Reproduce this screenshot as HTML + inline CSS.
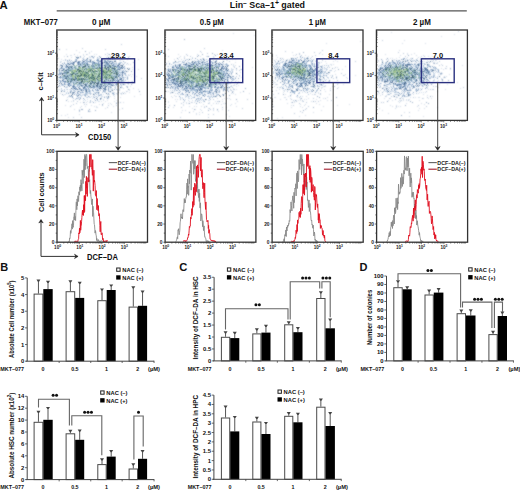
<!DOCTYPE html>
<html><head><meta charset="utf-8"><style>
html,body{margin:0;padding:0;background:#fff;width:520px;height:490px;overflow:hidden}
svg{display:block;font-family:"Liberation Sans", sans-serif}
</style></head><body>
<svg width="520" height="490" viewBox="0 0 520 490">
<rect width="520" height="490" fill="#fff"/>
<text x="-0.40" y="8.60" font-size="11.3" text-anchor="start" font-weight="bold" fill="#111" >A</text>
<line x1="56.70" y1="10.85" x2="466.80" y2="10.85" stroke="#555" stroke-width="1.4"/>
<text x="229.8" y="8.3" font-size="8.6" font-weight="bold" fill="#111" textLength="75.2" lengthAdjust="spacingAndGlyphs">Lin<tspan font-size="6.4" dy="-3.4">&#8211;</tspan><tspan dy="3.4"> Sca&#8211;1</tspan><tspan font-size="6.6" dy="-3.6">+</tspan><tspan dy="3.6"> gated</tspan></text>
<text x="23.80" y="25.10" font-size="8.2" text-anchor="start" font-weight="bold" fill="#111" textLength="34.00" lengthAdjust="spacingAndGlyphs" >MKT&#8211;077</text>
<defs><filter id="sf" filterUnits="userSpaceOnUse" x="0" y="0" width="520" height="130" color-interpolation-filters="sRGB"><feConvolveMatrix order="3" kernelMatrix="1 2 1 2 8 2 1 2 1" divisor="20" edgeMode="none"/></filter></defs>
<text x="101.20" y="25.20" font-size="8.3" text-anchor="middle" font-weight="bold" fill="#111" textLength="18.40" lengthAdjust="spacingAndGlyphs" >0 &#181;M</text>
<g filter="url(#sf)" stroke-linecap="square" stroke-width="1" transform="translate(.5 .5)">
<path d="M121 44h0M82 48h0M105 49h0M74 54h0M86 54h0M105 54h0M118 54h0M58 58h0M123 58h0M65 59h0M127 59h0M60 62h0M125 62h0M127 63h0M129 69h0M141 78h0M132 81h0M132 82h0M127 83h0M126 86h0M127 86h0M119 90h0M126 91h0M116 93h0M121 93h0M114 94h0M117 94h0M69 96h0M73 98h0M73 100h0M77 101h0M90 101h0M84 102h0M90 102h0M118 102h0M120 102h0M76 103h0M73 104h0M84 104h0M86 104h0M102 105h0M108 105h0M116 105h0M70 106h0M107 107h0M122 108h0M88 110h0M79 111h0M89 111h0M73 117h0M81 117h0" stroke="#bccadc"/>
<path d="M59 49h0M85 51h0M109 54h0M67 56h0M80 56h0M91 56h0M128 57h0M123 61h0M133 62h0M129 68h0M131 71h0M128 83h0M131 84h0M127 87h0M128 89h0M139 91h0M123 93h0M62 94h0M66 100h0M83 102h0M116 103h0M102 104h0M81 109h0M82 109h0M89 109h0M79 110h0M95 110h0M88 111h0" stroke="#98acc6"/>
<path d="M66 49h0M76 50h0M91 51h0M79 52h0M89 52h0M89 53h0M107 53h0M112 53h0M66 54h0M83 54h0M87 54h0M94 54h0M96 54h0M108 54h0M70 55h0M71 55h0M77 55h0M83 55h0M107 55h0M110 55h0M64 56h0M75 56h0M89 56h0M114 56h0M116 56h0M119 56h0M129 56h0M71 57h0M122 57h0M61 59h0M121 59h0M122 59h0M138 59h0M60 61h0M61 61h0M124 62h0M128 64h0M130 64h0M132 67h0M132 69h0M138 69h0M130 74h0M132 74h0M129 75h0M131 76h0M136 76h0M128 81h0M131 81h0M132 83h0M125 84h0M128 84h0M130 86h0M122 87h0M123 88h0M133 88h0M58 89h0M59 89h0M129 89h0M138 89h0M129 90h0M127 91h0M122 92h0M124 92h0M129 92h0M60 93h0M117 93h0M120 93h0M125 93h0M64 94h0M65 94h0M121 94h0M140 94h0M63 95h0M113 95h0M68 96h0M114 96h0M134 96h0M67 97h0M107 97h0M120 97h0M108 98h0M114 98h0M67 99h0M103 99h0M103 100h0M107 100h0M116 100h0M68 101h0M71 101h0M73 101h0M87 101h0M99 101h0M101 101h0M105 101h0M114 101h0M80 102h0M86 102h0M89 102h0M95 102h0M116 102h0M123 102h0M103 103h0M108 103h0M110 103h0M99 104h0M111 104h0M65 105h0M71 105h0M91 105h0M81 106h0M85 106h0M94 106h0M96 106h0M113 106h0M80 107h0M96 107h0M97 107h0M105 108h0M74 109h0M79 109h0M119 109h0M90 111h0M111 112h0M67 114h0M79 114h0M61 115h0M65 115h0M68 117h0" stroke="#d6dfea"/>
<path d="M84 56h0M83 57h0M89 57h0M90 57h0M92 57h0M78 58h0M82 58h0M83 58h0M93 58h0M97 58h0M98 58h0M99 58h0M110 58h0M69 59h0M84 59h0M91 59h0M109 59h0M114 59h0M63 60h0M75 60h0M84 60h0M94 60h0M114 60h0M119 60h0M120 60h0M68 61h0M72 61h0M82 61h0M107 61h0M67 62h0M69 62h0M70 62h0M71 62h0M72 62h0M116 62h0M119 62h0M122 63h0M124 63h0M60 64h0M126 64h0M64 65h0M59 66h0M61 66h0M121 66h0M124 67h0M59 68h0M125 68h0M124 69h0M58 70h0M123 71h0M125 71h0M127 71h0M128 71h0M124 72h0M124 74h0M128 74h0M58 75h0M126 75h0M128 75h0M127 76h0M124 77h0M125 79h0M119 81h0M124 81h0M62 82h0M122 83h0M123 83h0M63 84h0M121 84h0M122 84h0M61 85h0M63 85h0M119 85h0M60 86h0M67 86h0M115 86h0M119 86h0M121 86h0M65 87h0M67 87h0M114 87h0M112 88h0M115 88h0M119 88h0M61 89h0M66 89h0M69 89h0M70 89h0M72 89h0M110 89h0M111 89h0M112 89h0M61 90h0M64 90h0M70 90h0M104 90h0M111 90h0M117 90h0M63 91h0M67 91h0M74 91h0M87 91h0M66 92h0M68 92h0M85 92h0M99 92h0M104 92h0M105 92h0M110 92h0M112 92h0M113 92h0M114 92h0M70 93h0M75 93h0M80 93h0M87 93h0M88 93h0M91 93h0M93 93h0M78 94h0M80 94h0M82 94h0M83 94h0M87 94h0M103 94h0M107 94h0M109 94h0M81 95h0M82 95h0M87 95h0M94 95h0M100 95h0M101 95h0M71 96h0M81 96h0M89 96h0M91 96h0M95 96h0M98 96h0M101 96h0M102 96h0M104 96h0M110 96h0M79 97h0M86 97h0M89 97h0M90 97h0M93 97h0M101 97h0M106 97h0M78 98h0M92 98h0M87 99h0M94 99h0M83 100h0M85 100h0M92 101h0M98 101h0" stroke="#d0dcea"/>
<path d="M92 56h0M99 56h0M77 57h0M93 57h0M110 57h0M77 58h0M104 58h0M109 58h0M112 58h0M114 58h0M117 58h0M76 59h0M83 59h0M86 59h0M97 59h0M110 59h0M112 59h0M67 60h0M69 60h0M76 60h0M82 60h0M85 60h0M100 60h0M76 61h0M79 61h0M112 61h0M62 63h0M64 63h0M67 63h0M70 63h0M119 63h0M118 64h0M123 64h0M60 65h0M62 65h0M120 65h0M124 66h0M123 67h0M60 68h0M124 68h0M59 69h0M124 73h0M125 73h0M123 77h0M127 77h0M127 78h0M123 79h0M121 80h0M122 80h0M121 81h0M60 82h0M62 84h0M120 84h0M59 85h0M75 88h0M114 89h0M108 90h0M64 91h0M70 91h0M103 91h0M72 92h0M74 92h0M77 92h0M96 92h0M118 92h0M68 93h0M72 93h0M77 93h0M95 93h0M98 93h0M108 93h0M112 93h0M113 93h0M74 94h0M79 94h0M85 95h0M99 95h0M70 96h0M72 96h0M77 96h0M88 96h0M72 97h0M94 97h0M104 97h0M108 97h0M76 98h0M80 98h0M83 98h0M107 98h0M79 99h0M97 99h0M100 99h0M95 100h0M93 102h0" stroke="#8aa4c4"/>
<path d="M94 56h0M80 57h0M97 57h0M106 57h0M102 58h0M107 58h0M75 59h0M87 59h0M89 59h0M90 59h0M98 59h0M101 59h0M102 59h0M65 60h0M71 60h0M86 60h0M115 60h0M67 61h0M70 61h0M74 61h0M64 62h0M113 62h0M120 62h0M121 62h0M118 63h0M120 63h0M63 64h0M65 64h0M122 67h0M125 70h0M124 71h0M125 74h0M125 75h0M125 77h0M123 78h0M58 79h0M127 79h0M123 80h0M125 80h0M58 81h0M122 81h0M123 81h0M61 84h0M124 84h0M62 85h0M114 85h0M116 85h0M121 85h0M117 86h0M66 87h0M111 87h0M115 87h0M121 87h0M61 88h0M64 89h0M67 89h0M106 89h0M116 89h0M117 89h0M119 89h0M62 90h0M71 90h0M73 90h0M74 90h0M71 91h0M75 91h0M77 91h0M104 91h0M105 91h0M108 91h0M109 91h0M81 92h0M97 92h0M102 92h0M66 93h0M73 93h0M78 93h0M85 93h0M86 93h0M89 93h0M90 93h0M76 94h0M84 94h0M85 94h0M86 94h0M90 94h0M94 94h0M96 94h0M98 94h0M100 94h0M101 94h0M108 94h0M113 94h0M69 95h0M76 95h0M77 95h0M80 95h0M84 95h0M98 95h0M85 96h0M93 96h0M96 96h0M106 96h0M78 97h0M80 97h0M87 97h0M97 97h0M77 98h0M101 98h0M75 99h0M84 99h0M90 100h0M97 100h0" stroke="#b0c4da"/>
<path d="M76 57h0M78 57h0M100 57h0M108 57h0M111 57h0M87 58h0M108 58h0M101 60h0M75 61h0M114 61h0M115 61h0M68 63h0M119 64h0M61 65h0M121 65h0M122 65h0M62 66h0M122 66h0M61 67h0M127 68h0M128 69h0M126 71h0M120 82h0M59 83h0M61 83h0M117 84h0M123 84h0M58 86h0M64 86h0M120 87h0M112 90h0M61 91h0M78 91h0M110 91h0M70 92h0M73 92h0M98 92h0M106 93h0M72 94h0M93 94h0M71 95h0M78 95h0M108 96h0M96 98h0M100 98h0" stroke="#5a7898"/>
<path d="M87 60h0M102 60h0M103 60h0M97 61h0M81 62h0M84 62h0M86 62h0M89 62h0M91 62h0M95 62h0M96 62h0M100 62h0M103 62h0M74 63h0M81 63h0M83 63h0M85 63h0M99 63h0M104 63h0M109 63h0M113 63h0M115 63h0M67 64h0M77 64h0M81 64h0M93 64h0M104 64h0M114 64h0M115 64h0M68 65h0M71 65h0M77 65h0M78 65h0M114 65h0M115 65h0M64 66h0M65 66h0M62 67h0M66 68h0M119 68h0M120 69h0M119 70h0M120 70h0M121 70h0M122 70h0M61 71h0M119 71h0M60 72h0M63 72h0M120 73h0M64 74h0M120 74h0M121 74h0M61 75h0M117 76h0M119 76h0M121 76h0M63 78h0M119 78h0M62 79h0M65 80h0M115 80h0M119 80h0M61 81h0M62 81h0M66 81h0M120 81h0M66 82h0M112 82h0M70 83h0M71 83h0M74 83h0M105 83h0M107 83h0M112 83h0M66 84h0M70 84h0M71 84h0M75 84h0M76 84h0M112 84h0M69 85h0M74 85h0M78 85h0M79 85h0M100 85h0M110 85h0M66 86h0M75 86h0M76 86h0M95 86h0M103 86h0M104 86h0M72 87h0M74 87h0M79 87h0M82 87h0M95 87h0M96 87h0M99 87h0M104 87h0M72 88h0M90 88h0M94 88h0M96 88h0M97 88h0M98 88h0M110 88h0M73 89h0M78 89h0M82 89h0M83 89h0M84 89h0M87 89h0M99 89h0M102 89h0M80 90h0M82 90h0M88 90h0M90 90h0M93 90h0M95 90h0M82 91h0M90 91h0M89 92h0M90 92h0M94 92h0M95 92h0" stroke="#c8d8e8"/>
<path d="M90 60h0M83 61h0M90 61h0M100 61h0M110 61h0M73 62h0M78 62h0M94 62h0M102 62h0M104 62h0M106 62h0M111 63h0M69 64h0M73 64h0M78 64h0M66 65h0M112 65h0M118 65h0M67 66h0M114 66h0M115 66h0M121 67h0M122 68h0M63 69h0M119 69h0M62 70h0M65 70h0M122 72h0M122 75h0M60 76h0M116 76h0M118 76h0M121 78h0M120 79h0M62 80h0M67 80h0M118 80h0M65 81h0M118 81h0M118 82h0M69 83h0M101 84h0M68 85h0M85 85h0M97 85h0M103 85h0M112 85h0M73 86h0M90 86h0M93 86h0M97 86h0M99 86h0M101 86h0M106 86h0M84 87h0M91 87h0M100 87h0M105 87h0M71 88h0M74 88h0M79 88h0M83 88h0M99 88h0M100 88h0M103 88h0M77 89h0M105 89h0M81 90h0M86 90h0M86 91h0" stroke="#44648a"/>
<path d="M96 60h0M108 60h0M80 61h0M86 61h0M87 61h0M89 61h0M93 61h0M98 61h0M99 61h0M104 61h0M106 61h0M108 61h0M111 61h0M83 62h0M85 62h0M87 62h0M90 62h0M92 62h0M105 62h0M77 63h0M79 63h0M80 63h0M93 63h0M97 63h0M100 63h0M110 63h0M112 63h0M114 63h0M116 63h0M66 64h0M68 64h0M70 64h0M72 64h0M79 64h0M82 64h0M86 64h0M94 64h0M105 64h0M106 64h0M111 64h0M116 64h0M113 66h0M116 66h0M118 66h0M65 67h0M117 67h0M118 67h0M120 67h0M62 68h0M63 68h0M64 68h0M118 68h0M121 68h0M123 70h0M59 71h0M118 71h0M59 72h0M61 72h0M119 72h0M120 72h0M121 72h0M59 73h0M61 73h0M59 74h0M117 75h0M118 75h0M120 75h0M62 76h0M122 76h0M58 77h0M61 77h0M119 77h0M120 77h0M122 77h0M60 78h0M62 78h0M120 78h0M59 80h0M60 80h0M63 80h0M117 80h0M64 82h0M65 82h0M114 82h0M116 82h0M117 82h0M117 83h0M65 84h0M67 84h0M69 84h0M73 84h0M105 84h0M110 84h0M113 84h0M115 84h0M71 85h0M80 85h0M83 85h0M91 85h0M104 85h0M105 85h0M113 85h0M77 86h0M81 86h0M82 86h0M88 86h0M102 86h0M109 86h0M110 86h0M85 87h0M87 87h0M89 87h0M93 87h0M97 87h0M98 87h0M102 87h0M108 87h0M73 88h0M80 88h0M84 88h0M85 88h0M86 88h0M93 88h0M76 89h0M79 89h0M80 89h0M88 89h0M89 89h0M92 89h0M85 90h0M89 90h0M96 90h0M100 90h0M105 90h0M79 91h0M85 91h0M88 91h0M93 91h0M83 92h0M86 92h0M87 92h0" stroke="#a0bad4"/>
<path d="M97 60h0M98 60h0M104 60h0M105 60h0M107 60h0M78 61h0M84 61h0M88 61h0M92 61h0M105 61h0M109 61h0M74 62h0M77 62h0M79 62h0M82 62h0M93 62h0M98 62h0M101 62h0M107 62h0M109 62h0M112 62h0M71 63h0M72 63h0M73 63h0M78 63h0M82 63h0M84 63h0M86 63h0M87 63h0M92 63h0M94 63h0M96 63h0M98 63h0M107 63h0M108 63h0M98 64h0M107 64h0M108 64h0M113 64h0M113 65h0M117 65h0M66 66h0M69 66h0M117 66h0M119 66h0M66 67h0M119 67h0M61 68h0M120 68h0M59 70h0M61 70h0M122 71h0M123 72h0M60 73h0M63 73h0M118 73h0M122 73h0M58 74h0M60 74h0M119 74h0M122 74h0M59 77h0M60 77h0M117 78h0M63 79h0M117 79h0M119 79h0M121 79h0M114 80h0M116 80h0M60 81h0M63 81h0M64 81h0M115 81h0M117 81h0M67 82h0M64 83h0M68 83h0M75 83h0M108 83h0M110 83h0M116 83h0M64 84h0M68 84h0M109 84h0M111 84h0M116 84h0M70 85h0M73 85h0M82 85h0M93 85h0M101 85h0M107 85h0M111 85h0M69 86h0M72 86h0M74 86h0M86 86h0M87 86h0M96 86h0M100 86h0M105 86h0M108 86h0M73 87h0M75 87h0M78 87h0M83 87h0M92 87h0M94 87h0M110 87h0M76 88h0M88 88h0M101 88h0M104 88h0M105 88h0M108 88h0M75 89h0M81 89h0M85 89h0M86 89h0M95 89h0M97 89h0M104 89h0M108 89h0M83 90h0M92 90h0M97 90h0M98 90h0M103 90h0M89 91h0M80 92h0M82 92h0" stroke="#7492b8"/>
<path d="M95 63h0M85 64h0M88 64h0M89 64h0M101 64h0M73 65h0M80 65h0M81 65h0M92 65h0M100 65h0M102 65h0M106 65h0M107 65h0M108 65h0M74 66h0M75 66h0M82 66h0M98 66h0M99 66h0M101 66h0M107 66h0M108 66h0M69 67h0M70 67h0M88 67h0M89 67h0M92 67h0M94 67h0M111 67h0M71 68h0M76 68h0M78 68h0M94 68h0M64 69h0M66 69h0M70 69h0M71 69h0M72 69h0M79 69h0M109 69h0M111 69h0M115 69h0M63 70h0M71 70h0M113 70h0M114 70h0M117 70h0M66 71h0M67 71h0M68 71h0M116 71h0M114 72h0M115 72h0M65 73h0M75 73h0M66 74h0M69 74h0M76 74h0M65 75h0M68 75h0M111 75h0M112 75h0M114 75h0M63 76h0M68 76h0M74 76h0M114 76h0M62 77h0M63 77h0M65 77h0M72 77h0M64 78h0M67 78h0M68 78h0M70 78h0M101 78h0M107 78h0M66 79h0M67 79h0M69 79h0M70 79h0M76 79h0M88 79h0M105 79h0M108 79h0M115 79h0M70 80h0M76 80h0M80 80h0M86 80h0M97 80h0M106 80h0M75 81h0M83 81h0M94 81h0M99 81h0M105 81h0M106 81h0M109 81h0M68 82h0M78 82h0M87 82h0M97 82h0M100 82h0M106 82h0M111 82h0M80 83h0M85 83h0M93 83h0M100 83h0M102 83h0M77 84h0M78 84h0M79 84h0M80 84h0M91 84h0M94 84h0M95 84h0M98 84h0M102 84h0M106 84h0M77 85h0M88 85h0M92 85h0M99 85h0M85 86h0M90 87h0" stroke="#98b8cc"/>
<path d="M101 63h0M106 63h0M83 64h0M92 64h0M99 64h0M87 65h0M91 65h0M93 65h0M96 65h0M98 65h0M99 65h0M105 65h0M70 66h0M71 66h0M72 66h0M78 66h0M92 66h0M93 66h0M94 66h0M109 66h0M74 67h0M97 67h0M104 67h0M112 67h0M68 68h0M69 68h0M72 68h0M75 68h0M85 68h0M86 68h0M89 68h0M93 68h0M97 68h0M108 68h0M115 68h0M67 69h0M68 69h0M90 69h0M101 69h0M117 69h0M118 69h0M68 70h0M112 70h0M116 70h0M72 71h0M64 72h0M65 72h0M66 72h0M117 72h0M64 73h0M66 73h0M74 73h0M113 73h0M70 74h0M67 75h0M69 75h0M71 75h0M119 75h0M64 76h0M65 76h0M66 76h0M71 76h0M113 76h0M115 76h0M66 77h0M116 77h0M69 78h0M71 78h0M72 78h0M75 78h0M82 78h0M113 78h0M114 78h0M75 79h0M80 79h0M85 79h0M86 79h0M94 79h0M101 79h0M71 80h0M72 80h0M112 80h0M113 80h0M71 81h0M84 81h0M91 81h0M98 81h0M102 81h0M112 81h0M70 82h0M73 82h0M76 82h0M79 82h0M80 82h0M93 82h0M103 82h0M108 82h0M73 83h0M81 83h0M87 83h0M104 83h0M109 83h0M84 84h0M86 84h0M90 84h0M108 84h0M86 85h0M79 86h0M84 86h0M94 86h0" stroke="#6e90aa"/>
<path d="M102 63h0M80 64h0M87 64h0M85 65h0M104 65h0M109 65h0M79 66h0M83 66h0M84 66h0M85 66h0M88 66h0M105 66h0M110 66h0M68 67h0M71 67h0M82 67h0M99 67h0M105 67h0M108 67h0M110 67h0M96 68h0M112 68h0M113 68h0M114 68h0M108 69h0M114 69h0M66 70h0M115 71h0M67 72h0M68 72h0M116 72h0M62 73h0M114 73h0M116 73h0M62 74h0M116 74h0M117 74h0M64 75h0M67 76h0M75 77h0M111 77h0M115 77h0M65 78h0M66 78h0M76 78h0M109 78h0M112 78h0M71 79h0M73 79h0M81 79h0M106 79h0M113 79h0M74 80h0M77 80h0M108 80h0M110 80h0M68 81h0M70 81h0M89 81h0M92 81h0M104 81h0M77 82h0M81 82h0M92 82h0M95 82h0M98 82h0M105 82h0M79 83h0M83 83h0M90 83h0M91 83h0M94 83h0M96 83h0M97 83h0M98 83h0M85 84h0M97 84h0M100 84h0M81 85h0M89 85h0M96 85h0" stroke="#3a5a74"/>
<path d="M105 63h0M90 64h0M96 64h0M100 64h0M102 64h0M109 64h0M79 65h0M82 65h0M84 65h0M86 65h0M88 65h0M89 65h0M94 65h0M97 65h0M103 65h0M111 65h0M68 66h0M76 66h0M80 66h0M81 66h0M86 66h0M87 66h0M90 66h0M95 66h0M96 66h0M97 66h0M102 66h0M104 66h0M106 66h0M111 66h0M112 66h0M67 67h0M72 67h0M73 67h0M76 67h0M87 67h0M91 67h0M93 67h0M98 67h0M109 67h0M113 67h0M70 68h0M73 68h0M74 68h0M77 68h0M107 68h0M117 68h0M69 69h0M73 69h0M74 69h0M107 69h0M113 69h0M116 69h0M64 70h0M67 70h0M63 71h0M65 71h0M69 71h0M77 71h0M112 71h0M114 71h0M69 72h0M77 72h0M118 72h0M68 73h0M69 73h0M112 73h0M65 74h0M67 74h0M114 74h0M115 74h0M118 74h0M62 75h0M66 75h0M70 75h0M113 75h0M115 75h0M69 76h0M64 77h0M67 77h0M69 77h0M70 77h0M71 77h0M114 77h0M104 78h0M115 78h0M116 78h0M64 79h0M96 79h0M103 79h0M104 79h0M107 79h0M110 79h0M111 79h0M114 79h0M68 80h0M69 80h0M73 80h0M75 80h0M88 80h0M96 80h0M102 80h0M105 80h0M109 80h0M111 80h0M69 81h0M72 81h0M73 81h0M74 81h0M76 81h0M78 81h0M79 81h0M80 81h0M90 81h0M93 81h0M101 81h0M107 81h0M108 81h0M111 81h0M113 81h0M71 82h0M72 82h0M74 82h0M75 82h0M82 82h0M85 82h0M86 82h0M91 82h0M96 82h0M99 82h0M101 82h0M107 82h0M109 82h0M78 83h0M82 83h0M86 83h0M92 83h0M99 83h0M101 83h0M103 83h0M106 83h0M81 84h0M83 84h0M87 84h0M88 84h0M89 84h0M99 84h0M107 84h0M90 85h0M94 85h0M95 85h0M98 85h0M92 86h0M98 86h0M88 87h0" stroke="#c4d8e4"/>
<path d="M84 64h0M95 64h0M97 64h0M74 65h0M76 65h0M95 65h0M101 65h0M110 65h0M89 66h0M91 66h0M75 67h0M78 67h0M79 67h0M80 67h0M84 67h0M114 67h0M116 67h0M98 68h0M109 68h0M111 68h0M93 69h0M83 70h0M115 70h0M64 71h0M117 71h0M117 73h0M63 75h0M116 75h0M112 77h0M113 77h0M117 77h0M73 78h0M111 78h0M68 79h0M72 79h0M98 79h0M112 79h0M90 80h0M67 81h0M100 81h0M103 81h0M110 81h0M83 82h0M84 82h0M102 82h0M104 82h0M76 83h0M89 83h0M74 84h0M93 84h0M104 84h0M89 86h0" stroke="#90b894"/>
<path d="M100 66h0M85 67h0M86 67h0M90 67h0M95 67h0M96 67h0M101 67h0M103 67h0M81 68h0M83 68h0M84 68h0M87 68h0M102 68h0M103 68h0M76 69h0M80 69h0M81 69h0M83 69h0M85 69h0M92 69h0M99 69h0M100 69h0M104 69h0M105 69h0M112 69h0M76 70h0M82 70h0M84 70h0M85 70h0M87 70h0M96 70h0M97 70h0M106 70h0M107 70h0M70 71h0M73 71h0M84 71h0M86 71h0M87 71h0M91 71h0M98 71h0M101 71h0M75 72h0M76 72h0M81 72h0M89 72h0M90 72h0M92 72h0M95 72h0M97 72h0M98 72h0M101 72h0M108 72h0M110 72h0M113 72h0M71 73h0M79 73h0M90 73h0M93 73h0M97 73h0M107 73h0M108 73h0M109 73h0M68 74h0M73 74h0M74 74h0M77 74h0M78 74h0M79 74h0M93 74h0M95 74h0M97 74h0M100 74h0M111 74h0M112 74h0M113 74h0M74 75h0M87 75h0M90 75h0M94 75h0M96 75h0M97 75h0M100 75h0M104 75h0M106 75h0M108 75h0M76 76h0M81 76h0M90 76h0M96 76h0M102 76h0M103 76h0M107 76h0M110 76h0M112 76h0M74 77h0M76 77h0M79 77h0M80 77h0M81 77h0M82 77h0M85 77h0M87 77h0M95 77h0M96 77h0M99 77h0M108 77h0M74 78h0M84 78h0M86 78h0M87 78h0M97 78h0M102 78h0M110 78h0M90 79h0M91 79h0M99 79h0M85 80h0M87 80h0M107 80h0M96 81h0M97 81h0" stroke="#c0d8d0"/>
<path d="M83 67h0M102 67h0M92 68h0M95 68h0M99 68h0M105 68h0M82 69h0M86 69h0M91 69h0M69 70h0M70 70h0M77 70h0M89 70h0M95 70h0M98 70h0M101 70h0M103 70h0M78 71h0M85 71h0M90 71h0M92 71h0M94 71h0M95 71h0M97 71h0M99 71h0M106 71h0M107 71h0M113 71h0M73 72h0M82 72h0M85 72h0M87 72h0M91 72h0M93 72h0M103 72h0M112 72h0M72 73h0M76 73h0M82 73h0M86 73h0M87 73h0M88 73h0M94 73h0M96 73h0M99 73h0M100 73h0M102 73h0M105 73h0M85 74h0M89 74h0M103 74h0M106 74h0M107 74h0M108 74h0M77 75h0M83 75h0M85 75h0M103 75h0M105 75h0M107 75h0M110 75h0M75 76h0M80 76h0M84 76h0M85 76h0M87 76h0M88 76h0M91 76h0M92 76h0M95 76h0M97 76h0M98 76h0M101 76h0M104 76h0M106 76h0M111 76h0M68 77h0M84 77h0M88 77h0M91 77h0M92 77h0M94 77h0M101 77h0M104 77h0M105 77h0M78 78h0M79 78h0M92 78h0M105 78h0M78 79h0M82 79h0M83 79h0M87 79h0M102 79h0M78 80h0M91 80h0M95 80h0M98 80h0M87 81h0M88 82h0M90 82h0M94 82h0" stroke="#68948c"/>
<path d="M100 67h0M80 68h0M82 68h0M88 68h0M91 68h0M104 68h0M87 69h0M110 69h0M74 70h0M86 70h0M88 70h0M102 70h0M104 70h0M110 70h0M111 70h0M71 71h0M75 71h0M80 71h0M105 71h0M109 71h0M71 72h0M72 72h0M74 72h0M78 72h0M79 72h0M84 72h0M94 72h0M99 72h0M100 72h0M102 72h0M105 72h0M107 72h0M109 72h0M67 73h0M70 73h0M78 73h0M81 73h0M84 73h0M85 73h0M91 73h0M92 73h0M95 73h0M98 73h0M101 73h0M106 73h0M110 73h0M111 73h0M83 74h0M87 74h0M88 74h0M91 74h0M94 74h0M96 74h0M98 74h0M101 74h0M102 74h0M105 74h0M109 74h0M110 74h0M75 75h0M76 75h0M79 75h0M89 75h0M99 75h0M70 76h0M78 76h0M86 76h0M93 76h0M100 76h0M105 76h0M108 76h0M98 77h0M103 77h0M107 77h0M109 77h0M110 77h0M80 78h0M85 78h0M88 78h0M90 78h0M93 78h0M99 78h0M106 78h0M108 78h0M77 79h0M89 79h0M92 79h0M100 79h0M84 80h0M92 80h0M94 80h0M85 81h0" stroke="#90b890"/>
<path d="M107 67h0M100 68h0M101 68h0M106 68h0M77 69h0M78 69h0M84 69h0M106 69h0M79 70h0M80 70h0M90 70h0M92 70h0M100 70h0M108 70h0M76 71h0M79 71h0M81 71h0M83 71h0M88 71h0M93 71h0M96 71h0M102 71h0M103 71h0M110 71h0M86 72h0M104 72h0M106 72h0M111 72h0M73 73h0M77 73h0M80 73h0M71 74h0M72 74h0M75 74h0M81 74h0M84 74h0M92 74h0M99 74h0M78 75h0M80 75h0M81 75h0M84 75h0M86 75h0M88 75h0M92 75h0M93 75h0M98 75h0M109 75h0M77 76h0M79 76h0M99 76h0M86 77h0M90 77h0M93 77h0M97 77h0M106 77h0M81 78h0M83 78h0M89 78h0M91 78h0M94 78h0M96 78h0M100 78h0M74 79h0M79 79h0M84 79h0M93 79h0M97 79h0M82 80h0M100 80h0M104 80h0M81 81h0M82 81h0" stroke="#385a64"/>
<path d="M79 68h0M90 68h0M75 69h0M88 69h0M89 69h0M94 69h0M97 69h0M98 69h0M102 69h0M103 69h0M72 70h0M73 70h0M75 70h0M78 70h0M81 70h0M91 70h0M94 70h0M99 70h0M105 70h0M109 70h0M74 71h0M82 71h0M89 71h0M100 71h0M104 71h0M108 71h0M80 72h0M83 72h0M88 72h0M83 73h0M103 73h0M104 73h0M115 73h0M80 74h0M82 74h0M86 74h0M90 74h0M104 74h0M72 75h0M73 75h0M82 75h0M91 75h0M95 75h0M101 75h0M102 75h0M72 76h0M73 76h0M82 76h0M83 76h0M89 76h0M94 76h0M109 76h0M73 77h0M77 77h0M78 77h0M89 77h0M100 77h0M102 77h0M77 78h0M95 78h0M98 78h0M103 78h0M95 79h0M79 80h0M81 80h0M89 80h0M93 80h0M99 80h0M86 81h0M88 81h0M95 81h0" stroke="#a8c890"/>
</g>
<rect x="56.80" y="30.0" width="90.50" height="90.40" fill="none" stroke="#333" stroke-width="1.3"/>
<line x1="56.80" y1="120.40" x2="56.80" y2="122.40" stroke="#333" stroke-width="0.6"/>
<line x1="63.56" y1="120.40" x2="63.56" y2="121.80" stroke="#333" stroke-width="0.6"/>
<line x1="67.51" y1="120.40" x2="67.51" y2="121.80" stroke="#333" stroke-width="0.6"/>
<line x1="70.32" y1="120.40" x2="70.32" y2="121.80" stroke="#333" stroke-width="0.6"/>
<line x1="72.49" y1="120.40" x2="72.49" y2="121.80" stroke="#333" stroke-width="0.6"/>
<line x1="74.27" y1="120.40" x2="74.27" y2="121.80" stroke="#333" stroke-width="0.6"/>
<line x1="75.77" y1="120.40" x2="75.77" y2="121.80" stroke="#333" stroke-width="0.6"/>
<line x1="77.07" y1="120.40" x2="77.07" y2="121.80" stroke="#333" stroke-width="0.6"/>
<line x1="78.22" y1="120.40" x2="78.22" y2="121.80" stroke="#333" stroke-width="0.6"/>
<line x1="79.25" y1="120.40" x2="79.25" y2="122.40" stroke="#333" stroke-width="0.6"/>
<line x1="86.01" y1="120.40" x2="86.01" y2="121.80" stroke="#333" stroke-width="0.6"/>
<line x1="89.96" y1="120.40" x2="89.96" y2="121.80" stroke="#333" stroke-width="0.6"/>
<line x1="92.77" y1="120.40" x2="92.77" y2="121.80" stroke="#333" stroke-width="0.6"/>
<line x1="94.94" y1="120.40" x2="94.94" y2="121.80" stroke="#333" stroke-width="0.6"/>
<line x1="96.72" y1="120.40" x2="96.72" y2="121.80" stroke="#333" stroke-width="0.6"/>
<line x1="98.22" y1="120.40" x2="98.22" y2="121.80" stroke="#333" stroke-width="0.6"/>
<line x1="99.52" y1="120.40" x2="99.52" y2="121.80" stroke="#333" stroke-width="0.6"/>
<line x1="100.67" y1="120.40" x2="100.67" y2="121.80" stroke="#333" stroke-width="0.6"/>
<line x1="101.70" y1="120.40" x2="101.70" y2="122.40" stroke="#333" stroke-width="0.6"/>
<line x1="108.46" y1="120.40" x2="108.46" y2="121.80" stroke="#333" stroke-width="0.6"/>
<line x1="112.41" y1="120.40" x2="112.41" y2="121.80" stroke="#333" stroke-width="0.6"/>
<line x1="115.22" y1="120.40" x2="115.22" y2="121.80" stroke="#333" stroke-width="0.6"/>
<line x1="117.39" y1="120.40" x2="117.39" y2="121.80" stroke="#333" stroke-width="0.6"/>
<line x1="119.17" y1="120.40" x2="119.17" y2="121.80" stroke="#333" stroke-width="0.6"/>
<line x1="120.67" y1="120.40" x2="120.67" y2="121.80" stroke="#333" stroke-width="0.6"/>
<line x1="121.97" y1="120.40" x2="121.97" y2="121.80" stroke="#333" stroke-width="0.6"/>
<line x1="123.12" y1="120.40" x2="123.12" y2="121.80" stroke="#333" stroke-width="0.6"/>
<line x1="124.15" y1="120.40" x2="124.15" y2="122.40" stroke="#333" stroke-width="0.6"/>
<line x1="130.91" y1="120.40" x2="130.91" y2="121.80" stroke="#333" stroke-width="0.6"/>
<line x1="134.86" y1="120.40" x2="134.86" y2="121.80" stroke="#333" stroke-width="0.6"/>
<line x1="137.67" y1="120.40" x2="137.67" y2="121.80" stroke="#333" stroke-width="0.6"/>
<line x1="139.84" y1="120.40" x2="139.84" y2="121.80" stroke="#333" stroke-width="0.6"/>
<line x1="141.62" y1="120.40" x2="141.62" y2="121.80" stroke="#333" stroke-width="0.6"/>
<line x1="143.12" y1="120.40" x2="143.12" y2="121.80" stroke="#333" stroke-width="0.6"/>
<line x1="144.42" y1="120.40" x2="144.42" y2="121.80" stroke="#333" stroke-width="0.6"/>
<line x1="145.57" y1="120.40" x2="145.57" y2="121.80" stroke="#333" stroke-width="0.6"/>
<line x1="55.00" y1="120.40" x2="56.80" y2="120.40" stroke="#333" stroke-width="0.7"/>
<line x1="56.80" y1="113.66" x2="58.00" y2="113.66" stroke="#333" stroke-width="0.6"/>
<line x1="56.80" y1="109.71" x2="58.00" y2="109.71" stroke="#333" stroke-width="0.6"/>
<line x1="56.80" y1="106.91" x2="58.00" y2="106.91" stroke="#333" stroke-width="0.6"/>
<line x1="56.80" y1="104.74" x2="58.00" y2="104.74" stroke="#333" stroke-width="0.6"/>
<line x1="56.80" y1="102.97" x2="58.00" y2="102.97" stroke="#333" stroke-width="0.6"/>
<line x1="56.80" y1="101.47" x2="58.00" y2="101.47" stroke="#333" stroke-width="0.6"/>
<line x1="56.80" y1="100.17" x2="58.00" y2="100.17" stroke="#333" stroke-width="0.6"/>
<line x1="56.80" y1="99.02" x2="58.00" y2="99.02" stroke="#333" stroke-width="0.6"/>
<line x1="55.00" y1="98.00" x2="56.80" y2="98.00" stroke="#333" stroke-width="0.7"/>
<line x1="56.80" y1="91.26" x2="58.00" y2="91.26" stroke="#333" stroke-width="0.6"/>
<line x1="56.80" y1="87.31" x2="58.00" y2="87.31" stroke="#333" stroke-width="0.6"/>
<line x1="56.80" y1="84.51" x2="58.00" y2="84.51" stroke="#333" stroke-width="0.6"/>
<line x1="56.80" y1="82.34" x2="58.00" y2="82.34" stroke="#333" stroke-width="0.6"/>
<line x1="56.80" y1="80.57" x2="58.00" y2="80.57" stroke="#333" stroke-width="0.6"/>
<line x1="56.80" y1="79.07" x2="58.00" y2="79.07" stroke="#333" stroke-width="0.6"/>
<line x1="56.80" y1="77.77" x2="58.00" y2="77.77" stroke="#333" stroke-width="0.6"/>
<line x1="56.80" y1="76.62" x2="58.00" y2="76.62" stroke="#333" stroke-width="0.6"/>
<line x1="55.00" y1="75.60" x2="56.80" y2="75.60" stroke="#333" stroke-width="0.7"/>
<line x1="56.80" y1="68.86" x2="58.00" y2="68.86" stroke="#333" stroke-width="0.6"/>
<line x1="56.80" y1="64.91" x2="58.00" y2="64.91" stroke="#333" stroke-width="0.6"/>
<line x1="56.80" y1="62.11" x2="58.00" y2="62.11" stroke="#333" stroke-width="0.6"/>
<line x1="56.80" y1="59.94" x2="58.00" y2="59.94" stroke="#333" stroke-width="0.6"/>
<line x1="56.80" y1="58.17" x2="58.00" y2="58.17" stroke="#333" stroke-width="0.6"/>
<line x1="56.80" y1="56.67" x2="58.00" y2="56.67" stroke="#333" stroke-width="0.6"/>
<line x1="56.80" y1="55.37" x2="58.00" y2="55.37" stroke="#333" stroke-width="0.6"/>
<line x1="56.80" y1="54.22" x2="58.00" y2="54.22" stroke="#333" stroke-width="0.6"/>
<line x1="55.00" y1="53.20" x2="56.80" y2="53.20" stroke="#333" stroke-width="0.7"/>
<line x1="56.80" y1="46.46" x2="58.00" y2="46.46" stroke="#333" stroke-width="0.6"/>
<line x1="56.80" y1="42.51" x2="58.00" y2="42.51" stroke="#333" stroke-width="0.6"/>
<line x1="56.80" y1="39.71" x2="58.00" y2="39.71" stroke="#333" stroke-width="0.6"/>
<line x1="56.80" y1="37.54" x2="58.00" y2="37.54" stroke="#333" stroke-width="0.6"/>
<line x1="56.80" y1="35.77" x2="58.00" y2="35.77" stroke="#333" stroke-width="0.6"/>
<line x1="56.80" y1="34.27" x2="58.00" y2="34.27" stroke="#333" stroke-width="0.6"/>
<line x1="56.80" y1="32.97" x2="58.00" y2="32.97" stroke="#333" stroke-width="0.6"/>
<line x1="56.80" y1="31.82" x2="58.00" y2="31.82" stroke="#333" stroke-width="0.6"/>
<text x="56.60" y="128.00" font-size="4.6" font-weight="bold" text-anchor="middle" fill="#222">10<tspan font-size="3.31" dy="-2.2">0</tspan></text>
<text x="54.20" y="122.20" font-size="4.6" font-weight="bold" text-anchor="end" fill="#222">10<tspan font-size="3.31" dy="-2.2">0</tspan></text>
<text x="79.05" y="128.00" font-size="4.6" font-weight="bold" text-anchor="middle" fill="#222">10<tspan font-size="3.31" dy="-2.2">1</tspan></text>
<text x="54.20" y="99.80" font-size="4.6" font-weight="bold" text-anchor="end" fill="#222">10<tspan font-size="3.31" dy="-2.2">1</tspan></text>
<text x="101.50" y="128.00" font-size="4.6" font-weight="bold" text-anchor="middle" fill="#222">10<tspan font-size="3.31" dy="-2.2">2</tspan></text>
<text x="54.20" y="77.40" font-size="4.6" font-weight="bold" text-anchor="end" fill="#222">10<tspan font-size="3.31" dy="-2.2">2</tspan></text>
<text x="123.95" y="128.00" font-size="4.6" font-weight="bold" text-anchor="middle" fill="#222">10<tspan font-size="3.31" dy="-2.2">3</tspan></text>
<text x="54.20" y="55.00" font-size="4.6" font-weight="bold" text-anchor="end" fill="#222">10<tspan font-size="3.31" dy="-2.2">3</tspan></text>
<rect x="101.80" y="58.8" width="32.80" height="23.8" fill="none" stroke="#2b3180" stroke-width="1.4"/>
<text x="118.30" y="57.60" font-size="7.5" text-anchor="middle" font-weight="bold" fill="#111" >29.2</text>
<line x1="118.10" y1="82.60" x2="118.10" y2="148.50" stroke="#444" stroke-width="1.0"/>
<path d="M115.70 146.6 L118.10 150.3 L120.50 146.6 L118.10 148.0 Z" fill="#222" stroke="#222" stroke-width="0.6" stroke-linejoin="round"/>
<text x="211.85" y="25.20" font-size="8.3" text-anchor="middle" font-weight="bold" fill="#111" textLength="24.10" lengthAdjust="spacingAndGlyphs" >0.5 &#181;M</text>
<g filter="url(#sf)" stroke-linecap="square" stroke-width="1" transform="translate(.5 .5)">
<path d="M233 33h0M254 35h0M222 50h0M201 52h0M221 53h0M178 54h0M197 54h0M222 55h0M180 56h0M184 56h0M200 56h0M206 56h0M213 56h0M179 57h0M184 57h0M214 57h0M231 57h0M218 58h0M221 58h0M229 58h0M230 58h0M174 59h0M178 59h0M223 59h0M232 59h0M235 59h0M226 60h0M227 60h0M168 61h0M235 62h0M233 64h0M242 64h0M233 65h0M235 65h0M233 66h0M234 66h0M252 67h0M236 69h0M240 69h0M236 70h0M240 72h0M237 74h0M239 76h0M241 77h0M236 80h0M234 84h0M234 85h0M238 85h0M236 86h0M233 88h0M236 89h0M230 90h0M168 91h0M233 91h0M240 92h0M231 93h0M233 93h0M249 93h0M235 94h0M174 95h0M171 96h0M175 96h0M176 96h0M172 97h0M217 98h0M224 98h0M229 98h0M175 99h0M177 99h0M222 99h0M230 99h0M168 101h0M176 101h0M184 101h0M203 101h0M215 101h0M218 101h0M222 101h0M237 101h0M168 102h0M186 102h0M192 102h0M194 102h0M209 102h0M186 103h0M188 103h0M209 103h0M213 103h0M218 103h0M223 103h0M235 103h0M252 103h0M183 104h0M203 104h0M221 104h0M231 104h0M183 105h0M211 105h0M230 105h0M189 106h0M194 106h0M196 106h0M201 106h0M204 106h0M236 106h0M173 107h0M226 107h0M192 108h0M208 108h0M195 109h0M200 109h0M213 109h0M222 109h0M182 110h0M185 110h0M201 110h0M213 110h0M217 110h0M193 111h0M218 111h0M181 112h0M199 112h0M196 113h0M196 114h0M199 114h0M229 116h0" stroke="#d6dfea"/>
<path d="M184 39h0M212 53h0M202 54h0M198 55h0M215 55h0M197 56h0M208 56h0M177 58h0M166 63h0M239 66h0M236 68h0M241 69h0M238 78h0M237 83h0M245 88h0M228 91h0M243 91h0M232 92h0M229 95h0M236 99h0M219 101h0M199 102h0M189 103h0M225 103h0M174 105h0M206 106h0M168 107h0M194 109h0M217 109h0M208 110h0M189 112h0" stroke="#98acc6"/>
<path d="M204 48h0M168 49h0M200 51h0M207 53h0M186 54h0M214 54h0M217 54h0M187 55h0M168 56h0M190 56h0M207 56h0M223 56h0M213 57h0M184 58h0M229 61h0M166 64h0M231 64h0M234 67h0M239 70h0M239 75h0M236 76h0M235 81h0M238 81h0M236 84h0M232 87h0M230 89h0M233 89h0M234 89h0M231 90h0M166 91h0M232 91h0M171 92h0M222 94h0M227 98h0M180 99h0M213 99h0M247 99h0M217 101h0M183 102h0M191 102h0M181 103h0M208 103h0M216 103h0M169 105h0M181 107h0M204 107h0M222 107h0M209 108h0M213 108h0M242 108h0M210 109h0M228 110h0M202 112h0M208 114h0M213 114h0M226 114h0M180 117h0M208 117h0" stroke="#bccadc"/>
<path d="M192 57h0M202 58h0M212 58h0M217 58h0M181 59h0M186 59h0M191 59h0M201 59h0M204 59h0M208 59h0M210 59h0M211 59h0M183 60h0M188 60h0M194 60h0M203 60h0M178 61h0M179 61h0M180 61h0M184 61h0M187 61h0M196 61h0M209 61h0M210 61h0M175 62h0M176 62h0M177 62h0M178 62h0M186 62h0M209 62h0M213 62h0M217 63h0M223 63h0M177 64h0M178 64h0M220 64h0M223 64h0M224 64h0M227 64h0M226 65h0M167 66h0M170 66h0M231 68h0M166 69h0M167 69h0M231 69h0M232 69h0M233 69h0M166 70h0M231 70h0M232 70h0M166 72h0M230 72h0M231 72h0M235 77h0M228 79h0M232 79h0M234 79h0M233 80h0M166 81h0M167 82h0M229 83h0M169 85h0M170 85h0M174 85h0M224 85h0M231 85h0M233 85h0M167 86h0M172 86h0M174 86h0M230 86h0M167 87h0M173 87h0M176 87h0M225 87h0M228 87h0M173 88h0M174 88h0M221 88h0M174 89h0M181 89h0M218 89h0M221 89h0M170 90h0M182 90h0M174 91h0M211 91h0M218 91h0M223 91h0M170 92h0M173 92h0M182 92h0M186 92h0M207 92h0M208 92h0M212 92h0M217 92h0M218 92h0M170 93h0M175 93h0M181 93h0M194 93h0M209 93h0M210 93h0M215 93h0M216 93h0M178 94h0M181 94h0M185 94h0M186 94h0M189 94h0M192 94h0M196 94h0M211 94h0M216 94h0M185 95h0M194 95h0M198 95h0M208 95h0M211 95h0M213 95h0M217 95h0M185 96h0M189 96h0M191 96h0M194 96h0M197 96h0M209 96h0M210 96h0M182 97h0M185 97h0M188 97h0M192 97h0M209 97h0M210 97h0M180 98h0M182 98h0M188 98h0M189 98h0M196 98h0M199 98h0M201 98h0M185 99h0M198 99h0M202 99h0M203 99h0M188 100h0M192 100h0M197 100h0M198 100h0M201 100h0M208 100h0M209 100h0M189 101h0M195 101h0M201 102h0" stroke="#d0dcea"/>
<path d="M192 58h0M203 58h0M210 58h0M187 59h0M197 59h0M206 59h0M198 60h0M201 60h0M208 60h0M213 60h0M182 61h0M200 61h0M203 61h0M173 62h0M174 62h0M182 62h0M184 62h0M214 62h0M219 62h0M173 63h0M226 63h0M169 64h0M171 64h0M225 64h0M173 65h0M168 66h0M168 68h0M227 68h0M230 71h0M232 71h0M232 72h0M166 73h0M231 74h0M233 78h0M166 79h0M231 79h0M233 79h0M232 80h0M231 81h0M228 82h0M231 82h0M168 83h0M228 83h0M230 83h0M173 84h0M227 84h0M173 86h0M222 86h0M223 86h0M226 86h0M231 86h0M222 87h0M226 87h0M172 88h0M223 88h0M224 88h0M227 88h0M175 89h0M178 89h0M225 89h0M172 90h0M174 90h0M177 90h0M183 90h0M215 90h0M219 90h0M180 91h0M188 91h0M178 92h0M188 92h0M197 92h0M213 92h0M219 92h0M177 93h0M207 93h0M212 93h0M180 94h0M182 94h0M200 94h0M205 94h0M210 94h0M217 94h0M190 95h0M202 95h0M205 95h0M216 95h0M186 96h0M188 96h0M199 96h0M207 96h0M208 96h0M211 96h0M214 96h0M216 96h0M180 97h0M193 97h0M212 97h0M191 98h0M197 98h0M200 98h0M200 99h0M206 99h0M210 99h0M184 100h0M195 100h0M199 100h0M203 100h0" stroke="#b0c4da"/>
<path d="M195 58h0M200 59h0M185 60h0M204 60h0M216 60h0M195 61h0M198 61h0M207 61h0M211 61h0M216 61h0M183 62h0M212 62h0M222 62h0M169 63h0M220 63h0M222 64h0M226 64h0M227 65h0M228 65h0M231 73h0M232 76h0M233 76h0M230 77h0M231 77h0M230 78h0M232 78h0M235 78h0M228 81h0M166 82h0M169 82h0M166 83h0M225 83h0M166 84h0M167 84h0M227 85h0M170 87h0M172 87h0M177 87h0M170 88h0M175 88h0M177 88h0M183 89h0M223 89h0M224 89h0M227 89h0M176 90h0M179 90h0M217 90h0M223 90h0M225 90h0M227 90h0M214 91h0M215 91h0M219 91h0M179 92h0M185 92h0M182 93h0M198 93h0M213 93h0M183 94h0M194 94h0M204 94h0M213 94h0M218 94h0M223 94h0M187 95h0M196 95h0M197 95h0M179 96h0M204 96h0M213 96h0M194 97h0M201 97h0M198 98h0M209 98h0M183 99h0M196 99h0M197 101h0M204 101h0M196 103h0" stroke="#8aa4c4"/>
<path d="M189 59h0M203 59h0M175 61h0M192 61h0M215 61h0M223 61h0M192 62h0M215 62h0M227 66h0M226 68h0M236 73h0M167 74h0M230 76h0M227 83h0M169 84h0M167 85h0M171 86h0M166 87h0M168 87h0M224 87h0M227 87h0M229 87h0M209 91h0M216 91h0M172 92h0M216 92h0M225 93h0M187 94h0M203 95h0M219 95h0M223 95h0M215 96h0M220 96h0M205 99h0" stroke="#5a7898"/>
<path d="M193 61h0M189 62h0M196 62h0M203 62h0M211 62h0M181 63h0M188 63h0M192 63h0M195 63h0M197 63h0M204 63h0M213 63h0M187 64h0M188 64h0M190 64h0M194 64h0M197 64h0M206 64h0M210 64h0M214 64h0M216 64h0M178 65h0M191 65h0M193 65h0M196 65h0M198 65h0M200 65h0M203 65h0M205 65h0M215 65h0M217 65h0M218 65h0M176 66h0M180 66h0M183 66h0M207 66h0M220 66h0M221 66h0M174 67h0M170 68h0M172 68h0M173 68h0M174 68h0M176 68h0M225 68h0M169 69h0M219 69h0M228 70h0M167 71h0M171 71h0M172 71h0M222 71h0M227 71h0M228 71h0M229 71h0M170 72h0M169 73h0M168 74h0M171 75h0M226 75h0M226 76h0M227 76h0M170 77h0M224 77h0M226 77h0M224 79h0M226 79h0M172 80h0M221 80h0M174 81h0M227 81h0M168 82h0M175 82h0M176 82h0M178 82h0M178 83h0M221 83h0M222 83h0M226 83h0M174 84h0M176 84h0M180 84h0M217 84h0M219 84h0M221 84h0M222 84h0M223 84h0M175 85h0M179 85h0M186 85h0M190 85h0M217 85h0M175 86h0M176 86h0M181 86h0M212 86h0M183 87h0M188 87h0M189 87h0M194 87h0M201 87h0M207 87h0M208 87h0M210 87h0M216 87h0M219 87h0M181 88h0M182 88h0M188 88h0M191 88h0M206 88h0M218 88h0M180 89h0M182 89h0M185 89h0M186 89h0M187 89h0M190 89h0M205 89h0M211 89h0M219 89h0M192 90h0M193 90h0M196 90h0M201 90h0M202 90h0M205 90h0M207 90h0M216 90h0M187 91h0M190 91h0M192 91h0M196 91h0M201 91h0M202 91h0M208 91h0M192 92h0M205 92h0M211 92h0M204 93h0M202 94h0" stroke="#c8d8e8"/>
<path d="M197 61h0M199 61h0M202 61h0M206 61h0M188 62h0M191 62h0M195 62h0M205 62h0M210 62h0M189 63h0M190 63h0M194 63h0M196 63h0M198 63h0M200 63h0M202 63h0M206 63h0M175 64h0M198 64h0M200 64h0M203 64h0M204 64h0M177 65h0M180 65h0M185 65h0M186 65h0M190 65h0M195 65h0M201 65h0M209 65h0M214 65h0M216 65h0M219 65h0M222 65h0M172 66h0M173 66h0M177 66h0M181 66h0M184 66h0M187 66h0M211 66h0M218 66h0M177 67h0M181 67h0M224 67h0M176 69h0M225 69h0M225 70h0M226 70h0M168 71h0M170 71h0M226 71h0M167 72h0M224 72h0M226 72h0M171 73h0M224 73h0M225 73h0M229 73h0M166 74h0M224 75h0M227 75h0M229 75h0M229 76h0M168 77h0M225 77h0M227 78h0M168 79h0M171 79h0M167 80h0M171 81h0M175 81h0M170 82h0M171 82h0M174 82h0M221 82h0M172 83h0M173 83h0M177 83h0M220 83h0M170 84h0M216 84h0M218 84h0M220 84h0M176 85h0M183 85h0M184 85h0M210 85h0M216 85h0M182 86h0M183 86h0M193 86h0M197 86h0M203 86h0M214 86h0M218 86h0M180 87h0M185 87h0M186 87h0M190 87h0M193 87h0M196 87h0M198 87h0M202 87h0M205 87h0M212 87h0M185 88h0M187 88h0M194 88h0M202 88h0M204 88h0M207 88h0M210 88h0M211 88h0M184 89h0M191 89h0M192 89h0M193 89h0M194 89h0M195 89h0M197 89h0M198 89h0M202 89h0M210 89h0M212 89h0M186 90h0M187 90h0M190 90h0M191 90h0M194 90h0M195 90h0M200 90h0M204 90h0M209 90h0M210 90h0M212 90h0M195 91h0M200 91h0M206 91h0M207 91h0M200 92h0M202 92h0M192 93h0M201 93h0M202 93h0" stroke="#a0bad4"/>
<path d="M194 62h0M202 62h0M186 63h0M199 63h0M216 63h0M185 64h0M191 64h0M193 64h0M205 64h0M209 64h0M215 64h0M219 64h0M221 64h0M175 65h0M179 65h0M188 65h0M197 65h0M207 65h0M210 65h0M179 66h0M190 66h0M223 66h0M225 66h0M172 67h0M176 67h0M218 68h0M172 69h0M226 69h0M168 70h0M227 70h0M169 71h0M168 73h0M227 73h0M169 75h0M228 75h0M168 76h0M227 77h0M169 78h0M223 78h0M172 79h0M225 79h0M168 80h0M227 80h0M224 81h0M172 82h0M226 82h0M174 83h0M179 83h0M219 83h0M175 84h0M178 84h0M181 84h0M178 85h0M180 85h0M182 85h0M222 85h0M179 86h0M185 86h0M186 86h0M188 86h0M199 86h0M215 86h0M182 87h0M220 87h0M221 87h0M184 88h0M186 88h0M190 88h0M192 88h0M208 88h0M201 89h0M216 89h0M185 90h0M188 90h0M197 90h0M199 90h0M203 91h0M189 92h0M199 92h0" stroke="#44648a"/>
<path d="M198 62h0M201 62h0M204 62h0M193 63h0M207 63h0M208 63h0M212 63h0M218 63h0M179 64h0M180 64h0M183 64h0M184 64h0M186 64h0M192 64h0M202 64h0M207 64h0M211 64h0M218 64h0M211 65h0M175 66h0M188 66h0M210 66h0M215 66h0M219 66h0M222 66h0M173 67h0M178 67h0M218 67h0M221 67h0M222 67h0M226 67h0M177 68h0M222 68h0M223 68h0M224 68h0M168 69h0M170 69h0M174 69h0M221 69h0M223 69h0M228 69h0M170 70h0M172 70h0M223 71h0M224 71h0M223 73h0M226 73h0M169 74h0M225 74h0M228 74h0M167 75h0M168 75h0M225 75h0M170 76h0M172 76h0M169 77h0M228 77h0M166 78h0M168 78h0M170 78h0M222 78h0M167 79h0M227 79h0M170 80h0M171 80h0M174 80h0M224 80h0M168 81h0M173 82h0M224 82h0M227 82h0M175 83h0M176 83h0M223 83h0M171 84h0M177 84h0M225 84h0M181 85h0M189 85h0M192 85h0M220 85h0M177 86h0M178 86h0M180 86h0M200 86h0M221 86h0M175 87h0M187 87h0M192 87h0M197 87h0M203 87h0M204 87h0M211 87h0M214 87h0M215 87h0M217 87h0M218 87h0M178 88h0M189 88h0M193 88h0M198 88h0M201 88h0M217 88h0M196 89h0M199 89h0M200 89h0M215 89h0M211 90h0M186 91h0M197 91h0M204 91h0M205 91h0M193 92h0M196 92h0M201 92h0M209 92h0M210 92h0M195 93h0M208 93h0M199 94h0" stroke="#7492b8"/>
<path d="M196 64h0M189 65h0M212 65h0M195 66h0M209 66h0M193 67h0M194 67h0M197 67h0M214 67h0M216 67h0M189 68h0M192 68h0M198 68h0M200 68h0M201 68h0M203 68h0M210 68h0M212 68h0M221 68h0M181 69h0M184 69h0M187 69h0M189 69h0M190 69h0M194 69h0M198 69h0M201 69h0M207 69h0M209 69h0M212 69h0M220 69h0M173 70h0M178 70h0M187 70h0M217 70h0M179 71h0M177 72h0M178 72h0M185 72h0M218 72h0M219 72h0M220 73h0M184 74h0M215 74h0M223 74h0M218 75h0M219 76h0M220 76h0M172 77h0M184 77h0M220 77h0M222 77h0M174 78h0M176 78h0M187 78h0M221 78h0M173 79h0M174 79h0M178 79h0M219 79h0M221 79h0M180 80h0M185 80h0M186 80h0M210 80h0M222 80h0M176 81h0M180 81h0M182 81h0M203 81h0M214 81h0M180 82h0M185 82h0M186 82h0M191 82h0M203 82h0M217 82h0M180 83h0M198 83h0M210 83h0M202 84h0M205 84h0M206 84h0M209 84h0M215 84h0M196 85h0M197 85h0M205 85h0M209 85h0M190 86h0M195 86h0M201 86h0M209 86h0M200 88h0" stroke="#3a5a74"/>
<path d="M187 65h0M192 65h0M193 66h0M196 66h0M202 66h0M203 66h0M204 66h0M206 66h0M179 67h0M183 67h0M190 67h0M195 67h0M196 67h0M198 67h0M203 67h0M210 67h0M213 67h0M184 68h0M186 68h0M187 68h0M193 68h0M196 68h0M204 68h0M205 68h0M207 68h0M215 68h0M177 69h0M179 69h0M188 69h0M200 69h0M208 69h0M215 69h0M218 69h0M179 70h0M192 70h0M203 70h0M218 70h0M174 71h0M176 71h0M177 71h0M182 71h0M185 71h0M212 71h0M217 71h0M173 72h0M175 72h0M212 72h0M222 72h0M223 72h0M174 73h0M175 73h0M177 73h0M181 73h0M222 73h0M179 74h0M218 74h0M219 74h0M174 75h0M221 75h0M184 76h0M221 76h0M175 77h0M179 77h0M185 77h0M218 77h0M219 77h0M223 77h0M172 78h0M179 78h0M217 78h0M175 79h0M179 79h0M180 79h0M203 79h0M215 79h0M220 79h0M222 79h0M178 80h0M181 80h0M190 80h0M193 80h0M218 80h0M219 80h0M223 80h0M212 81h0M221 81h0M184 82h0M187 82h0M195 82h0M200 82h0M205 82h0M208 82h0M212 82h0M213 82h0M219 82h0M220 82h0M186 83h0M187 83h0M190 83h0M195 83h0M202 83h0M203 83h0M208 83h0M209 83h0M211 83h0M212 83h0M213 83h0M218 83h0M184 84h0M185 84h0M192 84h0M194 84h0M195 84h0M197 84h0M204 84h0M214 84h0M185 85h0M187 85h0M193 85h0M200 85h0M204 85h0M208 85h0M212 85h0M213 85h0M214 85h0M189 86h0M198 86h0M205 86h0M206 86h0M191 87h0M206 87h0" stroke="#c4d8e4"/>
<path d="M194 65h0M202 65h0M208 65h0M182 66h0M194 66h0M205 66h0M212 66h0M180 67h0M188 67h0M201 67h0M211 67h0M217 67h0M182 68h0M183 68h0M190 68h0M194 68h0M199 68h0M202 68h0M173 69h0M182 69h0M192 69h0M193 69h0M205 69h0M177 70h0M182 70h0M185 70h0M173 71h0M209 71h0M214 71h0M174 72h0M214 72h0M179 73h0M221 73h0M173 74h0M170 75h0M216 76h0M222 76h0M180 78h0M177 80h0M220 80h0M179 81h0M194 81h0M218 81h0M188 82h0M197 82h0M214 82h0M206 83h0M189 84h0M193 84h0M199 84h0M200 84h0M213 84h0M191 85h0M198 85h0M191 86h0M207 86h0" stroke="#90b894"/>
<path d="M206 65h0M213 65h0M186 66h0M198 66h0M200 66h0M201 66h0M216 66h0M217 66h0M182 67h0M184 67h0M185 67h0M189 67h0M200 67h0M202 67h0M205 67h0M206 67h0M209 67h0M212 67h0M179 68h0M185 68h0M188 68h0M195 68h0M211 68h0M213 68h0M214 68h0M216 68h0M183 69h0M186 69h0M197 69h0M211 69h0M176 70h0M183 70h0M191 70h0M204 70h0M215 70h0M220 70h0M222 70h0M178 71h0M180 71h0M184 71h0M191 71h0M213 71h0M215 71h0M218 71h0M219 71h0M221 71h0M180 72h0M182 72h0M184 72h0M187 72h0M220 72h0M221 72h0M172 73h0M178 73h0M180 73h0M172 74h0M176 74h0M188 74h0M220 74h0M222 74h0M172 75h0M177 75h0M219 75h0M220 75h0M223 75h0M171 76h0M174 76h0M182 76h0M186 76h0M223 76h0M188 77h0M216 77h0M221 77h0M175 78h0M177 78h0M182 78h0M220 78h0M224 78h0M177 79h0M183 79h0M187 79h0M192 79h0M194 79h0M216 79h0M175 80h0M176 80h0M182 80h0M211 80h0M216 80h0M217 80h0M184 81h0M185 81h0M186 81h0M187 81h0M188 81h0M191 81h0M209 81h0M213 81h0M215 81h0M216 81h0M182 82h0M189 82h0M190 82h0M192 82h0M194 82h0M198 82h0M201 82h0M215 82h0M185 83h0M189 83h0M192 83h0M193 83h0M197 83h0M199 83h0M201 83h0M205 83h0M187 84h0M201 84h0M208 84h0M212 84h0M195 85h0M199 85h0M202 85h0M211 85h0M192 86h0M208 86h0M211 86h0M195 87h0M200 87h0M205 88h0" stroke="#98b8cc"/>
<path d="M189 66h0M191 66h0M192 66h0M199 66h0M186 67h0M204 67h0M207 67h0M208 67h0M178 68h0M180 68h0M181 68h0M191 68h0M175 69h0M180 69h0M203 69h0M204 69h0M210 69h0M216 69h0M175 70h0M180 70h0M186 70h0M189 70h0M216 70h0M219 70h0M221 70h0M175 71h0M171 72h0M176 73h0M186 73h0M171 74h0M177 74h0M221 74h0M173 75h0M175 75h0M176 75h0M178 75h0M179 75h0M222 75h0M173 76h0M175 76h0M185 76h0M188 76h0M224 76h0M171 77h0M173 77h0M177 77h0M182 77h0M214 78h0M176 79h0M181 79h0M196 79h0M217 79h0M173 80h0M184 80h0M189 80h0M215 80h0M173 81h0M177 81h0M178 81h0M181 81h0M183 81h0M190 81h0M192 81h0M207 81h0M217 81h0M219 81h0M177 82h0M181 82h0M193 82h0M204 82h0M206 82h0M218 82h0M181 83h0M182 83h0M183 83h0M184 83h0M191 83h0M196 83h0M204 83h0M207 83h0M214 83h0M215 83h0M216 83h0M183 84h0M186 84h0M188 84h0M191 84h0M196 84h0M198 84h0M203 84h0M210 84h0M211 84h0M188 85h0M201 85h0M203 85h0M194 86h0M196 86h0M202 86h0M210 86h0M199 87h0" stroke="#6e90aa"/>
<path d="M197 68h0M185 69h0M213 69h0M188 70h0M193 70h0M194 70h0M197 70h0M206 70h0M209 70h0M211 70h0M199 71h0M207 71h0M179 72h0M181 72h0M189 72h0M200 72h0M202 72h0M204 72h0M208 72h0M182 73h0M190 73h0M191 73h0M193 73h0M200 73h0M203 73h0M205 73h0M207 73h0M213 73h0M214 73h0M182 74h0M190 74h0M208 74h0M186 75h0M188 75h0M190 75h0M192 75h0M194 75h0M205 75h0M206 75h0M208 75h0M209 75h0M210 75h0M212 75h0M178 76h0M189 76h0M190 76h0M206 76h0M207 76h0M208 76h0M209 76h0M211 76h0M215 76h0M186 77h0M190 77h0M195 77h0M196 77h0M200 77h0M186 78h0M192 78h0M211 78h0M185 79h0M193 79h0M197 79h0M201 79h0M206 79h0M212 79h0M213 79h0M218 79h0M183 80h0M187 80h0M192 80h0M195 80h0M196 80h0M197 80h0M199 80h0M203 80h0M204 80h0M209 80h0M212 80h0M213 80h0M196 81h0M200 81h0M202 81h0M204 81h0M202 82h0M207 82h0" stroke="#90b890"/>
<path d="M206 68h0M209 68h0M191 69h0M195 69h0M199 69h0M195 70h0M198 70h0M199 70h0M213 70h0M186 71h0M189 71h0M193 71h0M200 71h0M211 71h0M216 71h0M210 72h0M211 72h0M213 72h0M189 73h0M204 73h0M218 73h0M187 74h0M195 74h0M182 75h0M185 75h0M187 75h0M183 76h0M191 76h0M202 76h0M204 76h0M205 76h0M212 76h0M213 76h0M178 77h0M191 77h0M193 77h0M197 77h0M199 77h0M208 77h0M209 77h0M213 77h0M178 78h0M193 78h0M195 78h0M213 78h0M186 79h0M188 79h0M202 79h0M205 79h0M207 79h0M202 80h0M208 80h0M211 82h0" stroke="#385a64"/>
<path d="M208 68h0M196 69h0M196 70h0M212 70h0M181 71h0M183 71h0M192 71h0M205 71h0M208 71h0M192 72h0M207 72h0M216 72h0M217 72h0M184 73h0M188 73h0M195 73h0M208 73h0M211 73h0M215 73h0M175 74h0M183 74h0M211 74h0M214 74h0M183 75h0M191 75h0M211 75h0M179 76h0M187 76h0M194 76h0M198 76h0M199 76h0M189 77h0M212 77h0M197 78h0M199 78h0M204 78h0M209 78h0M218 78h0M211 79h0M200 80h0M201 80h0M205 81h0M196 82h0" stroke="#a8c890"/>
<path d="M202 69h0M190 70h0M202 70h0M208 70h0M214 70h0M187 71h0M190 71h0M194 71h0M195 71h0M196 71h0M201 71h0M203 71h0M204 71h0M186 72h0M190 72h0M193 72h0M194 72h0M195 72h0M197 72h0M198 72h0M209 72h0M215 72h0M187 73h0M192 73h0M194 73h0M196 73h0M197 73h0M198 73h0M202 73h0M209 73h0M210 73h0M212 73h0M216 73h0M180 74h0M185 74h0M186 74h0M189 74h0M191 74h0M192 74h0M193 74h0M194 74h0M196 74h0M199 74h0M200 74h0M201 74h0M202 74h0M203 74h0M206 74h0M207 74h0M209 74h0M210 74h0M212 74h0M180 75h0M181 75h0M184 75h0M189 75h0M193 75h0M195 75h0M197 75h0M198 75h0M202 75h0M203 75h0M204 75h0M207 75h0M213 75h0M215 75h0M176 76h0M192 76h0M195 76h0M196 76h0M197 76h0M200 76h0M210 76h0M218 76h0M180 77h0M187 77h0M194 77h0M198 77h0M203 77h0M204 77h0M205 77h0M206 77h0M210 77h0M214 77h0M217 77h0M181 78h0M188 78h0M190 78h0M191 78h0M196 78h0M198 78h0M201 78h0M202 78h0M206 78h0M207 78h0M208 78h0M210 78h0M215 78h0M219 78h0M189 79h0M190 79h0M191 79h0M195 79h0M198 79h0M204 79h0M209 79h0M210 79h0M194 80h0M198 80h0M207 80h0M195 81h0M201 81h0M208 81h0M210 81h0M211 81h0M200 83h0" stroke="#c0d8d0"/>
<path d="M184 70h0M200 70h0M201 70h0M205 70h0M207 70h0M210 70h0M188 71h0M197 71h0M198 71h0M202 71h0M206 71h0M210 71h0M183 72h0M188 72h0M191 72h0M199 72h0M203 72h0M205 72h0M206 72h0M183 73h0M185 73h0M199 73h0M201 73h0M206 73h0M217 73h0M219 73h0M178 74h0M181 74h0M197 74h0M198 74h0M204 74h0M205 74h0M213 74h0M216 74h0M217 74h0M196 75h0M199 75h0M200 75h0M201 75h0M214 75h0M180 76h0M193 76h0M201 76h0M203 76h0M214 76h0M181 77h0M192 77h0M201 77h0M202 77h0M207 77h0M211 77h0M183 78h0M184 78h0M185 78h0M189 78h0M194 78h0M200 78h0M203 78h0M205 78h0M212 78h0M216 78h0M182 79h0M184 79h0M199 79h0M200 79h0M208 79h0M188 80h0M191 80h0M205 80h0M206 80h0M214 80h0M189 81h0M193 81h0M197 81h0M198 81h0M199 81h0M210 82h0" stroke="#68948c"/>
</g>
<rect x="164.90" y="30.0" width="90.80" height="90.40" fill="none" stroke="#333" stroke-width="1.3"/>
<line x1="164.90" y1="120.40" x2="164.90" y2="122.40" stroke="#333" stroke-width="0.6"/>
<line x1="171.66" y1="120.40" x2="171.66" y2="121.80" stroke="#333" stroke-width="0.6"/>
<line x1="175.61" y1="120.40" x2="175.61" y2="121.80" stroke="#333" stroke-width="0.6"/>
<line x1="178.42" y1="120.40" x2="178.42" y2="121.80" stroke="#333" stroke-width="0.6"/>
<line x1="180.59" y1="120.40" x2="180.59" y2="121.80" stroke="#333" stroke-width="0.6"/>
<line x1="182.37" y1="120.40" x2="182.37" y2="121.80" stroke="#333" stroke-width="0.6"/>
<line x1="183.87" y1="120.40" x2="183.87" y2="121.80" stroke="#333" stroke-width="0.6"/>
<line x1="185.17" y1="120.40" x2="185.17" y2="121.80" stroke="#333" stroke-width="0.6"/>
<line x1="186.32" y1="120.40" x2="186.32" y2="121.80" stroke="#333" stroke-width="0.6"/>
<line x1="187.35" y1="120.40" x2="187.35" y2="122.40" stroke="#333" stroke-width="0.6"/>
<line x1="194.11" y1="120.40" x2="194.11" y2="121.80" stroke="#333" stroke-width="0.6"/>
<line x1="198.06" y1="120.40" x2="198.06" y2="121.80" stroke="#333" stroke-width="0.6"/>
<line x1="200.87" y1="120.40" x2="200.87" y2="121.80" stroke="#333" stroke-width="0.6"/>
<line x1="203.04" y1="120.40" x2="203.04" y2="121.80" stroke="#333" stroke-width="0.6"/>
<line x1="204.82" y1="120.40" x2="204.82" y2="121.80" stroke="#333" stroke-width="0.6"/>
<line x1="206.32" y1="120.40" x2="206.32" y2="121.80" stroke="#333" stroke-width="0.6"/>
<line x1="207.62" y1="120.40" x2="207.62" y2="121.80" stroke="#333" stroke-width="0.6"/>
<line x1="208.77" y1="120.40" x2="208.77" y2="121.80" stroke="#333" stroke-width="0.6"/>
<line x1="209.80" y1="120.40" x2="209.80" y2="122.40" stroke="#333" stroke-width="0.6"/>
<line x1="216.56" y1="120.40" x2="216.56" y2="121.80" stroke="#333" stroke-width="0.6"/>
<line x1="220.51" y1="120.40" x2="220.51" y2="121.80" stroke="#333" stroke-width="0.6"/>
<line x1="223.32" y1="120.40" x2="223.32" y2="121.80" stroke="#333" stroke-width="0.6"/>
<line x1="225.49" y1="120.40" x2="225.49" y2="121.80" stroke="#333" stroke-width="0.6"/>
<line x1="227.27" y1="120.40" x2="227.27" y2="121.80" stroke="#333" stroke-width="0.6"/>
<line x1="228.77" y1="120.40" x2="228.77" y2="121.80" stroke="#333" stroke-width="0.6"/>
<line x1="230.07" y1="120.40" x2="230.07" y2="121.80" stroke="#333" stroke-width="0.6"/>
<line x1="231.22" y1="120.40" x2="231.22" y2="121.80" stroke="#333" stroke-width="0.6"/>
<line x1="232.25" y1="120.40" x2="232.25" y2="122.40" stroke="#333" stroke-width="0.6"/>
<line x1="239.01" y1="120.40" x2="239.01" y2="121.80" stroke="#333" stroke-width="0.6"/>
<line x1="242.96" y1="120.40" x2="242.96" y2="121.80" stroke="#333" stroke-width="0.6"/>
<line x1="245.77" y1="120.40" x2="245.77" y2="121.80" stroke="#333" stroke-width="0.6"/>
<line x1="247.94" y1="120.40" x2="247.94" y2="121.80" stroke="#333" stroke-width="0.6"/>
<line x1="249.72" y1="120.40" x2="249.72" y2="121.80" stroke="#333" stroke-width="0.6"/>
<line x1="251.22" y1="120.40" x2="251.22" y2="121.80" stroke="#333" stroke-width="0.6"/>
<line x1="252.52" y1="120.40" x2="252.52" y2="121.80" stroke="#333" stroke-width="0.6"/>
<line x1="253.67" y1="120.40" x2="253.67" y2="121.80" stroke="#333" stroke-width="0.6"/>
<line x1="163.10" y1="120.40" x2="164.90" y2="120.40" stroke="#333" stroke-width="0.7"/>
<line x1="164.90" y1="113.66" x2="166.10" y2="113.66" stroke="#333" stroke-width="0.6"/>
<line x1="164.90" y1="109.71" x2="166.10" y2="109.71" stroke="#333" stroke-width="0.6"/>
<line x1="164.90" y1="106.91" x2="166.10" y2="106.91" stroke="#333" stroke-width="0.6"/>
<line x1="164.90" y1="104.74" x2="166.10" y2="104.74" stroke="#333" stroke-width="0.6"/>
<line x1="164.90" y1="102.97" x2="166.10" y2="102.97" stroke="#333" stroke-width="0.6"/>
<line x1="164.90" y1="101.47" x2="166.10" y2="101.47" stroke="#333" stroke-width="0.6"/>
<line x1="164.90" y1="100.17" x2="166.10" y2="100.17" stroke="#333" stroke-width="0.6"/>
<line x1="164.90" y1="99.02" x2="166.10" y2="99.02" stroke="#333" stroke-width="0.6"/>
<line x1="163.10" y1="98.00" x2="164.90" y2="98.00" stroke="#333" stroke-width="0.7"/>
<line x1="164.90" y1="91.26" x2="166.10" y2="91.26" stroke="#333" stroke-width="0.6"/>
<line x1="164.90" y1="87.31" x2="166.10" y2="87.31" stroke="#333" stroke-width="0.6"/>
<line x1="164.90" y1="84.51" x2="166.10" y2="84.51" stroke="#333" stroke-width="0.6"/>
<line x1="164.90" y1="82.34" x2="166.10" y2="82.34" stroke="#333" stroke-width="0.6"/>
<line x1="164.90" y1="80.57" x2="166.10" y2="80.57" stroke="#333" stroke-width="0.6"/>
<line x1="164.90" y1="79.07" x2="166.10" y2="79.07" stroke="#333" stroke-width="0.6"/>
<line x1="164.90" y1="77.77" x2="166.10" y2="77.77" stroke="#333" stroke-width="0.6"/>
<line x1="164.90" y1="76.62" x2="166.10" y2="76.62" stroke="#333" stroke-width="0.6"/>
<line x1="163.10" y1="75.60" x2="164.90" y2="75.60" stroke="#333" stroke-width="0.7"/>
<line x1="164.90" y1="68.86" x2="166.10" y2="68.86" stroke="#333" stroke-width="0.6"/>
<line x1="164.90" y1="64.91" x2="166.10" y2="64.91" stroke="#333" stroke-width="0.6"/>
<line x1="164.90" y1="62.11" x2="166.10" y2="62.11" stroke="#333" stroke-width="0.6"/>
<line x1="164.90" y1="59.94" x2="166.10" y2="59.94" stroke="#333" stroke-width="0.6"/>
<line x1="164.90" y1="58.17" x2="166.10" y2="58.17" stroke="#333" stroke-width="0.6"/>
<line x1="164.90" y1="56.67" x2="166.10" y2="56.67" stroke="#333" stroke-width="0.6"/>
<line x1="164.90" y1="55.37" x2="166.10" y2="55.37" stroke="#333" stroke-width="0.6"/>
<line x1="164.90" y1="54.22" x2="166.10" y2="54.22" stroke="#333" stroke-width="0.6"/>
<line x1="163.10" y1="53.20" x2="164.90" y2="53.20" stroke="#333" stroke-width="0.7"/>
<line x1="164.90" y1="46.46" x2="166.10" y2="46.46" stroke="#333" stroke-width="0.6"/>
<line x1="164.90" y1="42.51" x2="166.10" y2="42.51" stroke="#333" stroke-width="0.6"/>
<line x1="164.90" y1="39.71" x2="166.10" y2="39.71" stroke="#333" stroke-width="0.6"/>
<line x1="164.90" y1="37.54" x2="166.10" y2="37.54" stroke="#333" stroke-width="0.6"/>
<line x1="164.90" y1="35.77" x2="166.10" y2="35.77" stroke="#333" stroke-width="0.6"/>
<line x1="164.90" y1="34.27" x2="166.10" y2="34.27" stroke="#333" stroke-width="0.6"/>
<line x1="164.90" y1="32.97" x2="166.10" y2="32.97" stroke="#333" stroke-width="0.6"/>
<line x1="164.90" y1="31.82" x2="166.10" y2="31.82" stroke="#333" stroke-width="0.6"/>
<text x="164.70" y="128.00" font-size="4.6" font-weight="bold" text-anchor="middle" fill="#222">10<tspan font-size="3.31" dy="-2.2">0</tspan></text>
<text x="162.30" y="122.20" font-size="4.6" font-weight="bold" text-anchor="end" fill="#222">10<tspan font-size="3.31" dy="-2.2">0</tspan></text>
<text x="187.15" y="128.00" font-size="4.6" font-weight="bold" text-anchor="middle" fill="#222">10<tspan font-size="3.31" dy="-2.2">1</tspan></text>
<text x="162.30" y="99.80" font-size="4.6" font-weight="bold" text-anchor="end" fill="#222">10<tspan font-size="3.31" dy="-2.2">1</tspan></text>
<text x="209.60" y="128.00" font-size="4.6" font-weight="bold" text-anchor="middle" fill="#222">10<tspan font-size="3.31" dy="-2.2">2</tspan></text>
<text x="162.30" y="77.40" font-size="4.6" font-weight="bold" text-anchor="end" fill="#222">10<tspan font-size="3.31" dy="-2.2">2</tspan></text>
<text x="232.05" y="128.00" font-size="4.6" font-weight="bold" text-anchor="middle" fill="#222">10<tspan font-size="3.31" dy="-2.2">3</tspan></text>
<text x="162.30" y="55.00" font-size="4.6" font-weight="bold" text-anchor="end" fill="#222">10<tspan font-size="3.31" dy="-2.2">3</tspan></text>
<rect x="209.90" y="58.8" width="32.80" height="23.8" fill="none" stroke="#2b3180" stroke-width="1.4"/>
<text x="226.40" y="57.60" font-size="7.5" text-anchor="middle" font-weight="bold" fill="#111" >23.4</text>
<line x1="226.20" y1="82.60" x2="226.20" y2="148.50" stroke="#444" stroke-width="1.0"/>
<path d="M223.80 146.6 L226.20 150.3 L228.60 146.6 L226.20 148.0 Z" fill="#222" stroke="#222" stroke-width="0.6" stroke-linejoin="round"/>
<text x="317.30" y="25.20" font-size="8.3" text-anchor="middle" font-weight="bold" fill="#111" textLength="17.30" lengthAdjust="spacingAndGlyphs" >1 &#181;M</text>
<g filter="url(#sf)" stroke-linecap="square" stroke-width="1" transform="translate(.5 .5)">
<path d="M360 41h0M326 43h0M292 52h0M320 52h0M322 54h0M276 55h0M293 55h0M295 55h0M305 55h0M308 56h0M277 57h0M304 57h0M311 57h0M315 58h0M322 58h0M276 59h0M281 59h0M318 59h0M322 59h0M278 60h0M335 60h0M325 61h0M333 61h0M337 61h0M273 63h0M326 63h0M330 64h0M331 64h0M333 64h0M331 65h0M328 66h0M345 66h0M337 67h0M334 68h0M342 69h0M335 70h0M334 71h0M335 74h0M345 74h0M330 75h0M344 75h0M355 75h0M336 76h0M346 77h0M336 78h0M347 78h0M328 81h0M274 82h0M275 82h0M333 82h0M336 82h0M337 83h0M338 83h0M275 84h0M277 84h0M343 84h0M325 85h0M274 86h0M323 86h0M325 86h0M279 87h0M321 87h0M322 87h0M338 87h0M321 88h0M330 88h0M279 89h0M324 89h0M333 89h0M276 90h0M283 90h0M284 90h0M284 91h0M325 91h0M283 92h0M318 92h0M310 93h0M318 93h0M285 94h0M291 94h0M312 94h0M315 94h0M329 94h0M288 96h0M290 96h0M296 96h0M297 96h0M306 96h0M274 97h0M275 97h0M284 97h0M285 97h0M297 97h0M327 97h0M290 98h0M300 98h0M308 98h0M323 98h0M280 99h0M300 99h0M304 99h0M306 99h0M316 99h0M296 100h0M298 100h0M300 100h0M320 100h0M327 100h0M294 101h0M302 101h0M311 101h0M291 102h0M294 102h0M287 103h0M316 103h0M300 104h0M305 104h0M319 104h0M349 104h0M291 105h0M304 105h0M337 105h0M300 106h0M323 106h0M291 107h0M302 107h0M321 110h0M313 112h0M305 115h0M299 116h0M282 117h0M277 118h0" stroke="#d6dfea"/>
<path d="M322 50h0M285 51h0M314 52h0M299 53h0M319 53h0M296 54h0M299 54h0M301 55h0M315 55h0M312 56h0M282 58h0M283 59h0M274 60h0M322 60h0M275 61h0M355 61h0M329 67h0M335 67h0M331 70h0M341 73h0M343 75h0M332 76h0M333 78h0M337 80h0M273 81h0M349 81h0M328 82h0M273 83h0M276 84h0M337 84h0M324 86h0M332 86h0M277 87h0M337 88h0M317 90h0M330 90h0M278 93h0M320 93h0M273 94h0M314 94h0M320 94h0M299 97h0M313 98h0M325 98h0M286 99h0M291 99h0M293 100h0M302 100h0M331 100h0M296 101h0M303 101h0M315 101h0M318 101h0M306 102h0M299 103h0M293 105h0M273 106h0M308 106h0M306 108h0M305 109h0M300 111h0M302 112h0M294 113h0" stroke="#bccadc"/>
<path d="M303 52h0M280 58h0M332 68h0M338 69h0M331 77h0M336 77h0M329 81h0M334 86h0M320 90h0M283 94h0M290 95h0M317 96h0M319 97h0M336 97h0M301 98h0M295 100h0M313 101h0M292 102h0M313 107h0M303 110h0" stroke="#98acc6"/>
<path d="M300 56h0M302 57h0M293 58h0M295 58h0M306 58h0M291 59h0M300 59h0M304 60h0M312 60h0M289 61h0M291 61h0M312 61h0M318 62h0M277 63h0M279 63h0M276 64h0M312 64h0M314 64h0M273 66h0M320 66h0M321 66h0M321 67h0M320 69h0M321 69h0M329 72h0M326 73h0M277 75h0M323 75h0M326 75h0M320 76h0M275 77h0M283 79h0M319 79h0M284 80h0M329 80h0M320 81h0M280 82h0M284 83h0M313 83h0M315 83h0M283 84h0M289 84h0M285 85h0M289 85h0M292 85h0M317 85h0M290 86h0M292 86h0M299 86h0M311 86h0M312 86h0M288 87h0M283 88h0M297 88h0M307 88h0M289 89h0M297 89h0M306 89h0M312 89h0M292 90h0M296 90h0M301 90h0M303 90h0M292 91h0M293 91h0M294 91h0M312 91h0M290 92h0M307 92h0M315 92h0M294 93h0M297 95h0" stroke="#8aa4c4"/>
<path d="M297 57h0M300 57h0M307 57h0M292 58h0M304 58h0M308 58h0M310 58h0M293 59h0M296 59h0M304 59h0M305 59h0M313 59h0M280 60h0M289 60h0M306 60h0M310 60h0M283 61h0M285 61h0M290 61h0M311 61h0M315 61h0M282 62h0M285 62h0M311 62h0M276 63h0M311 63h0M314 63h0M279 64h0M318 64h0M274 65h0M317 65h0M318 65h0M324 65h0M326 65h0M328 65h0M275 66h0M277 66h0M274 67h0M276 67h0M324 67h0M327 67h0M274 68h0M322 68h0M326 69h0M319 70h0M320 70h0M330 70h0M273 71h0M322 71h0M325 71h0M273 72h0M321 72h0M322 72h0M324 72h0M273 73h0M277 73h0M323 73h0M327 73h0M276 75h0M324 75h0M332 75h0M277 76h0M322 76h0M277 77h0M279 77h0M327 77h0M275 78h0M279 78h0M280 79h0M282 79h0M277 80h0M282 80h0M320 80h0M325 80h0M284 81h0M284 82h0M319 82h0M325 82h0M286 83h0M288 83h0M291 83h0M308 83h0M317 83h0M282 84h0M290 84h0M310 84h0M319 84h0M320 84h0M291 85h0M300 85h0M321 85h0M286 86h0M291 86h0M297 86h0M314 86h0M317 86h0M319 86h0M280 87h0M282 87h0M302 87h0M313 87h0M314 87h0M282 88h0M290 88h0M298 88h0M315 88h0M285 89h0M288 89h0M299 89h0M317 89h0M306 90h0M307 90h0M311 90h0M316 90h0M287 91h0M295 91h0M304 91h0M309 91h0M311 91h0M316 91h0M292 92h0M293 92h0M294 92h0M299 92h0M298 93h0M308 94h0M300 96h0" stroke="#b0c4da"/>
<path d="M291 58h0M307 58h0M286 60h0M308 60h0M278 61h0M286 63h0M318 67h0M275 69h0M321 71h0M328 72h0M323 77h0M320 79h0M282 81h0M323 81h0M288 82h0M313 84h0M321 84h0M307 85h0M314 85h0M313 86h0M292 87h0M303 88h0M305 88h0M318 88h0M287 89h0M296 89h0M291 90h0M297 90h0M313 90h0" stroke="#5a7898"/>
<path d="M296 58h0M301 58h0M287 59h0M289 59h0M294 59h0M298 59h0M307 59h0M311 59h0M287 60h0M291 60h0M309 60h0M315 60h0M282 61h0M286 61h0M308 61h0M310 61h0M275 62h0M277 62h0M280 62h0M281 62h0M319 62h0M321 62h0M278 63h0M316 63h0M318 63h0M319 63h0M275 64h0M316 64h0M317 64h0M277 65h0M322 65h0M276 66h0M318 66h0M322 66h0M322 67h0M320 68h0M324 68h0M325 68h0M326 68h0M322 69h0M324 69h0M327 69h0M274 70h0M275 70h0M322 70h0M326 70h0M329 70h0M320 71h0M323 71h0M324 71h0M276 72h0M277 72h0M325 72h0M324 73h0M323 74h0M328 74h0M275 75h0M325 75h0M321 76h0M326 76h0M328 77h0M278 78h0M323 78h0M324 78h0M328 78h0M275 79h0M278 79h0M321 79h0M322 79h0M324 79h0M326 79h0M285 80h0M314 80h0M317 80h0M319 80h0M277 81h0M322 81h0M283 82h0M285 82h0M287 83h0M316 83h0M323 83h0M295 84h0M305 84h0M312 84h0M314 84h0M323 84h0M294 85h0M297 85h0M306 85h0M308 85h0M313 85h0M322 85h0M281 86h0M283 86h0M288 86h0M289 86h0M304 86h0M310 86h0M315 86h0M318 86h0M286 87h0M289 87h0M297 87h0M299 87h0M304 87h0M307 87h0M293 88h0M295 88h0M304 88h0M308 88h0M309 88h0M291 89h0M303 89h0M307 89h0M308 89h0M310 89h0M299 90h0M300 90h0M305 90h0M291 91h0M302 92h0M305 92h0M299 93h0M302 96h0" stroke="#d0dcea"/>
<path d="M292 60h0M301 60h0M303 61h0M289 62h0M291 62h0M296 62h0M302 62h0M285 63h0M285 64h0M289 64h0M284 65h0M283 67h0M310 68h0M315 68h0M277 69h0M279 69h0M312 69h0M276 70h0M313 70h0M318 71h0M312 72h0M317 72h0M276 73h0M279 73h0M280 74h0M314 74h0M310 75h0M279 76h0M286 76h0M313 76h0M283 77h0M310 77h0M315 77h0M282 78h0M301 78h0M285 79h0M292 79h0M295 79h0M303 79h0M299 80h0M310 80h0M293 81h0M306 81h0M313 81h0M308 82h0M310 82h0M297 83h0M301 83h0M305 83h0M309 83h0M296 84h0M301 85h0M305 85h0M300 86h0" stroke="#44648a"/>
<path d="M293 60h0M296 60h0M298 60h0M298 61h0M304 61h0M307 61h0M288 62h0M290 62h0M297 62h0M303 62h0M312 63h0M283 65h0M285 65h0M309 65h0M310 65h0M310 66h0M314 66h0M311 67h0M317 67h0M283 69h0M315 69h0M279 70h0M314 70h0M316 70h0M312 71h0M313 71h0M314 71h0M319 71h0M278 72h0M279 72h0M316 72h0M320 72h0M281 73h0M282 73h0M318 73h0M277 74h0M278 74h0M285 74h0M312 74h0M315 74h0M279 75h0M312 75h0M315 75h0M285 76h0M290 76h0M281 77h0M286 77h0M294 77h0M290 78h0M297 78h0M304 78h0M305 78h0M309 78h0M312 78h0M319 78h0M287 79h0M293 79h0M311 79h0M314 79h0M294 80h0M305 80h0M308 80h0M288 81h0M304 81h0M309 81h0M314 81h0M303 82h0M309 82h0M313 82h0M293 83h0M300 83h0M302 83h0M306 83h0M297 84h0M300 84h0M301 84h0M306 84h0M296 85h0M299 85h0M298 86h0M302 86h0" stroke="#7492b8"/>
<path d="M294 60h0M299 60h0M299 61h0M293 62h0M295 62h0M306 62h0M284 63h0M293 63h0M305 63h0M306 63h0M283 64h0M284 64h0M287 64h0M288 64h0M305 64h0M286 65h0M287 65h0M305 65h0M308 65h0M312 65h0M314 65h0M279 66h0M282 66h0M309 66h0M313 66h0M315 66h0M278 67h0M286 67h0M309 67h0M310 67h0M277 68h0M283 68h0M284 68h0M312 68h0M281 69h0M311 69h0M314 69h0M316 69h0M277 70h0M281 70h0M283 70h0M310 70h0M312 70h0M315 70h0M278 71h0M280 71h0M281 71h0M275 72h0M310 72h0M314 72h0M283 73h0M284 73h0M312 73h0M313 73h0M314 73h0M319 73h0M320 73h0M321 73h0M276 74h0M281 74h0M287 74h0M308 74h0M316 74h0M318 74h0M311 75h0M313 75h0M317 75h0M319 75h0M320 75h0M282 76h0M284 76h0M312 76h0M282 77h0M287 77h0M288 77h0M290 77h0M320 77h0M293 78h0M299 78h0M303 78h0M307 78h0M310 78h0M313 78h0M317 78h0M298 79h0M307 79h0M312 79h0M313 79h0M286 80h0M288 80h0M289 80h0M295 80h0M296 80h0M297 80h0M307 80h0M309 80h0M289 81h0M291 81h0M300 81h0M303 81h0M305 81h0M307 81h0M312 81h0M292 82h0M295 82h0M302 82h0M304 82h0M306 82h0M294 83h0M299 83h0M304 83h0M304 84h0M302 85h0M305 86h0" stroke="#a0bad4"/>
<path d="M292 61h0M293 61h0M294 61h0M295 61h0M302 61h0M305 61h0M306 61h0M292 62h0M298 62h0M304 62h0M287 63h0M288 63h0M291 63h0M290 64h0M304 64h0M306 64h0M308 64h0M309 64h0M311 64h0M307 65h0M283 66h0M287 66h0M311 66h0M316 66h0M280 67h0M282 67h0M284 67h0M314 67h0M278 68h0M281 68h0M282 68h0M317 68h0M282 69h0M318 69h0M278 70h0M280 70h0M318 70h0M321 70h0M279 71h0M283 71h0M317 71h0M280 72h0M281 72h0M282 72h0M284 72h0M285 72h0M313 72h0M315 73h0M316 73h0M279 74h0M282 74h0M286 74h0M313 74h0M317 74h0M320 74h0M282 75h0M283 75h0M285 75h0M286 75h0M314 75h0M318 75h0M283 76h0M310 76h0M311 76h0M315 76h0M316 76h0M319 76h0M284 77h0M289 77h0M293 77h0M311 77h0M312 77h0M314 77h0M281 78h0M285 78h0M291 78h0M296 78h0M311 78h0M314 78h0M315 78h0M296 79h0M300 79h0M308 79h0M310 79h0M318 79h0M290 80h0M300 80h0M302 80h0M304 80h0M312 80h0M315 80h0M294 81h0M295 81h0M296 81h0M301 81h0M311 81h0M316 81h0M293 82h0M296 82h0M298 82h0M299 82h0M300 82h0M301 82h0M307 82h0M303 83h0M310 83h0M312 83h0M308 84h0M301 86h0" stroke="#c8d8e8"/>
<path d="M294 62h0M292 63h0M298 63h0M299 63h0M300 63h0M304 63h0M291 64h0M293 64h0M296 64h0M301 64h0M288 65h0M293 65h0M295 65h0M304 65h0M285 66h0M292 66h0M293 66h0M289 68h0M290 68h0M289 69h0M290 69h0M309 69h0M310 69h0M287 70h0M309 70h0M290 71h0M307 71h0M310 71h0M311 71h0M286 72h0M294 72h0M304 72h0M285 73h0M286 73h0M287 73h0M288 73h0M308 73h0M291 74h0M297 74h0M302 74h0M291 75h0M299 75h0M303 75h0M304 75h0M289 76h0M293 76h0M296 76h0M297 76h0M304 76h0M300 77h0M304 77h0M302 79h0M305 79h0M301 80h0" stroke="#6e90aa"/>
<path d="M295 63h0M296 63h0M302 63h0M294 64h0M299 64h0M300 64h0M302 64h0M286 66h0M291 66h0M302 66h0M303 66h0M304 66h0M305 66h0M306 66h0M291 67h0M307 67h0M288 68h0M307 68h0M311 68h0M284 69h0M285 69h0M288 69h0M291 69h0M307 69h0M284 70h0M286 70h0M288 70h0M289 70h0M308 70h0M282 71h0M284 71h0M286 71h0M287 71h0M306 71h0M289 72h0M290 72h0M308 72h0M294 73h0M303 73h0M304 73h0M311 73h0M288 74h0M289 74h0M292 74h0M293 74h0M303 74h0M305 74h0M295 75h0M297 75h0M305 75h0M294 76h0M299 76h0M300 76h0M301 76h0M303 76h0M292 77h0M299 77h0M302 77h0M302 78h0M308 78h0M303 80h0" stroke="#98b8cc"/>
<path d="M297 63h0M301 63h0M292 65h0M305 69h0M292 71h0M287 72h0M288 72h0M291 72h0M303 72h0M293 73h0M305 73h0M307 73h0M284 74h0M295 74h0M307 74h0M287 76h0M291 76h0M298 76h0M291 77h0M306 77h0M309 77h0" stroke="#90b894"/>
<path d="M295 64h0M291 65h0M302 65h0M306 65h0M288 66h0M289 66h0M290 66h0M298 66h0M287 67h0M305 67h0M307 70h0M288 71h0M308 71h0M309 72h0M289 73h0M290 73h0M309 73h0M310 73h0M304 74h0M309 74h0M288 75h0M308 75h0M309 75h0M295 76h0M307 76h0M298 77h0M301 77h0M303 77h0M300 78h0M306 78h0" stroke="#3a5a74"/>
<path d="M297 64h0M292 68h0M294 68h0M304 68h0M299 69h0M303 69h0M300 70h0M294 71h0M301 71h0M302 72h0M298 73h0M302 75h0" stroke="#a8c890"/>
<path d="M298 64h0M294 65h0M301 65h0M296 66h0M294 67h0M297 67h0M300 67h0M303 67h0M301 68h0M302 68h0M296 69h0M297 69h0M301 69h0M304 69h0M293 70h0M294 70h0M291 71h0M293 71h0M296 71h0M305 72h0M295 73h0M297 73h0M301 73h0M296 74h0M298 74h0" stroke="#c0d8d0"/>
<path d="M303 64h0M290 65h0M296 65h0M297 65h0M303 65h0M301 66h0M308 66h0M289 67h0M290 67h0M292 67h0M293 67h0M301 67h0M304 67h0M306 67h0M286 68h0M287 68h0M306 68h0M306 69h0M285 70h0M306 70h0M311 70h0M285 71h0M303 71h0M306 72h0M307 72h0M311 72h0M291 73h0M306 73h0M306 74h0M289 75h0M292 75h0M293 75h0M294 75h0M298 75h0M306 75h0M307 75h0M305 76h0M308 76h0M295 77h0M296 77h0M297 77h0M295 78h0M298 78h0M299 79h0M301 79h0M304 79h0" stroke="#c4d8e4"/>
<path d="M298 65h0M300 65h0M294 66h0M300 66h0M293 68h0M295 68h0M296 68h0M298 68h0M295 69h0M302 69h0M292 70h0M296 70h0M298 70h0M299 70h0M301 70h0M303 70h0M304 70h0M295 71h0M299 71h0M292 72h0M295 72h0M296 72h0M301 72h0M299 73h0M294 74h0M299 74h0M300 74h0M301 74h0M296 75h0" stroke="#90b890"/>
<path d="M299 65h0M295 67h0M296 67h0M302 67h0M291 68h0M299 68h0M300 68h0M292 69h0M298 69h0M297 70h0M305 70h0M297 71h0M300 71h0M302 71h0M304 71h0M305 71h0M293 72h0M297 72h0M298 72h0M300 72h0M292 73h0" stroke="#68948c"/>
<path d="M295 66h0M297 66h0M299 66h0M299 67h0M297 68h0M303 68h0M293 69h0M294 69h0M300 69h0M290 70h0M295 70h0M302 70h0M298 71h0M299 72h0M296 73h0M300 73h0M302 73h0M301 75h0" stroke="#385a64"/>
</g>
<rect x="271.90" y="30.0" width="91.10" height="90.40" fill="none" stroke="#333" stroke-width="1.3"/>
<line x1="271.90" y1="120.40" x2="271.90" y2="122.40" stroke="#333" stroke-width="0.6"/>
<line x1="278.66" y1="120.40" x2="278.66" y2="121.80" stroke="#333" stroke-width="0.6"/>
<line x1="282.61" y1="120.40" x2="282.61" y2="121.80" stroke="#333" stroke-width="0.6"/>
<line x1="285.42" y1="120.40" x2="285.42" y2="121.80" stroke="#333" stroke-width="0.6"/>
<line x1="287.59" y1="120.40" x2="287.59" y2="121.80" stroke="#333" stroke-width="0.6"/>
<line x1="289.37" y1="120.40" x2="289.37" y2="121.80" stroke="#333" stroke-width="0.6"/>
<line x1="290.87" y1="120.40" x2="290.87" y2="121.80" stroke="#333" stroke-width="0.6"/>
<line x1="292.17" y1="120.40" x2="292.17" y2="121.80" stroke="#333" stroke-width="0.6"/>
<line x1="293.32" y1="120.40" x2="293.32" y2="121.80" stroke="#333" stroke-width="0.6"/>
<line x1="294.35" y1="120.40" x2="294.35" y2="122.40" stroke="#333" stroke-width="0.6"/>
<line x1="301.11" y1="120.40" x2="301.11" y2="121.80" stroke="#333" stroke-width="0.6"/>
<line x1="305.06" y1="120.40" x2="305.06" y2="121.80" stroke="#333" stroke-width="0.6"/>
<line x1="307.87" y1="120.40" x2="307.87" y2="121.80" stroke="#333" stroke-width="0.6"/>
<line x1="310.04" y1="120.40" x2="310.04" y2="121.80" stroke="#333" stroke-width="0.6"/>
<line x1="311.82" y1="120.40" x2="311.82" y2="121.80" stroke="#333" stroke-width="0.6"/>
<line x1="313.32" y1="120.40" x2="313.32" y2="121.80" stroke="#333" stroke-width="0.6"/>
<line x1="314.62" y1="120.40" x2="314.62" y2="121.80" stroke="#333" stroke-width="0.6"/>
<line x1="315.77" y1="120.40" x2="315.77" y2="121.80" stroke="#333" stroke-width="0.6"/>
<line x1="316.80" y1="120.40" x2="316.80" y2="122.40" stroke="#333" stroke-width="0.6"/>
<line x1="323.56" y1="120.40" x2="323.56" y2="121.80" stroke="#333" stroke-width="0.6"/>
<line x1="327.51" y1="120.40" x2="327.51" y2="121.80" stroke="#333" stroke-width="0.6"/>
<line x1="330.32" y1="120.40" x2="330.32" y2="121.80" stroke="#333" stroke-width="0.6"/>
<line x1="332.49" y1="120.40" x2="332.49" y2="121.80" stroke="#333" stroke-width="0.6"/>
<line x1="334.27" y1="120.40" x2="334.27" y2="121.80" stroke="#333" stroke-width="0.6"/>
<line x1="335.77" y1="120.40" x2="335.77" y2="121.80" stroke="#333" stroke-width="0.6"/>
<line x1="337.07" y1="120.40" x2="337.07" y2="121.80" stroke="#333" stroke-width="0.6"/>
<line x1="338.22" y1="120.40" x2="338.22" y2="121.80" stroke="#333" stroke-width="0.6"/>
<line x1="339.25" y1="120.40" x2="339.25" y2="122.40" stroke="#333" stroke-width="0.6"/>
<line x1="346.01" y1="120.40" x2="346.01" y2="121.80" stroke="#333" stroke-width="0.6"/>
<line x1="349.96" y1="120.40" x2="349.96" y2="121.80" stroke="#333" stroke-width="0.6"/>
<line x1="352.77" y1="120.40" x2="352.77" y2="121.80" stroke="#333" stroke-width="0.6"/>
<line x1="354.94" y1="120.40" x2="354.94" y2="121.80" stroke="#333" stroke-width="0.6"/>
<line x1="356.72" y1="120.40" x2="356.72" y2="121.80" stroke="#333" stroke-width="0.6"/>
<line x1="358.22" y1="120.40" x2="358.22" y2="121.80" stroke="#333" stroke-width="0.6"/>
<line x1="359.52" y1="120.40" x2="359.52" y2="121.80" stroke="#333" stroke-width="0.6"/>
<line x1="360.67" y1="120.40" x2="360.67" y2="121.80" stroke="#333" stroke-width="0.6"/>
<line x1="270.10" y1="120.40" x2="271.90" y2="120.40" stroke="#333" stroke-width="0.7"/>
<line x1="271.90" y1="113.66" x2="273.10" y2="113.66" stroke="#333" stroke-width="0.6"/>
<line x1="271.90" y1="109.71" x2="273.10" y2="109.71" stroke="#333" stroke-width="0.6"/>
<line x1="271.90" y1="106.91" x2="273.10" y2="106.91" stroke="#333" stroke-width="0.6"/>
<line x1="271.90" y1="104.74" x2="273.10" y2="104.74" stroke="#333" stroke-width="0.6"/>
<line x1="271.90" y1="102.97" x2="273.10" y2="102.97" stroke="#333" stroke-width="0.6"/>
<line x1="271.90" y1="101.47" x2="273.10" y2="101.47" stroke="#333" stroke-width="0.6"/>
<line x1="271.90" y1="100.17" x2="273.10" y2="100.17" stroke="#333" stroke-width="0.6"/>
<line x1="271.90" y1="99.02" x2="273.10" y2="99.02" stroke="#333" stroke-width="0.6"/>
<line x1="270.10" y1="98.00" x2="271.90" y2="98.00" stroke="#333" stroke-width="0.7"/>
<line x1="271.90" y1="91.26" x2="273.10" y2="91.26" stroke="#333" stroke-width="0.6"/>
<line x1="271.90" y1="87.31" x2="273.10" y2="87.31" stroke="#333" stroke-width="0.6"/>
<line x1="271.90" y1="84.51" x2="273.10" y2="84.51" stroke="#333" stroke-width="0.6"/>
<line x1="271.90" y1="82.34" x2="273.10" y2="82.34" stroke="#333" stroke-width="0.6"/>
<line x1="271.90" y1="80.57" x2="273.10" y2="80.57" stroke="#333" stroke-width="0.6"/>
<line x1="271.90" y1="79.07" x2="273.10" y2="79.07" stroke="#333" stroke-width="0.6"/>
<line x1="271.90" y1="77.77" x2="273.10" y2="77.77" stroke="#333" stroke-width="0.6"/>
<line x1="271.90" y1="76.62" x2="273.10" y2="76.62" stroke="#333" stroke-width="0.6"/>
<line x1="270.10" y1="75.60" x2="271.90" y2="75.60" stroke="#333" stroke-width="0.7"/>
<line x1="271.90" y1="68.86" x2="273.10" y2="68.86" stroke="#333" stroke-width="0.6"/>
<line x1="271.90" y1="64.91" x2="273.10" y2="64.91" stroke="#333" stroke-width="0.6"/>
<line x1="271.90" y1="62.11" x2="273.10" y2="62.11" stroke="#333" stroke-width="0.6"/>
<line x1="271.90" y1="59.94" x2="273.10" y2="59.94" stroke="#333" stroke-width="0.6"/>
<line x1="271.90" y1="58.17" x2="273.10" y2="58.17" stroke="#333" stroke-width="0.6"/>
<line x1="271.90" y1="56.67" x2="273.10" y2="56.67" stroke="#333" stroke-width="0.6"/>
<line x1="271.90" y1="55.37" x2="273.10" y2="55.37" stroke="#333" stroke-width="0.6"/>
<line x1="271.90" y1="54.22" x2="273.10" y2="54.22" stroke="#333" stroke-width="0.6"/>
<line x1="270.10" y1="53.20" x2="271.90" y2="53.20" stroke="#333" stroke-width="0.7"/>
<line x1="271.90" y1="46.46" x2="273.10" y2="46.46" stroke="#333" stroke-width="0.6"/>
<line x1="271.90" y1="42.51" x2="273.10" y2="42.51" stroke="#333" stroke-width="0.6"/>
<line x1="271.90" y1="39.71" x2="273.10" y2="39.71" stroke="#333" stroke-width="0.6"/>
<line x1="271.90" y1="37.54" x2="273.10" y2="37.54" stroke="#333" stroke-width="0.6"/>
<line x1="271.90" y1="35.77" x2="273.10" y2="35.77" stroke="#333" stroke-width="0.6"/>
<line x1="271.90" y1="34.27" x2="273.10" y2="34.27" stroke="#333" stroke-width="0.6"/>
<line x1="271.90" y1="32.97" x2="273.10" y2="32.97" stroke="#333" stroke-width="0.6"/>
<line x1="271.90" y1="31.82" x2="273.10" y2="31.82" stroke="#333" stroke-width="0.6"/>
<text x="271.70" y="128.00" font-size="4.6" font-weight="bold" text-anchor="middle" fill="#222">10<tspan font-size="3.31" dy="-2.2">0</tspan></text>
<text x="269.30" y="122.20" font-size="4.6" font-weight="bold" text-anchor="end" fill="#222">10<tspan font-size="3.31" dy="-2.2">0</tspan></text>
<text x="294.15" y="128.00" font-size="4.6" font-weight="bold" text-anchor="middle" fill="#222">10<tspan font-size="3.31" dy="-2.2">1</tspan></text>
<text x="269.30" y="99.80" font-size="4.6" font-weight="bold" text-anchor="end" fill="#222">10<tspan font-size="3.31" dy="-2.2">1</tspan></text>
<text x="316.60" y="128.00" font-size="4.6" font-weight="bold" text-anchor="middle" fill="#222">10<tspan font-size="3.31" dy="-2.2">2</tspan></text>
<text x="269.30" y="77.40" font-size="4.6" font-weight="bold" text-anchor="end" fill="#222">10<tspan font-size="3.31" dy="-2.2">2</tspan></text>
<text x="339.05" y="128.00" font-size="4.6" font-weight="bold" text-anchor="middle" fill="#222">10<tspan font-size="3.31" dy="-2.2">3</tspan></text>
<text x="269.30" y="55.00" font-size="4.6" font-weight="bold" text-anchor="end" fill="#222">10<tspan font-size="3.31" dy="-2.2">3</tspan></text>
<rect x="316.90" y="58.8" width="32.80" height="23.8" fill="none" stroke="#2b3180" stroke-width="1.4"/>
<text x="333.40" y="57.60" font-size="7.5" text-anchor="middle" font-weight="bold" fill="#111" >8.4</text>
<line x1="333.20" y1="82.60" x2="333.20" y2="148.50" stroke="#444" stroke-width="1.0"/>
<path d="M330.80 146.6 L333.20 150.3 L335.60 146.6 L333.20 148.0 Z" fill="#222" stroke="#222" stroke-width="0.6" stroke-linejoin="round"/>
<text x="421.90" y="25.20" font-size="8.3" text-anchor="middle" font-weight="bold" fill="#111" textLength="17.90" lengthAdjust="spacingAndGlyphs" >2 &#181;M</text>
<g filter="url(#sf)" stroke-linecap="square" stroke-width="1" transform="translate(.5 .5)">
<path d="M458 31h0M382 40h0M398 52h0M403 53h0M405 56h0M424 56h0M425 58h0M435 58h0M386 59h0M431 59h0M432 59h0M453 59h0M378 60h0M382 60h0M433 60h0M435 60h0M432 61h0M439 61h0M433 63h0M436 63h0M439 65h0M442 65h0M446 66h0M445 68h0M440 74h0M437 81h0M433 86h0M436 86h0M379 87h0M463 87h0M430 89h0M432 89h0M433 89h0M426 91h0M377 94h0M382 94h0M385 96h0M391 96h0M396 97h0M413 97h0M427 97h0M389 98h0M422 98h0M395 99h0M401 100h0M408 100h0M381 102h0M383 102h0M418 105h0M396 106h0M426 106h0M409 112h0" stroke="#bccadc"/>
<path d="M391 32h0M454 34h0M441 36h0M404 40h0M402 43h0M425 43h0M399 50h0M407 53h0M414 53h0M385 54h0M407 54h0M411 54h0M400 55h0M416 55h0M423 55h0M421 56h0M428 56h0M432 56h0M437 56h0M399 57h0M407 57h0M418 57h0M420 57h0M430 57h0M390 58h0M392 58h0M396 58h0M410 58h0M411 58h0M417 58h0M433 58h0M436 58h0M388 59h0M427 60h0M436 60h0M378 61h0M433 62h0M434 62h0M437 62h0M437 63h0M441 64h0M462 65h0M441 68h0M446 68h0M443 69h0M450 69h0M441 72h0M442 73h0M441 74h0M449 74h0M444 76h0M446 76h0M443 77h0M445 77h0M441 78h0M441 79h0M438 80h0M442 81h0M457 82h0M439 84h0M447 84h0M377 85h0M435 86h0M380 87h0M427 87h0M438 87h0M460 88h0M428 89h0M445 89h0M380 90h0M437 91h0M378 92h0M423 92h0M425 92h0M377 93h0M379 93h0M418 93h0M423 94h0M380 95h0M386 95h0M427 95h0M386 96h0M393 96h0M432 96h0M410 97h0M415 97h0M418 97h0M419 97h0M384 98h0M390 98h0M403 98h0M423 98h0M428 98h0M431 98h0M403 99h0M406 99h0M408 99h0M409 99h0M377 100h0M388 100h0M392 100h0M399 100h0M400 100h0M403 100h0M406 100h0M419 100h0M398 101h0M400 101h0M399 102h0M406 103h0M421 103h0M424 104h0M390 105h0M396 105h0M392 106h0M398 106h0M400 106h0M417 106h0M396 107h0M437 107h0M379 108h0M395 108h0M419 108h0M424 108h0M382 110h0M418 110h0M404 112h0M388 113h0M409 116h0M423 116h0" stroke="#d6dfea"/>
<path d="M408 55h0M387 58h0M422 58h0M381 59h0M420 59h0M434 63h0M450 68h0M440 73h0M444 77h0M442 79h0M442 80h0M448 80h0M377 91h0M378 91h0M382 92h0M388 94h0M430 96h0M400 98h0M387 101h0M410 101h0M412 102h0M426 102h0M428 103h0M405 105h0M401 115h0" stroke="#98acc6"/>
<path d="M403 58h0M416 59h0M398 60h0M405 60h0M414 60h0M416 60h0M382 61h0M397 61h0M398 61h0M400 61h0M402 61h0M418 61h0M390 62h0M392 62h0M416 62h0M429 62h0M385 63h0M386 63h0M418 63h0M419 63h0M424 63h0M381 64h0M382 64h0M419 64h0M424 64h0M425 64h0M428 64h0M428 65h0M378 66h0M423 66h0M430 67h0M435 68h0M436 68h0M430 69h0M432 69h0M435 69h0M437 69h0M438 69h0M428 70h0M435 70h0M432 71h0M436 71h0M433 72h0M433 75h0M434 75h0M429 76h0M435 77h0M430 78h0M381 80h0M433 80h0M382 81h0M424 81h0M378 82h0M379 84h0M386 84h0M425 84h0M385 85h0M393 85h0M428 85h0M380 86h0M386 86h0M387 86h0M414 86h0M422 86h0M391 87h0M399 87h0M387 88h0M394 88h0M401 88h0M404 88h0M416 88h0M418 88h0M388 89h0M394 89h0M395 89h0M397 89h0M401 89h0M403 89h0M405 89h0M410 89h0M384 90h0M402 90h0M406 90h0M416 90h0M387 91h0M390 91h0M395 91h0M403 91h0M405 91h0M387 92h0M394 92h0M395 92h0M397 92h0M404 92h0M408 92h0M390 93h0M407 93h0M408 93h0M416 93h0M389 94h0M395 94h0M396 94h0M400 94h0M403 94h0M406 94h0M409 94h0M402 95h0M403 95h0M409 95h0M406 96h0" stroke="#b0c4da"/>
<path d="M404 58h0M412 58h0M401 59h0M396 60h0M399 60h0M410 60h0M417 60h0M392 61h0M415 61h0M422 61h0M386 62h0M389 62h0M394 62h0M426 62h0M427 62h0M420 63h0M421 63h0M421 64h0M427 65h0M429 66h0M430 66h0M432 66h0M433 67h0M435 67h0M378 69h0M431 69h0M438 70h0M429 71h0M431 71h0M438 71h0M441 73h0M378 76h0M431 76h0M433 76h0M433 77h0M378 78h0M429 78h0M437 78h0M378 79h0M379 80h0M428 80h0M426 81h0M429 81h0M384 82h0M427 82h0M380 83h0M423 83h0M387 84h0M427 84h0M431 84h0M378 85h0M415 85h0M422 85h0M416 86h0M418 86h0M414 87h0M426 87h0M392 88h0M395 88h0M396 88h0M406 88h0M412 88h0M425 88h0M384 89h0M386 89h0M391 89h0M404 89h0M416 89h0M418 89h0M421 89h0M387 90h0M394 90h0M404 90h0M408 90h0M409 90h0M410 90h0M417 90h0M416 91h0M398 92h0M407 92h0M409 92h0M413 92h0M399 93h0M401 93h0M410 94h0M404 95h0M402 96h0M404 96h0" stroke="#8aa4c4"/>
<path d="M406 58h0M394 59h0M402 59h0M405 59h0M407 59h0M409 59h0M411 59h0M388 60h0M394 60h0M408 60h0M412 60h0M413 60h0M393 61h0M396 61h0M406 61h0M407 61h0M412 61h0M413 61h0M424 61h0M428 61h0M385 62h0M405 62h0M409 62h0M421 62h0M382 63h0M383 63h0M414 63h0M415 63h0M422 63h0M423 63h0M386 64h0M429 64h0M379 65h0M380 65h0M381 65h0M429 65h0M427 66h0M428 66h0M434 66h0M434 67h0M379 68h0M433 68h0M434 68h0M433 69h0M429 70h0M430 70h0M431 70h0M434 70h0M377 71h0M430 72h0M435 72h0M437 72h0M438 72h0M439 72h0M430 73h0M433 73h0M434 73h0M433 74h0M434 74h0M438 74h0M377 75h0M378 75h0M429 75h0M377 76h0M434 76h0M437 76h0M428 77h0M429 77h0M430 77h0M431 77h0M432 77h0M437 77h0M377 78h0M379 78h0M434 79h0M378 80h0M434 80h0M377 81h0M379 81h0M381 81h0M427 81h0M433 81h0M423 82h0M424 82h0M432 82h0M378 83h0M381 83h0M424 83h0M430 83h0M431 83h0M432 83h0M384 84h0M420 84h0M421 84h0M423 84h0M380 85h0M383 85h0M386 85h0M418 85h0M421 85h0M424 85h0M390 86h0M391 86h0M417 86h0M423 86h0M427 86h0M383 87h0M384 87h0M385 87h0M388 87h0M389 87h0M394 87h0M396 87h0M410 87h0M383 88h0M389 88h0M409 88h0M410 88h0M420 88h0M422 88h0M427 88h0M396 89h0M399 89h0M409 89h0M415 89h0M386 90h0M389 90h0M391 90h0M392 90h0M395 90h0M411 90h0M415 90h0M418 90h0M420 90h0M383 91h0M385 91h0M386 91h0M391 91h0M392 91h0M393 91h0M396 91h0M401 91h0M404 91h0M389 92h0M396 92h0M402 92h0M419 92h0M421 92h0M391 93h0M403 93h0M404 93h0M412 93h0M387 94h0M394 94h0M397 94h0M398 94h0M413 94h0M393 95h0M399 95h0M410 95h0M396 96h0M405 96h0M407 96h0M408 96h0M397 97h0M401 97h0M399 98h0M402 98h0" stroke="#d0dcea"/>
<path d="M403 59h0M392 60h0M407 60h0M387 61h0M403 61h0M405 61h0M411 61h0M420 61h0M430 61h0M382 62h0M427 64h0M432 70h0M433 70h0M439 76h0M377 77h0M427 83h0M424 84h0M384 85h0M417 85h0M426 85h0M413 86h0M382 88h0M386 88h0M400 88h0M405 88h0M407 90h0M388 91h0M408 94h0M398 95h0M408 95h0M394 96h0" stroke="#5a7898"/>
<path d="M391 62h0M395 62h0M400 62h0M401 62h0M392 63h0M393 63h0M401 63h0M407 63h0M408 63h0M409 63h0M411 63h0M385 64h0M391 64h0M401 64h0M383 65h0M384 65h0M388 65h0M408 65h0M413 65h0M415 65h0M417 65h0M381 66h0M385 66h0M410 66h0M413 66h0M414 66h0M420 66h0M421 66h0M381 67h0M383 67h0M415 67h0M423 67h0M415 68h0M419 68h0M420 69h0M424 69h0M422 70h0M379 71h0M425 71h0M426 71h0M424 72h0M427 72h0M381 73h0M417 73h0M425 73h0M429 73h0M380 74h0M381 74h0M422 74h0M425 74h0M427 74h0M428 74h0M379 75h0M381 75h0M420 75h0M382 76h0M421 76h0M422 76h0M423 76h0M427 76h0M379 77h0M383 77h0M384 77h0M424 77h0M417 78h0M426 78h0M380 79h0M381 79h0M383 79h0M386 79h0M415 79h0M421 79h0M423 79h0M388 80h0M420 80h0M421 80h0M425 80h0M427 80h0M388 81h0M394 81h0M407 81h0M412 81h0M413 81h0M418 81h0M422 81h0M385 82h0M387 82h0M389 82h0M394 82h0M396 82h0M398 82h0M400 82h0M406 82h0M407 82h0M412 82h0M416 82h0M418 82h0M385 83h0M394 83h0M397 83h0M398 83h0M399 83h0M401 83h0M413 83h0M420 83h0M389 84h0M391 84h0M394 84h0M402 84h0M406 84h0M411 84h0M418 84h0M400 85h0M406 85h0M407 85h0M397 86h0M402 86h0M409 86h0M412 86h0M393 87h0M401 87h0" stroke="#c8d8e8"/>
<path d="M393 62h0M397 62h0M399 62h0M402 62h0M408 62h0M389 63h0M394 63h0M395 63h0M397 63h0M399 63h0M403 63h0M403 64h0M405 64h0M410 64h0M412 64h0M414 64h0M417 64h0M387 65h0M390 65h0M402 65h0M406 65h0M407 65h0M384 66h0M388 66h0M380 67h0M388 67h0M409 67h0M412 67h0M416 67h0M427 67h0M381 68h0M420 68h0M424 68h0M426 68h0M421 69h0M426 69h0M381 70h0M382 70h0M424 70h0M426 70h0M380 71h0M424 71h0M427 71h0M428 71h0M378 72h0M381 72h0M421 72h0M422 72h0M379 73h0M428 73h0M379 74h0M419 74h0M423 74h0M429 74h0M430 74h0M419 75h0M421 75h0M423 75h0M424 75h0M381 76h0M383 76h0M381 77h0M382 77h0M414 78h0M420 78h0M421 78h0M382 79h0M389 79h0M424 79h0M426 79h0M427 79h0M382 80h0M411 80h0M423 80h0M387 81h0M390 81h0M396 81h0M415 81h0M420 81h0M421 81h0M423 81h0M390 82h0M392 82h0M404 82h0M421 82h0M422 82h0M389 83h0M402 83h0M405 83h0M406 83h0M395 84h0M397 84h0M398 84h0M401 84h0M403 84h0M408 84h0M409 84h0M412 84h0M396 85h0M404 85h0M419 85h0M393 86h0M400 86h0M404 86h0M407 86h0M400 87h0M405 87h0M413 87h0M406 89h0" stroke="#7492b8"/>
<path d="M388 63h0M390 63h0M400 63h0M404 63h0M390 64h0M392 64h0M393 64h0M395 64h0M406 64h0M411 64h0M415 64h0M409 65h0M410 65h0M416 65h0M419 65h0M423 65h0M386 66h0M415 66h0M416 66h0M418 66h0M382 67h0M417 67h0M418 67h0M420 67h0M421 67h0M424 67h0M425 67h0M384 68h0M422 68h0M379 69h0M413 69h0M414 69h0M417 69h0M419 69h0M422 69h0M423 69h0M378 70h0M420 70h0M425 70h0M377 72h0M379 72h0M420 72h0M425 72h0M429 72h0M426 73h0M427 73h0M378 74h0M418 74h0M421 74h0M380 75h0M383 75h0M422 75h0M427 75h0M380 76h0M416 76h0M418 76h0M419 77h0M423 77h0M425 77h0M380 78h0M384 78h0M386 78h0M418 78h0M419 78h0M384 79h0M385 79h0M414 79h0M419 79h0M420 79h0M384 80h0M385 80h0M389 80h0M390 80h0M417 80h0M419 80h0M422 80h0M400 81h0M404 81h0M405 81h0M409 81h0M411 81h0M416 81h0M399 82h0M401 82h0M403 82h0M408 82h0M409 82h0M410 82h0M413 82h0M419 82h0M403 83h0M409 83h0M417 83h0M422 83h0M388 84h0M390 84h0M393 84h0M396 84h0M405 84h0M410 84h0M416 84h0M398 85h0M399 85h0M401 85h0M405 85h0M408 85h0M411 85h0M413 85h0M399 86h0M401 86h0M405 86h0M411 86h0M398 87h0M403 87h0M407 87h0M409 87h0M397 88h0" stroke="#a0bad4"/>
<path d="M388 64h0M398 64h0M407 64h0M408 64h0M409 64h0M418 64h0M385 65h0M389 65h0M418 65h0M385 67h0M380 68h0M382 68h0M411 68h0M417 68h0M425 68h0M380 69h0M383 69h0M425 69h0M427 69h0M379 70h0M421 70h0M427 70h0M420 71h0M422 71h0M423 71h0M380 72h0M426 72h0M428 72h0M377 73h0M423 73h0M426 75h0M425 76h0M380 77h0M422 77h0M426 77h0M382 78h0M423 78h0M424 78h0M387 79h0M416 79h0M387 80h0M416 80h0M384 81h0M385 81h0M386 81h0M392 81h0M391 82h0M414 82h0M393 83h0M395 83h0M416 83h0M419 83h0M399 84h0M400 84h0M404 84h0M397 85h0M403 86h0M402 87h0M399 88h0" stroke="#44648a"/>
<path d="M396 64h0M396 65h0M400 66h0M406 66h0M411 66h0M392 67h0M402 67h0M404 67h0M385 68h0M386 68h0M402 68h0M409 68h0M410 68h0M408 69h0M416 69h0M383 70h0M388 70h0M411 70h0M419 70h0M384 71h0M386 71h0M390 71h0M408 71h0M409 72h0M413 72h0M417 72h0M408 73h0M409 73h0M416 73h0M388 74h0M391 74h0M411 74h0M414 74h0M382 75h0M411 75h0M413 75h0M386 76h0M399 76h0M404 76h0M414 76h0M389 77h0M395 77h0M405 77h0M407 77h0M408 77h0M410 77h0M391 78h0M394 78h0M401 78h0M403 78h0M405 78h0M411 78h0M393 79h0M394 79h0M396 79h0M402 79h0M404 79h0M405 79h0M411 79h0M392 80h0M398 80h0M403 80h0M407 80h0M399 81h0" stroke="#6e90aa"/>
<path d="M400 64h0M402 64h0M395 65h0M392 66h0M394 66h0M395 66h0M398 66h0M399 66h0M402 66h0M386 67h0M389 67h0M393 67h0M398 67h0M407 67h0M388 68h0M403 68h0M414 68h0M384 69h0M387 69h0M388 69h0M390 69h0M412 70h0M417 70h0M418 70h0M382 71h0M383 71h0M406 71h0M413 71h0M414 71h0M415 71h0M385 72h0M408 72h0M416 72h0M419 72h0M412 73h0M413 73h0M414 73h0M418 73h0M420 73h0M422 73h0M382 74h0M385 74h0M412 74h0M416 74h0M391 75h0M392 75h0M407 75h0M409 75h0M415 75h0M418 75h0M384 76h0M388 76h0M389 76h0M401 76h0M405 76h0M407 76h0M408 76h0M415 76h0M419 76h0M385 77h0M388 77h0M390 77h0M404 77h0M414 77h0M416 77h0M387 78h0M390 78h0M392 78h0M395 78h0M409 78h0M413 78h0M395 79h0M399 79h0M407 79h0M410 79h0M413 79h0M391 80h0M393 80h0M396 80h0M397 80h0M399 80h0M406 80h0M410 80h0M415 80h0M395 81h0M402 82h0" stroke="#98b8cc"/>
<path d="M391 65h0M400 65h0M396 67h0M387 68h0M389 68h0M393 68h0M407 68h0M392 69h0M404 69h0M406 69h0M385 70h0M386 70h0M389 70h0M413 70h0M389 71h0M391 71h0M383 72h0M410 73h0M411 73h0M419 73h0M384 75h0M388 75h0M413 76h0M409 77h0M415 77h0M418 77h0M389 78h0M408 78h0M397 79h0M404 80h0M397 81h0M398 81h0M401 81h0" stroke="#90b894"/>
<path d="M393 65h0M394 65h0M398 65h0M399 65h0M401 65h0M391 66h0M393 66h0M397 66h0M401 66h0M403 66h0M404 66h0M391 67h0M394 67h0M406 67h0M410 67h0M411 67h0M390 68h0M392 68h0M400 68h0M405 68h0M408 68h0M412 68h0M413 68h0M393 69h0M409 69h0M411 69h0M412 69h0M415 69h0M384 70h0M387 70h0M390 70h0M409 70h0M410 70h0M381 71h0M385 71h0M409 71h0M416 71h0M417 71h0M382 72h0M384 72h0M388 72h0M412 72h0M418 72h0M383 73h0M384 73h0M385 73h0M387 73h0M389 73h0M406 73h0M415 73h0M384 74h0M386 74h0M409 74h0M410 74h0M420 74h0M385 75h0M387 75h0M414 75h0M387 76h0M392 76h0M393 76h0M406 76h0M420 76h0M387 77h0M391 77h0M393 77h0M401 77h0M388 78h0M393 78h0M399 78h0M410 78h0M412 78h0M415 78h0M390 79h0M391 79h0M392 79h0M398 79h0M401 79h0M403 79h0M408 79h0M394 80h0M395 80h0M412 80h0M414 80h0M402 81h0M406 81h0M408 81h0" stroke="#c4d8e4"/>
<path d="M403 65h0M405 65h0M390 66h0M396 66h0M407 66h0M387 67h0M390 67h0M395 67h0M397 67h0M405 67h0M401 68h0M406 68h0M385 69h0M386 69h0M410 69h0M407 70h0M414 70h0M415 70h0M412 71h0M387 72h0M414 72h0M415 72h0M382 73h0M386 73h0M383 74h0M415 74h0M417 74h0M412 75h0M385 76h0M397 76h0M409 76h0M412 76h0M392 77h0M396 77h0M406 77h0M411 77h0M412 77h0M413 77h0M420 77h0M400 78h0M407 78h0M406 79h0M409 79h0M401 80h0M408 80h0M405 82h0M404 83h0" stroke="#3a5a74"/>
<path d="M399 67h0M400 67h0M396 68h0M395 69h0M400 69h0M393 70h0M398 70h0M399 70h0M406 70h0M408 70h0M393 71h0M397 71h0M394 72h0M399 72h0M402 72h0M404 72h0M390 73h0M396 73h0M399 73h0M405 73h0M392 74h0M393 74h0M394 74h0M395 74h0M401 74h0M407 74h0M389 75h0M398 75h0M402 75h0M403 75h0M396 76h0M394 77h0M398 78h0" stroke="#90b890"/>
<path d="M403 67h0M391 68h0M394 68h0M397 68h0M394 69h0M396 69h0M398 69h0M401 69h0M407 69h0M391 70h0M394 70h0M396 70h0M404 71h0M407 71h0M396 72h0M403 72h0M411 72h0M388 73h0M392 73h0M393 73h0M397 73h0M397 74h0M406 74h0M401 75h0M406 75h0M390 76h0M394 76h0M398 76h0M397 77h0M399 77h0M397 78h0M402 78h0" stroke="#68948c"/>
<path d="M395 68h0M398 68h0M399 68h0M391 69h0M397 69h0M392 70h0M400 70h0M402 70h0M404 70h0M405 70h0M387 71h0M388 71h0M392 71h0M396 71h0M403 71h0M410 71h0M389 72h0M391 72h0M392 72h0M398 72h0M401 72h0M407 72h0M410 72h0M394 73h0M395 73h0M398 73h0M402 73h0M403 73h0M404 73h0M390 74h0M396 74h0M404 74h0M405 74h0M408 74h0M393 75h0M395 75h0M396 75h0M405 75h0M410 75h0M395 76h0M402 76h0M403 76h0M398 77h0" stroke="#c0d8d0"/>
<path d="M389 69h0M399 69h0M403 69h0M401 71h0M405 71h0M397 72h0M400 72h0M405 72h0M391 73h0M401 73h0M398 74h0M400 74h0M403 74h0M390 75h0M400 75h0M404 75h0M400 76h0M402 77h0M406 78h0" stroke="#385a64"/>
<path d="M405 69h0M395 70h0M397 70h0M401 70h0M403 70h0M394 71h0M395 71h0M398 71h0M399 71h0M400 71h0M402 71h0M390 72h0M393 72h0M395 72h0M400 73h0M407 73h0M387 74h0M399 74h0M402 74h0M394 75h0M397 75h0M399 75h0M408 75h0M400 77h0M403 77h0M396 78h0" stroke="#a8c890"/>
</g>
<rect x="376.40" y="30.0" width="91.00" height="90.40" fill="none" stroke="#333" stroke-width="1.3"/>
<line x1="376.40" y1="120.40" x2="376.40" y2="122.40" stroke="#333" stroke-width="0.6"/>
<line x1="383.16" y1="120.40" x2="383.16" y2="121.80" stroke="#333" stroke-width="0.6"/>
<line x1="387.11" y1="120.40" x2="387.11" y2="121.80" stroke="#333" stroke-width="0.6"/>
<line x1="389.92" y1="120.40" x2="389.92" y2="121.80" stroke="#333" stroke-width="0.6"/>
<line x1="392.09" y1="120.40" x2="392.09" y2="121.80" stroke="#333" stroke-width="0.6"/>
<line x1="393.87" y1="120.40" x2="393.87" y2="121.80" stroke="#333" stroke-width="0.6"/>
<line x1="395.37" y1="120.40" x2="395.37" y2="121.80" stroke="#333" stroke-width="0.6"/>
<line x1="396.67" y1="120.40" x2="396.67" y2="121.80" stroke="#333" stroke-width="0.6"/>
<line x1="397.82" y1="120.40" x2="397.82" y2="121.80" stroke="#333" stroke-width="0.6"/>
<line x1="398.85" y1="120.40" x2="398.85" y2="122.40" stroke="#333" stroke-width="0.6"/>
<line x1="405.61" y1="120.40" x2="405.61" y2="121.80" stroke="#333" stroke-width="0.6"/>
<line x1="409.56" y1="120.40" x2="409.56" y2="121.80" stroke="#333" stroke-width="0.6"/>
<line x1="412.37" y1="120.40" x2="412.37" y2="121.80" stroke="#333" stroke-width="0.6"/>
<line x1="414.54" y1="120.40" x2="414.54" y2="121.80" stroke="#333" stroke-width="0.6"/>
<line x1="416.32" y1="120.40" x2="416.32" y2="121.80" stroke="#333" stroke-width="0.6"/>
<line x1="417.82" y1="120.40" x2="417.82" y2="121.80" stroke="#333" stroke-width="0.6"/>
<line x1="419.12" y1="120.40" x2="419.12" y2="121.80" stroke="#333" stroke-width="0.6"/>
<line x1="420.27" y1="120.40" x2="420.27" y2="121.80" stroke="#333" stroke-width="0.6"/>
<line x1="421.30" y1="120.40" x2="421.30" y2="122.40" stroke="#333" stroke-width="0.6"/>
<line x1="428.06" y1="120.40" x2="428.06" y2="121.80" stroke="#333" stroke-width="0.6"/>
<line x1="432.01" y1="120.40" x2="432.01" y2="121.80" stroke="#333" stroke-width="0.6"/>
<line x1="434.82" y1="120.40" x2="434.82" y2="121.80" stroke="#333" stroke-width="0.6"/>
<line x1="436.99" y1="120.40" x2="436.99" y2="121.80" stroke="#333" stroke-width="0.6"/>
<line x1="438.77" y1="120.40" x2="438.77" y2="121.80" stroke="#333" stroke-width="0.6"/>
<line x1="440.27" y1="120.40" x2="440.27" y2="121.80" stroke="#333" stroke-width="0.6"/>
<line x1="441.57" y1="120.40" x2="441.57" y2="121.80" stroke="#333" stroke-width="0.6"/>
<line x1="442.72" y1="120.40" x2="442.72" y2="121.80" stroke="#333" stroke-width="0.6"/>
<line x1="443.75" y1="120.40" x2="443.75" y2="122.40" stroke="#333" stroke-width="0.6"/>
<line x1="450.51" y1="120.40" x2="450.51" y2="121.80" stroke="#333" stroke-width="0.6"/>
<line x1="454.46" y1="120.40" x2="454.46" y2="121.80" stroke="#333" stroke-width="0.6"/>
<line x1="457.27" y1="120.40" x2="457.27" y2="121.80" stroke="#333" stroke-width="0.6"/>
<line x1="459.44" y1="120.40" x2="459.44" y2="121.80" stroke="#333" stroke-width="0.6"/>
<line x1="461.22" y1="120.40" x2="461.22" y2="121.80" stroke="#333" stroke-width="0.6"/>
<line x1="462.72" y1="120.40" x2="462.72" y2="121.80" stroke="#333" stroke-width="0.6"/>
<line x1="464.02" y1="120.40" x2="464.02" y2="121.80" stroke="#333" stroke-width="0.6"/>
<line x1="465.17" y1="120.40" x2="465.17" y2="121.80" stroke="#333" stroke-width="0.6"/>
<line x1="374.60" y1="120.40" x2="376.40" y2="120.40" stroke="#333" stroke-width="0.7"/>
<line x1="376.40" y1="113.66" x2="377.60" y2="113.66" stroke="#333" stroke-width="0.6"/>
<line x1="376.40" y1="109.71" x2="377.60" y2="109.71" stroke="#333" stroke-width="0.6"/>
<line x1="376.40" y1="106.91" x2="377.60" y2="106.91" stroke="#333" stroke-width="0.6"/>
<line x1="376.40" y1="104.74" x2="377.60" y2="104.74" stroke="#333" stroke-width="0.6"/>
<line x1="376.40" y1="102.97" x2="377.60" y2="102.97" stroke="#333" stroke-width="0.6"/>
<line x1="376.40" y1="101.47" x2="377.60" y2="101.47" stroke="#333" stroke-width="0.6"/>
<line x1="376.40" y1="100.17" x2="377.60" y2="100.17" stroke="#333" stroke-width="0.6"/>
<line x1="376.40" y1="99.02" x2="377.60" y2="99.02" stroke="#333" stroke-width="0.6"/>
<line x1="374.60" y1="98.00" x2="376.40" y2="98.00" stroke="#333" stroke-width="0.7"/>
<line x1="376.40" y1="91.26" x2="377.60" y2="91.26" stroke="#333" stroke-width="0.6"/>
<line x1="376.40" y1="87.31" x2="377.60" y2="87.31" stroke="#333" stroke-width="0.6"/>
<line x1="376.40" y1="84.51" x2="377.60" y2="84.51" stroke="#333" stroke-width="0.6"/>
<line x1="376.40" y1="82.34" x2="377.60" y2="82.34" stroke="#333" stroke-width="0.6"/>
<line x1="376.40" y1="80.57" x2="377.60" y2="80.57" stroke="#333" stroke-width="0.6"/>
<line x1="376.40" y1="79.07" x2="377.60" y2="79.07" stroke="#333" stroke-width="0.6"/>
<line x1="376.40" y1="77.77" x2="377.60" y2="77.77" stroke="#333" stroke-width="0.6"/>
<line x1="376.40" y1="76.62" x2="377.60" y2="76.62" stroke="#333" stroke-width="0.6"/>
<line x1="374.60" y1="75.60" x2="376.40" y2="75.60" stroke="#333" stroke-width="0.7"/>
<line x1="376.40" y1="68.86" x2="377.60" y2="68.86" stroke="#333" stroke-width="0.6"/>
<line x1="376.40" y1="64.91" x2="377.60" y2="64.91" stroke="#333" stroke-width="0.6"/>
<line x1="376.40" y1="62.11" x2="377.60" y2="62.11" stroke="#333" stroke-width="0.6"/>
<line x1="376.40" y1="59.94" x2="377.60" y2="59.94" stroke="#333" stroke-width="0.6"/>
<line x1="376.40" y1="58.17" x2="377.60" y2="58.17" stroke="#333" stroke-width="0.6"/>
<line x1="376.40" y1="56.67" x2="377.60" y2="56.67" stroke="#333" stroke-width="0.6"/>
<line x1="376.40" y1="55.37" x2="377.60" y2="55.37" stroke="#333" stroke-width="0.6"/>
<line x1="376.40" y1="54.22" x2="377.60" y2="54.22" stroke="#333" stroke-width="0.6"/>
<line x1="374.60" y1="53.20" x2="376.40" y2="53.20" stroke="#333" stroke-width="0.7"/>
<line x1="376.40" y1="46.46" x2="377.60" y2="46.46" stroke="#333" stroke-width="0.6"/>
<line x1="376.40" y1="42.51" x2="377.60" y2="42.51" stroke="#333" stroke-width="0.6"/>
<line x1="376.40" y1="39.71" x2="377.60" y2="39.71" stroke="#333" stroke-width="0.6"/>
<line x1="376.40" y1="37.54" x2="377.60" y2="37.54" stroke="#333" stroke-width="0.6"/>
<line x1="376.40" y1="35.77" x2="377.60" y2="35.77" stroke="#333" stroke-width="0.6"/>
<line x1="376.40" y1="34.27" x2="377.60" y2="34.27" stroke="#333" stroke-width="0.6"/>
<line x1="376.40" y1="32.97" x2="377.60" y2="32.97" stroke="#333" stroke-width="0.6"/>
<line x1="376.40" y1="31.82" x2="377.60" y2="31.82" stroke="#333" stroke-width="0.6"/>
<text x="376.20" y="128.00" font-size="4.6" font-weight="bold" text-anchor="middle" fill="#222">10<tspan font-size="3.31" dy="-2.2">0</tspan></text>
<text x="373.80" y="122.20" font-size="4.6" font-weight="bold" text-anchor="end" fill="#222">10<tspan font-size="3.31" dy="-2.2">0</tspan></text>
<text x="398.65" y="128.00" font-size="4.6" font-weight="bold" text-anchor="middle" fill="#222">10<tspan font-size="3.31" dy="-2.2">1</tspan></text>
<text x="373.80" y="99.80" font-size="4.6" font-weight="bold" text-anchor="end" fill="#222">10<tspan font-size="3.31" dy="-2.2">1</tspan></text>
<text x="421.10" y="128.00" font-size="4.6" font-weight="bold" text-anchor="middle" fill="#222">10<tspan font-size="3.31" dy="-2.2">2</tspan></text>
<text x="373.80" y="77.40" font-size="4.6" font-weight="bold" text-anchor="end" fill="#222">10<tspan font-size="3.31" dy="-2.2">2</tspan></text>
<text x="443.55" y="128.00" font-size="4.6" font-weight="bold" text-anchor="middle" fill="#222">10<tspan font-size="3.31" dy="-2.2">3</tspan></text>
<text x="373.80" y="55.00" font-size="4.6" font-weight="bold" text-anchor="end" fill="#222">10<tspan font-size="3.31" dy="-2.2">3</tspan></text>
<rect x="421.40" y="58.8" width="32.80" height="23.8" fill="none" stroke="#2b3180" stroke-width="1.4"/>
<text x="437.90" y="57.60" font-size="7.5" text-anchor="middle" font-weight="bold" fill="#111" >7.0</text>
<line x1="437.70" y1="82.60" x2="437.70" y2="148.50" stroke="#444" stroke-width="1.0"/>
<path d="M435.30 146.6 L437.70 150.3 L440.10 146.6 L437.70 148.0 Z" fill="#222" stroke="#222" stroke-width="0.6" stroke-linejoin="round"/>
<line x1="41.60" y1="98.00" x2="41.60" y2="134.80" stroke="#333" stroke-width="1.0"/>
<line x1="41.60" y1="134.80" x2="78.50" y2="134.80" stroke="#333" stroke-width="1.0"/>
<path d="M39.4 100.9 L41.6 97.3 L43.8 100.9 L41.6 99.6 Z" fill="#222" stroke="#222" stroke-width="0.5" stroke-linejoin="round"/>
<path d="M75.5 132.6 L79.1 134.8 L75.5 137.0 L76.8 134.8 Z" fill="#222" stroke="#222" stroke-width="0.5" stroke-linejoin="round"/>
<text x="0" y="0" font-size="8" font-weight="bold" fill="#111" text-anchor="middle" textLength="18.20" lengthAdjust="spacingAndGlyphs" transform="translate(43.20 81.40) rotate(-90)">c&#8211;Kit</text>
<text x="99.60" y="140.20" font-size="8.2" text-anchor="middle" font-weight="bold" fill="#111" textLength="23.20" lengthAdjust="spacingAndGlyphs" >CD150</text>
<polyline points="68.40,241.70 68.70,241.54 69.00,241.16 69.30,241.58 69.60,238.08 69.90,238.52 70.20,236.49 70.50,230.61 70.80,233.44 71.10,232.46 71.40,228.73 71.70,226.81 72.00,223.72 72.30,229.09 72.60,220.60 72.90,225.27 73.20,227.38 73.50,225.34 73.80,216.67 74.10,216.42 74.40,212.90 74.70,220.08 75.00,216.35 75.30,218.54 75.60,220.55 75.90,210.64 76.20,201.92 76.50,202.43 76.80,209.73 77.10,198.91 77.40,205.85 77.70,199.91 78.00,195.70 78.30,200.50 78.60,201.50 78.90,191.74 79.20,194.63 79.50,195.15 79.80,186.89 80.10,190.11 80.40,185.03 80.70,191.36 81.00,179.67 81.30,188.15 81.60,183.12 81.90,190.81 82.20,170.09 82.50,175.17 82.80,171.09 83.10,183.63 83.40,169.71 83.70,171.70 84.00,159.18 84.30,177.62 84.60,159.14 84.90,154.44 85.20,169.69 85.50,156.36 85.80,165.85 86.10,154.44 86.40,154.44 86.70,154.44 87.00,162.30 87.30,168.64 87.60,166.91 87.90,167.00 88.20,166.21 88.50,179.20 88.80,169.42 89.10,179.43 89.40,181.60 89.70,179.70 90.00,191.26 90.30,193.62 90.60,190.46 90.90,196.21 91.20,197.99 91.50,202.75 91.80,204.65 92.10,201.46 92.40,198.95 92.70,216.44 93.00,206.23 93.30,211.98 93.60,212.58 93.90,218.89 94.20,224.39 94.50,224.66 94.80,229.05 95.10,233.12 95.40,230.56 95.70,231.75 96.00,234.94 96.30,235.88 96.60,240.37 96.90,238.51 97.20,241.16 97.50,241.06 97.80,240.67 98.10,241.46 98.40,239.62 98.70,240.45 99.00,240.49 99.30,241.12 99.60,241.61 99.90,240.97 100.20,241.64 100.50,241.16 100.80,241.17 101.10,240.69 101.40,241.11 101.70,241.26 102.00,240.70 102.30,241.41 102.60,241.61" fill="none" stroke="#858585" stroke-width="0.85"/>
<polyline points="74.40,241.51 74.70,241.70 75.00,241.70 75.30,240.87 75.60,241.59 75.90,241.19 76.20,241.30 76.50,241.57 76.80,241.51 77.10,240.82 77.40,241.23 77.70,241.67 78.00,240.72 78.30,239.32 78.60,238.75 78.90,232.88 79.20,233.97 79.50,228.21 79.80,232.90 80.10,230.72 80.40,220.45 80.70,230.27 81.00,226.36 81.30,225.53 81.60,221.16 81.90,217.34 82.20,212.67 82.50,210.16 82.80,214.94 83.10,210.24 83.40,215.50 83.70,204.65 84.00,212.84 84.30,195.61 84.60,211.65 84.90,195.47 85.20,196.24 85.50,200.70 85.80,181.36 86.10,194.09 86.40,176.34 86.70,188.13 87.00,183.52 87.30,196.42 87.60,185.21 87.90,177.55 88.20,182.14 88.50,179.57 88.80,181.60 89.10,172.24 89.40,169.77 89.70,154.44 90.00,167.16 90.30,159.13 90.60,154.44 90.90,154.61 91.20,154.44 91.50,167.51 91.80,168.99 92.10,169.85 92.40,175.32 92.70,159.65 93.00,170.63 93.30,191.12 93.60,179.39 93.90,170.18 94.20,182.24 94.50,180.24 94.80,182.39 95.10,185.71 95.40,194.99 95.70,195.40 96.00,196.29 96.30,190.56 96.60,199.58 96.90,209.75 97.20,198.52 97.50,206.73 97.80,208.41 98.10,210.74 98.40,205.52 98.70,214.03 99.00,216.07 99.30,213.60 99.60,219.19 99.90,225.55 100.20,231.81 100.50,224.01 100.80,221.46 101.10,234.07 101.40,234.93 101.70,234.48 102.00,232.78 102.30,235.00 102.60,239.60 102.90,238.87 103.20,238.40 103.50,241.69 103.80,240.66 104.10,241.70 104.40,241.60 104.70,240.96 105.00,241.30 105.30,241.70 105.60,240.81 105.90,241.11 106.20,240.66 106.50,241.70 106.80,240.74 107.10,241.34 107.40,240.36" fill="none" stroke="#e01020" stroke-width="0.9"/>
<rect x="57.00" y="151.3" width="90.50" height="90.90" fill="none" stroke="#333" stroke-width="1.3"/>
<line x1="55.20" y1="242.20" x2="57.00" y2="242.20" stroke="#333" stroke-width="0.7"/>
<text x="54.50" y="243.95" font-size="4.9" text-anchor="end" font-weight="bold" fill="#222" >0</text>
<line x1="55.70" y1="233.11" x2="57.00" y2="233.11" stroke="#333" stroke-width="0.7"/>
<line x1="55.20" y1="224.02" x2="57.00" y2="224.02" stroke="#333" stroke-width="0.7"/>
<text x="54.50" y="225.77" font-size="4.9" text-anchor="end" font-weight="bold" fill="#222" >20</text>
<line x1="55.70" y1="214.93" x2="57.00" y2="214.93" stroke="#333" stroke-width="0.7"/>
<line x1="55.20" y1="205.84" x2="57.00" y2="205.84" stroke="#333" stroke-width="0.7"/>
<text x="54.50" y="207.59" font-size="4.9" text-anchor="end" font-weight="bold" fill="#222" >40</text>
<line x1="55.70" y1="196.75" x2="57.00" y2="196.75" stroke="#333" stroke-width="0.7"/>
<line x1="55.20" y1="187.66" x2="57.00" y2="187.66" stroke="#333" stroke-width="0.7"/>
<text x="54.50" y="189.41" font-size="4.9" text-anchor="end" font-weight="bold" fill="#222" >60</text>
<line x1="55.70" y1="178.57" x2="57.00" y2="178.57" stroke="#333" stroke-width="0.7"/>
<line x1="55.20" y1="169.48" x2="57.00" y2="169.48" stroke="#333" stroke-width="0.7"/>
<text x="54.50" y="171.23" font-size="4.9" text-anchor="end" font-weight="bold" fill="#222" >80</text>
<line x1="55.70" y1="160.39" x2="57.00" y2="160.39" stroke="#333" stroke-width="0.7"/>
<line x1="55.20" y1="151.30" x2="57.00" y2="151.30" stroke="#333" stroke-width="0.7"/>
<text x="54.50" y="153.05" font-size="4.9" text-anchor="end" font-weight="bold" fill="#222" >100</text>
<line x1="57.00" y1="242.20" x2="57.00" y2="244.20" stroke="#333" stroke-width="0.6"/>
<line x1="63.76" y1="242.20" x2="63.76" y2="243.60" stroke="#333" stroke-width="0.6"/>
<line x1="67.71" y1="242.20" x2="67.71" y2="243.60" stroke="#333" stroke-width="0.6"/>
<line x1="70.52" y1="242.20" x2="70.52" y2="243.60" stroke="#333" stroke-width="0.6"/>
<line x1="72.69" y1="242.20" x2="72.69" y2="243.60" stroke="#333" stroke-width="0.6"/>
<line x1="74.47" y1="242.20" x2="74.47" y2="243.60" stroke="#333" stroke-width="0.6"/>
<line x1="75.97" y1="242.20" x2="75.97" y2="243.60" stroke="#333" stroke-width="0.6"/>
<line x1="77.27" y1="242.20" x2="77.27" y2="243.60" stroke="#333" stroke-width="0.6"/>
<line x1="78.42" y1="242.20" x2="78.42" y2="243.60" stroke="#333" stroke-width="0.6"/>
<line x1="79.45" y1="242.20" x2="79.45" y2="244.20" stroke="#333" stroke-width="0.6"/>
<line x1="86.21" y1="242.20" x2="86.21" y2="243.60" stroke="#333" stroke-width="0.6"/>
<line x1="90.16" y1="242.20" x2="90.16" y2="243.60" stroke="#333" stroke-width="0.6"/>
<line x1="92.97" y1="242.20" x2="92.97" y2="243.60" stroke="#333" stroke-width="0.6"/>
<line x1="95.14" y1="242.20" x2="95.14" y2="243.60" stroke="#333" stroke-width="0.6"/>
<line x1="96.92" y1="242.20" x2="96.92" y2="243.60" stroke="#333" stroke-width="0.6"/>
<line x1="98.42" y1="242.20" x2="98.42" y2="243.60" stroke="#333" stroke-width="0.6"/>
<line x1="99.72" y1="242.20" x2="99.72" y2="243.60" stroke="#333" stroke-width="0.6"/>
<line x1="100.87" y1="242.20" x2="100.87" y2="243.60" stroke="#333" stroke-width="0.6"/>
<line x1="101.90" y1="242.20" x2="101.90" y2="244.20" stroke="#333" stroke-width="0.6"/>
<line x1="108.66" y1="242.20" x2="108.66" y2="243.60" stroke="#333" stroke-width="0.6"/>
<line x1="112.61" y1="242.20" x2="112.61" y2="243.60" stroke="#333" stroke-width="0.6"/>
<line x1="115.42" y1="242.20" x2="115.42" y2="243.60" stroke="#333" stroke-width="0.6"/>
<line x1="117.59" y1="242.20" x2="117.59" y2="243.60" stroke="#333" stroke-width="0.6"/>
<line x1="119.37" y1="242.20" x2="119.37" y2="243.60" stroke="#333" stroke-width="0.6"/>
<line x1="120.87" y1="242.20" x2="120.87" y2="243.60" stroke="#333" stroke-width="0.6"/>
<line x1="122.17" y1="242.20" x2="122.17" y2="243.60" stroke="#333" stroke-width="0.6"/>
<line x1="123.32" y1="242.20" x2="123.32" y2="243.60" stroke="#333" stroke-width="0.6"/>
<line x1="124.35" y1="242.20" x2="124.35" y2="244.20" stroke="#333" stroke-width="0.6"/>
<line x1="131.11" y1="242.20" x2="131.11" y2="243.60" stroke="#333" stroke-width="0.6"/>
<line x1="135.06" y1="242.20" x2="135.06" y2="243.60" stroke="#333" stroke-width="0.6"/>
<line x1="137.87" y1="242.20" x2="137.87" y2="243.60" stroke="#333" stroke-width="0.6"/>
<line x1="140.04" y1="242.20" x2="140.04" y2="243.60" stroke="#333" stroke-width="0.6"/>
<line x1="141.82" y1="242.20" x2="141.82" y2="243.60" stroke="#333" stroke-width="0.6"/>
<line x1="143.32" y1="242.20" x2="143.32" y2="243.60" stroke="#333" stroke-width="0.6"/>
<line x1="144.62" y1="242.20" x2="144.62" y2="243.60" stroke="#333" stroke-width="0.6"/>
<line x1="145.77" y1="242.20" x2="145.77" y2="243.60" stroke="#333" stroke-width="0.6"/>
<text x="57.60" y="249.10" font-size="4.6" font-weight="bold" text-anchor="middle" fill="#222">10<tspan font-size="3.31" dy="-2.2">0</tspan></text>
<text x="79.85" y="249.10" font-size="4.6" font-weight="bold" text-anchor="middle" fill="#222">10<tspan font-size="3.31" dy="-2.2">1</tspan></text>
<text x="102.10" y="249.10" font-size="4.6" font-weight="bold" text-anchor="middle" fill="#222">10<tspan font-size="3.31" dy="-2.2">2</tspan></text>
<text x="124.35" y="249.10" font-size="4.6" font-weight="bold" text-anchor="middle" fill="#222">10<tspan font-size="3.31" dy="-2.2">3</tspan></text>
<line x1="108.80" y1="162.60" x2="117.20" y2="162.60" stroke="#606060" stroke-width="1.1"/>
<line x1="108.80" y1="169.20" x2="117.20" y2="169.20" stroke="#a01828" stroke-width="1.1"/>
<text x="117.70" y="164.70" font-size="5.2" text-anchor="start" font-weight="bold" fill="#222" textLength="28.20" lengthAdjust="spacingAndGlyphs" >DCF&#8211;DA(&#8211;)</text>
<text x="117.70" y="171.40" font-size="5.2" text-anchor="start" font-weight="bold" fill="#222" textLength="28.20" lengthAdjust="spacingAndGlyphs" >DCF&#8211;DA(+)</text>
<polyline points="175.90,241.70 176.20,240.83 176.50,240.37 176.80,239.15 177.10,237.42 177.40,236.78 177.70,238.78 178.00,229.88 178.30,230.40 178.60,228.72 178.90,233.01 179.20,234.81 179.50,232.75 179.80,230.23 180.10,222.86 180.40,221.28 180.70,217.83 181.00,213.77 181.30,218.04 181.60,217.15 181.90,218.45 182.20,216.90 182.50,218.86 182.80,210.35 183.10,209.62 183.40,211.30 183.70,211.66 184.00,204.24 184.30,198.55 184.60,202.86 184.90,200.25 185.20,202.88 185.50,199.78 185.80,198.55 186.10,196.80 186.40,196.91 186.70,189.79 187.00,182.99 187.30,194.16 187.60,178.87 187.90,187.77 188.20,185.92 188.50,195.20 188.80,195.34 189.10,174.01 189.40,183.87 189.70,170.02 190.00,173.16 190.30,170.10 190.60,161.09 190.90,169.19 191.20,190.13 191.50,174.25 191.80,154.44 192.10,154.44 192.40,161.81 192.70,162.33 193.00,163.48 193.30,154.44 193.60,174.27 193.90,171.88 194.20,161.89 194.50,160.69 194.80,168.84 195.10,160.58 195.40,178.73 195.70,181.48 196.00,178.64 196.30,177.77 196.60,182.48 196.90,170.47 197.20,188.38 197.50,183.23 197.80,192.48 198.10,189.46 198.40,195.83 198.70,197.63 199.00,189.10 199.30,201.44 199.60,193.21 199.90,207.45 200.20,208.12 200.50,202.83 200.80,220.99 201.10,219.16 201.40,213.83 201.70,213.95 202.00,215.59 202.30,220.93 202.60,226.73 202.90,220.66 203.20,223.89 203.50,230.58 203.80,228.67 204.10,225.88 204.40,232.07 204.70,236.68 205.00,236.50 205.30,237.85 205.60,238.23 205.90,239.15 206.20,241.70 206.50,241.58 206.80,240.68 207.10,240.86 207.40,240.56 207.70,241.70 208.00,241.70 208.30,240.82 208.60,241.70 208.90,241.19 209.20,241.38 209.50,241.70" fill="none" stroke="#858585" stroke-width="0.85"/>
<polyline points="183.10,240.89 183.40,241.16 183.70,240.67 184.00,241.38 184.30,240.96 184.60,240.58 184.90,241.08 185.20,240.70 185.50,241.70 185.80,240.86 186.10,240.84 186.40,241.26 186.70,240.56 187.00,239.89 187.30,239.75 187.60,237.81 187.90,238.00 188.20,236.87 188.50,234.07 188.80,235.18 189.10,230.86 189.40,226.41 189.70,227.54 190.00,226.12 190.30,226.00 190.60,217.28 190.90,219.07 191.20,216.82 191.50,213.46 191.80,208.62 192.10,215.35 192.40,210.97 192.70,201.56 193.00,207.25 193.30,200.62 193.60,187.39 193.90,205.27 194.20,195.11 194.50,190.36 194.80,183.15 195.10,189.98 195.40,195.42 195.70,192.23 196.00,184.50 196.30,191.69 196.60,166.25 196.90,183.35 197.20,169.16 197.50,164.91 197.80,167.82 198.10,167.23 198.40,177.35 198.70,168.66 199.00,159.65 199.30,156.40 199.60,154.44 199.90,154.44 200.20,154.44 200.50,170.83 200.80,163.62 201.10,157.45 201.40,174.53 201.70,177.18 202.00,169.49 202.30,172.95 202.60,185.35 202.90,188.77 203.20,183.46 203.50,182.68 203.80,194.88 204.10,197.74 204.40,192.41 204.70,183.15 205.00,201.34 205.30,204.91 205.60,209.40 205.90,201.90 206.20,210.78 206.50,219.67 206.80,220.38 207.10,221.86 207.40,220.67 207.70,221.14 208.00,220.51 208.30,228.51 208.60,225.40 208.90,233.29 209.20,229.55 209.50,232.70 209.80,233.79 210.10,239.14 210.40,239.28 210.70,239.67 211.00,239.72 211.30,240.96 211.60,240.64 211.90,241.01 212.20,240.61 212.50,241.25 212.80,240.41 213.10,241.08 213.40,241.35 213.70,240.61 214.00,240.68 214.30,241.38 214.60,240.73 214.90,241.70 215.20,240.97 215.50,241.70 215.80,240.98" fill="none" stroke="#e01020" stroke-width="0.9"/>
<rect x="165.10" y="151.3" width="90.80" height="90.90" fill="none" stroke="#333" stroke-width="1.3"/>
<line x1="163.30" y1="242.20" x2="165.10" y2="242.20" stroke="#333" stroke-width="0.7"/>
<text x="162.60" y="243.95" font-size="4.9" text-anchor="end" font-weight="bold" fill="#222" >0</text>
<line x1="163.80" y1="233.11" x2="165.10" y2="233.11" stroke="#333" stroke-width="0.7"/>
<line x1="163.30" y1="224.02" x2="165.10" y2="224.02" stroke="#333" stroke-width="0.7"/>
<text x="162.60" y="225.77" font-size="4.9" text-anchor="end" font-weight="bold" fill="#222" >20</text>
<line x1="163.80" y1="214.93" x2="165.10" y2="214.93" stroke="#333" stroke-width="0.7"/>
<line x1="163.30" y1="205.84" x2="165.10" y2="205.84" stroke="#333" stroke-width="0.7"/>
<text x="162.60" y="207.59" font-size="4.9" text-anchor="end" font-weight="bold" fill="#222" >40</text>
<line x1="163.80" y1="196.75" x2="165.10" y2="196.75" stroke="#333" stroke-width="0.7"/>
<line x1="163.30" y1="187.66" x2="165.10" y2="187.66" stroke="#333" stroke-width="0.7"/>
<text x="162.60" y="189.41" font-size="4.9" text-anchor="end" font-weight="bold" fill="#222" >60</text>
<line x1="163.80" y1="178.57" x2="165.10" y2="178.57" stroke="#333" stroke-width="0.7"/>
<line x1="163.30" y1="169.48" x2="165.10" y2="169.48" stroke="#333" stroke-width="0.7"/>
<text x="162.60" y="171.23" font-size="4.9" text-anchor="end" font-weight="bold" fill="#222" >80</text>
<line x1="163.80" y1="160.39" x2="165.10" y2="160.39" stroke="#333" stroke-width="0.7"/>
<line x1="163.30" y1="151.30" x2="165.10" y2="151.30" stroke="#333" stroke-width="0.7"/>
<text x="162.60" y="153.05" font-size="4.9" text-anchor="end" font-weight="bold" fill="#222" >100</text>
<line x1="165.10" y1="242.20" x2="165.10" y2="244.20" stroke="#333" stroke-width="0.6"/>
<line x1="171.86" y1="242.20" x2="171.86" y2="243.60" stroke="#333" stroke-width="0.6"/>
<line x1="175.81" y1="242.20" x2="175.81" y2="243.60" stroke="#333" stroke-width="0.6"/>
<line x1="178.62" y1="242.20" x2="178.62" y2="243.60" stroke="#333" stroke-width="0.6"/>
<line x1="180.79" y1="242.20" x2="180.79" y2="243.60" stroke="#333" stroke-width="0.6"/>
<line x1="182.57" y1="242.20" x2="182.57" y2="243.60" stroke="#333" stroke-width="0.6"/>
<line x1="184.07" y1="242.20" x2="184.07" y2="243.60" stroke="#333" stroke-width="0.6"/>
<line x1="185.37" y1="242.20" x2="185.37" y2="243.60" stroke="#333" stroke-width="0.6"/>
<line x1="186.52" y1="242.20" x2="186.52" y2="243.60" stroke="#333" stroke-width="0.6"/>
<line x1="187.55" y1="242.20" x2="187.55" y2="244.20" stroke="#333" stroke-width="0.6"/>
<line x1="194.31" y1="242.20" x2="194.31" y2="243.60" stroke="#333" stroke-width="0.6"/>
<line x1="198.26" y1="242.20" x2="198.26" y2="243.60" stroke="#333" stroke-width="0.6"/>
<line x1="201.07" y1="242.20" x2="201.07" y2="243.60" stroke="#333" stroke-width="0.6"/>
<line x1="203.24" y1="242.20" x2="203.24" y2="243.60" stroke="#333" stroke-width="0.6"/>
<line x1="205.02" y1="242.20" x2="205.02" y2="243.60" stroke="#333" stroke-width="0.6"/>
<line x1="206.52" y1="242.20" x2="206.52" y2="243.60" stroke="#333" stroke-width="0.6"/>
<line x1="207.82" y1="242.20" x2="207.82" y2="243.60" stroke="#333" stroke-width="0.6"/>
<line x1="208.97" y1="242.20" x2="208.97" y2="243.60" stroke="#333" stroke-width="0.6"/>
<line x1="210.00" y1="242.20" x2="210.00" y2="244.20" stroke="#333" stroke-width="0.6"/>
<line x1="216.76" y1="242.20" x2="216.76" y2="243.60" stroke="#333" stroke-width="0.6"/>
<line x1="220.71" y1="242.20" x2="220.71" y2="243.60" stroke="#333" stroke-width="0.6"/>
<line x1="223.52" y1="242.20" x2="223.52" y2="243.60" stroke="#333" stroke-width="0.6"/>
<line x1="225.69" y1="242.20" x2="225.69" y2="243.60" stroke="#333" stroke-width="0.6"/>
<line x1="227.47" y1="242.20" x2="227.47" y2="243.60" stroke="#333" stroke-width="0.6"/>
<line x1="228.97" y1="242.20" x2="228.97" y2="243.60" stroke="#333" stroke-width="0.6"/>
<line x1="230.27" y1="242.20" x2="230.27" y2="243.60" stroke="#333" stroke-width="0.6"/>
<line x1="231.42" y1="242.20" x2="231.42" y2="243.60" stroke="#333" stroke-width="0.6"/>
<line x1="232.45" y1="242.20" x2="232.45" y2="244.20" stroke="#333" stroke-width="0.6"/>
<line x1="239.21" y1="242.20" x2="239.21" y2="243.60" stroke="#333" stroke-width="0.6"/>
<line x1="243.16" y1="242.20" x2="243.16" y2="243.60" stroke="#333" stroke-width="0.6"/>
<line x1="245.97" y1="242.20" x2="245.97" y2="243.60" stroke="#333" stroke-width="0.6"/>
<line x1="248.14" y1="242.20" x2="248.14" y2="243.60" stroke="#333" stroke-width="0.6"/>
<line x1="249.92" y1="242.20" x2="249.92" y2="243.60" stroke="#333" stroke-width="0.6"/>
<line x1="251.42" y1="242.20" x2="251.42" y2="243.60" stroke="#333" stroke-width="0.6"/>
<line x1="252.72" y1="242.20" x2="252.72" y2="243.60" stroke="#333" stroke-width="0.6"/>
<line x1="253.87" y1="242.20" x2="253.87" y2="243.60" stroke="#333" stroke-width="0.6"/>
<text x="165.70" y="249.10" font-size="4.6" font-weight="bold" text-anchor="middle" fill="#222">10<tspan font-size="3.31" dy="-2.2">0</tspan></text>
<text x="187.95" y="249.10" font-size="4.6" font-weight="bold" text-anchor="middle" fill="#222">10<tspan font-size="3.31" dy="-2.2">1</tspan></text>
<text x="210.20" y="249.10" font-size="4.6" font-weight="bold" text-anchor="middle" fill="#222">10<tspan font-size="3.31" dy="-2.2">2</tspan></text>
<text x="232.45" y="249.10" font-size="4.6" font-weight="bold" text-anchor="middle" fill="#222">10<tspan font-size="3.31" dy="-2.2">3</tspan></text>
<line x1="216.90" y1="162.60" x2="225.30" y2="162.60" stroke="#606060" stroke-width="1.1"/>
<line x1="216.90" y1="169.20" x2="225.30" y2="169.20" stroke="#a01828" stroke-width="1.1"/>
<text x="225.80" y="164.70" font-size="5.2" text-anchor="start" font-weight="bold" fill="#222" textLength="28.20" lengthAdjust="spacingAndGlyphs" >DCF&#8211;DA(&#8211;)</text>
<text x="225.80" y="171.40" font-size="5.2" text-anchor="start" font-weight="bold" fill="#222" textLength="28.20" lengthAdjust="spacingAndGlyphs" >DCF&#8211;DA(+)</text>
<polyline points="282.90,241.23 283.20,241.69 283.50,240.45 283.80,239.45 284.10,238.72 284.40,241.70 284.70,236.11 285.00,234.57 285.30,236.00 285.60,232.18 285.90,229.97 286.20,236.59 286.50,227.06 286.80,229.93 287.10,230.81 287.40,225.50 287.70,227.42 288.00,225.16 288.30,225.89 288.60,223.45 288.90,224.29 289.20,220.62 289.50,221.37 289.80,221.22 290.10,209.55 290.40,212.62 290.70,209.41 291.00,201.91 291.30,205.32 291.60,206.97 291.90,211.00 292.20,200.16 292.50,200.27 292.80,195.85 293.10,200.45 293.40,200.30 293.70,208.31 294.00,192.27 294.30,202.64 294.60,195.28 294.90,188.09 295.20,189.07 295.50,188.55 295.80,183.74 296.10,195.91 296.40,183.10 296.70,173.87 297.00,172.87 297.30,188.52 297.60,170.96 297.90,172.71 298.20,180.70 298.50,181.76 298.80,171.90 299.10,159.58 299.40,166.67 299.70,169.48 300.00,160.67 300.30,154.44 300.60,164.03 300.90,161.24 301.20,157.81 301.50,174.85 301.80,154.44 302.10,166.07 302.40,159.09 302.70,162.38 303.00,166.42 303.30,171.46 303.60,174.93 303.90,163.99 304.20,182.08 304.50,180.95 304.80,174.91 305.10,173.88 305.40,181.21 305.70,186.48 306.00,180.83 306.30,189.54 306.60,176.96 306.90,183.38 307.20,182.33 307.50,200.45 307.80,199.67 308.10,200.45 308.40,207.44 308.70,205.52 309.00,199.97 309.30,211.53 309.60,209.86 309.90,203.43 310.20,210.79 310.50,211.81 310.80,215.74 311.10,220.14 311.40,220.80 311.70,220.15 312.00,224.95 312.30,224.42 312.60,227.72 312.90,228.20 313.20,225.08 313.50,229.52 313.80,235.95 314.10,234.70 314.40,232.07 314.70,234.03 315.00,240.28 315.30,239.37 315.60,240.99 315.90,241.70 316.20,241.15 316.50,240.29 316.80,241.70 317.10,241.50 317.40,240.90 317.70,241.59 318.00,241.60" fill="none" stroke="#858585" stroke-width="0.85"/>
<polyline points="291.00,241.70 291.30,241.36 291.60,241.31 291.90,241.51 292.20,241.56 292.50,241.02 292.80,241.62 293.10,241.70 293.40,241.46 293.70,240.74 294.00,241.70 294.30,240.90 294.60,240.10 294.90,239.40 295.20,237.41 295.50,238.33 295.80,235.04 296.10,230.17 296.40,232.28 296.70,233.51 297.00,224.57 297.30,231.44 297.60,220.09 297.90,223.48 298.20,219.84 298.50,218.99 298.80,218.47 299.10,212.36 299.40,215.28 299.70,216.70 300.00,211.08 300.30,217.53 300.60,208.23 300.90,214.35 301.20,203.63 301.50,198.07 301.80,196.49 302.10,198.70 302.40,210.89 302.70,196.68 303.00,184.65 303.30,193.65 303.60,184.73 303.90,189.99 304.20,174.08 304.50,195.15 304.80,183.13 305.10,177.41 305.40,173.10 305.70,176.91 306.00,173.07 306.30,187.15 306.60,154.44 306.90,164.70 307.20,165.55 307.50,154.44 307.80,166.52 308.10,156.09 308.40,154.44 308.70,163.09 309.00,168.65 309.30,166.61 309.60,179.90 309.90,165.65 310.20,182.42 310.50,168.25 310.80,171.16 311.10,178.25 311.40,192.18 311.70,177.27 312.00,178.87 312.30,191.07 312.60,188.39 312.90,186.46 313.20,184.65 313.50,192.47 313.80,196.55 314.10,196.18 314.40,200.16 314.70,186.43 315.00,187.69 315.30,209.95 315.60,202.56 315.90,193.90 316.20,196.27 316.50,195.01 316.80,200.03 317.10,205.32 317.40,207.48 317.70,203.91 318.00,209.63 318.30,220.18 318.60,213.69 318.90,223.07 319.20,213.66 319.50,217.00 319.80,220.15 320.10,219.90 320.40,228.41 320.70,225.26 321.00,226.75 321.30,225.68 321.60,227.88 321.90,227.92 322.20,229.02 322.50,234.58 322.80,235.14 323.10,230.49 323.40,236.18 323.70,235.76 324.00,235.00 324.30,238.10 324.60,235.43 324.90,240.64 325.20,241.00 325.50,241.70 325.80,241.12" fill="none" stroke="#e01020" stroke-width="0.9"/>
<rect x="272.10" y="151.3" width="91.10" height="90.90" fill="none" stroke="#333" stroke-width="1.3"/>
<line x1="270.30" y1="242.20" x2="272.10" y2="242.20" stroke="#333" stroke-width="0.7"/>
<text x="269.60" y="243.95" font-size="4.9" text-anchor="end" font-weight="bold" fill="#222" >0</text>
<line x1="270.80" y1="233.11" x2="272.10" y2="233.11" stroke="#333" stroke-width="0.7"/>
<line x1="270.30" y1="224.02" x2="272.10" y2="224.02" stroke="#333" stroke-width="0.7"/>
<text x="269.60" y="225.77" font-size="4.9" text-anchor="end" font-weight="bold" fill="#222" >20</text>
<line x1="270.80" y1="214.93" x2="272.10" y2="214.93" stroke="#333" stroke-width="0.7"/>
<line x1="270.30" y1="205.84" x2="272.10" y2="205.84" stroke="#333" stroke-width="0.7"/>
<text x="269.60" y="207.59" font-size="4.9" text-anchor="end" font-weight="bold" fill="#222" >40</text>
<line x1="270.80" y1="196.75" x2="272.10" y2="196.75" stroke="#333" stroke-width="0.7"/>
<line x1="270.30" y1="187.66" x2="272.10" y2="187.66" stroke="#333" stroke-width="0.7"/>
<text x="269.60" y="189.41" font-size="4.9" text-anchor="end" font-weight="bold" fill="#222" >60</text>
<line x1="270.80" y1="178.57" x2="272.10" y2="178.57" stroke="#333" stroke-width="0.7"/>
<line x1="270.30" y1="169.48" x2="272.10" y2="169.48" stroke="#333" stroke-width="0.7"/>
<text x="269.60" y="171.23" font-size="4.9" text-anchor="end" font-weight="bold" fill="#222" >80</text>
<line x1="270.80" y1="160.39" x2="272.10" y2="160.39" stroke="#333" stroke-width="0.7"/>
<line x1="270.30" y1="151.30" x2="272.10" y2="151.30" stroke="#333" stroke-width="0.7"/>
<text x="269.60" y="153.05" font-size="4.9" text-anchor="end" font-weight="bold" fill="#222" >100</text>
<line x1="272.10" y1="242.20" x2="272.10" y2="244.20" stroke="#333" stroke-width="0.6"/>
<line x1="278.86" y1="242.20" x2="278.86" y2="243.60" stroke="#333" stroke-width="0.6"/>
<line x1="282.81" y1="242.20" x2="282.81" y2="243.60" stroke="#333" stroke-width="0.6"/>
<line x1="285.62" y1="242.20" x2="285.62" y2="243.60" stroke="#333" stroke-width="0.6"/>
<line x1="287.79" y1="242.20" x2="287.79" y2="243.60" stroke="#333" stroke-width="0.6"/>
<line x1="289.57" y1="242.20" x2="289.57" y2="243.60" stroke="#333" stroke-width="0.6"/>
<line x1="291.07" y1="242.20" x2="291.07" y2="243.60" stroke="#333" stroke-width="0.6"/>
<line x1="292.37" y1="242.20" x2="292.37" y2="243.60" stroke="#333" stroke-width="0.6"/>
<line x1="293.52" y1="242.20" x2="293.52" y2="243.60" stroke="#333" stroke-width="0.6"/>
<line x1="294.55" y1="242.20" x2="294.55" y2="244.20" stroke="#333" stroke-width="0.6"/>
<line x1="301.31" y1="242.20" x2="301.31" y2="243.60" stroke="#333" stroke-width="0.6"/>
<line x1="305.26" y1="242.20" x2="305.26" y2="243.60" stroke="#333" stroke-width="0.6"/>
<line x1="308.07" y1="242.20" x2="308.07" y2="243.60" stroke="#333" stroke-width="0.6"/>
<line x1="310.24" y1="242.20" x2="310.24" y2="243.60" stroke="#333" stroke-width="0.6"/>
<line x1="312.02" y1="242.20" x2="312.02" y2="243.60" stroke="#333" stroke-width="0.6"/>
<line x1="313.52" y1="242.20" x2="313.52" y2="243.60" stroke="#333" stroke-width="0.6"/>
<line x1="314.82" y1="242.20" x2="314.82" y2="243.60" stroke="#333" stroke-width="0.6"/>
<line x1="315.97" y1="242.20" x2="315.97" y2="243.60" stroke="#333" stroke-width="0.6"/>
<line x1="317.00" y1="242.20" x2="317.00" y2="244.20" stroke="#333" stroke-width="0.6"/>
<line x1="323.76" y1="242.20" x2="323.76" y2="243.60" stroke="#333" stroke-width="0.6"/>
<line x1="327.71" y1="242.20" x2="327.71" y2="243.60" stroke="#333" stroke-width="0.6"/>
<line x1="330.52" y1="242.20" x2="330.52" y2="243.60" stroke="#333" stroke-width="0.6"/>
<line x1="332.69" y1="242.20" x2="332.69" y2="243.60" stroke="#333" stroke-width="0.6"/>
<line x1="334.47" y1="242.20" x2="334.47" y2="243.60" stroke="#333" stroke-width="0.6"/>
<line x1="335.97" y1="242.20" x2="335.97" y2="243.60" stroke="#333" stroke-width="0.6"/>
<line x1="337.27" y1="242.20" x2="337.27" y2="243.60" stroke="#333" stroke-width="0.6"/>
<line x1="338.42" y1="242.20" x2="338.42" y2="243.60" stroke="#333" stroke-width="0.6"/>
<line x1="339.45" y1="242.20" x2="339.45" y2="244.20" stroke="#333" stroke-width="0.6"/>
<line x1="346.21" y1="242.20" x2="346.21" y2="243.60" stroke="#333" stroke-width="0.6"/>
<line x1="350.16" y1="242.20" x2="350.16" y2="243.60" stroke="#333" stroke-width="0.6"/>
<line x1="352.97" y1="242.20" x2="352.97" y2="243.60" stroke="#333" stroke-width="0.6"/>
<line x1="355.14" y1="242.20" x2="355.14" y2="243.60" stroke="#333" stroke-width="0.6"/>
<line x1="356.92" y1="242.20" x2="356.92" y2="243.60" stroke="#333" stroke-width="0.6"/>
<line x1="358.42" y1="242.20" x2="358.42" y2="243.60" stroke="#333" stroke-width="0.6"/>
<line x1="359.72" y1="242.20" x2="359.72" y2="243.60" stroke="#333" stroke-width="0.6"/>
<line x1="360.87" y1="242.20" x2="360.87" y2="243.60" stroke="#333" stroke-width="0.6"/>
<text x="272.70" y="249.10" font-size="4.6" font-weight="bold" text-anchor="middle" fill="#222">10<tspan font-size="3.31" dy="-2.2">0</tspan></text>
<text x="294.95" y="249.10" font-size="4.6" font-weight="bold" text-anchor="middle" fill="#222">10<tspan font-size="3.31" dy="-2.2">1</tspan></text>
<text x="317.20" y="249.10" font-size="4.6" font-weight="bold" text-anchor="middle" fill="#222">10<tspan font-size="3.31" dy="-2.2">2</tspan></text>
<text x="339.45" y="249.10" font-size="4.6" font-weight="bold" text-anchor="middle" fill="#222">10<tspan font-size="3.31" dy="-2.2">3</tspan></text>
<line x1="323.90" y1="162.60" x2="332.30" y2="162.60" stroke="#606060" stroke-width="1.1"/>
<line x1="323.90" y1="169.20" x2="332.30" y2="169.20" stroke="#a01828" stroke-width="1.1"/>
<text x="332.80" y="164.70" font-size="5.2" text-anchor="start" font-weight="bold" fill="#222" textLength="28.20" lengthAdjust="spacingAndGlyphs" >DCF&#8211;DA(&#8211;)</text>
<text x="332.80" y="171.40" font-size="5.2" text-anchor="start" font-weight="bold" fill="#222" textLength="28.20" lengthAdjust="spacingAndGlyphs" >DCF&#8211;DA(+)</text>
<polyline points="386.50,241.47 386.80,241.32 387.10,241.35 387.40,241.20 387.70,239.73 388.00,239.37 388.30,237.43 388.60,235.78 388.90,236.37 389.20,232.65 389.50,236.47 389.80,232.86 390.10,231.31 390.40,235.62 390.70,227.89 391.00,226.42 391.30,222.15 391.60,226.39 391.90,223.10 392.20,221.72 392.50,228.48 392.80,220.49 393.10,225.74 393.40,218.08 393.70,215.11 394.00,215.65 394.30,223.98 394.60,208.12 394.90,211.73 395.20,207.38 395.50,213.61 395.80,211.05 396.10,198.24 396.40,207.64 396.70,207.50 397.00,205.96 397.30,197.80 397.60,209.55 397.90,201.86 398.20,203.56 398.50,184.15 398.80,190.33 399.10,194.31 399.40,192.22 399.70,193.46 400.00,193.34 400.30,190.41 400.60,177.62 400.90,188.45 401.20,186.94 401.50,182.03 401.80,173.36 402.10,178.12 402.40,186.47 402.70,177.91 403.00,176.75 403.30,184.15 403.60,178.96 403.90,170.28 404.20,174.08 404.50,155.93 404.80,161.32 405.10,169.83 405.40,168.86 405.70,167.82 406.00,170.39 406.30,157.28 406.60,156.67 406.90,167.70 407.20,170.69 407.50,158.08 407.80,167.04 408.10,166.15 408.40,156.06 408.70,167.35 409.00,175.78 409.30,174.23 409.60,168.18 409.90,181.70 410.20,187.02 410.50,180.68 410.80,173.11 411.10,182.90 411.40,177.85 411.70,181.84 412.00,197.34 412.30,192.48 412.60,195.32 412.90,196.62 413.20,192.07 413.50,193.15 413.80,198.56 414.10,198.18 414.40,208.86 414.70,203.99 415.00,214.43 415.30,212.97 415.60,218.55 415.90,209.91 416.20,218.47 416.50,215.53 416.80,225.05 417.10,221.08 417.40,220.80 417.70,224.93 418.00,226.29 418.30,228.05 418.60,230.25 418.90,232.59 419.20,235.17 419.50,232.54 419.80,236.15 420.10,237.45 420.40,238.49 420.70,241.38 421.00,241.70 421.30,241.70 421.60,240.34 421.90,241.40 422.20,240.93 422.50,241.70 422.80,241.49 423.10,241.28 423.40,241.60" fill="none" stroke="#858585" stroke-width="0.85"/>
<polyline points="405.40,241.70 405.70,240.94 406.00,241.30 406.30,241.20 406.60,240.75 406.90,241.26 407.20,241.02 407.50,241.66 407.80,241.70 408.10,241.08 408.40,239.59 408.70,235.11 409.00,235.71 409.30,235.29 409.60,236.15 409.90,232.64 410.20,226.55 410.50,226.69 410.80,227.73 411.10,227.15 411.40,222.86 411.70,223.71 412.00,218.98 412.30,217.46 412.60,215.32 412.90,220.40 413.20,221.13 413.50,208.04 413.80,218.12 414.10,216.11 414.40,210.97 414.70,206.30 415.00,207.74 415.30,199.84 415.60,210.36 415.90,208.84 416.20,204.41 416.50,195.66 416.80,194.65 417.10,198.11 417.40,189.55 417.70,190.94 418.00,191.91 418.30,193.18 418.60,185.24 418.90,189.06 419.20,183.61 419.50,187.78 419.80,184.85 420.10,178.54 420.40,178.36 420.70,173.75 421.00,168.80 421.30,171.33 421.60,167.04 421.90,174.27 422.20,156.28 422.50,177.53 422.80,161.58 423.10,161.21 423.40,164.21 423.70,170.21 424.00,168.88 424.30,171.19 424.60,179.79 424.90,180.60 425.20,178.99 425.50,184.38 425.80,188.42 426.10,188.29 426.40,190.44 426.70,185.20 427.00,199.45 427.30,200.06 427.60,194.21 427.90,202.59 428.20,206.45 428.50,202.97 428.80,201.92 429.10,201.19 429.40,213.44 429.70,212.23 430.00,211.12 430.30,211.93 430.60,212.09 430.90,214.83 431.20,218.55 431.50,223.85 431.80,221.92 432.10,215.93 432.40,218.58 432.70,223.14 433.00,229.62 433.30,229.25 433.60,226.48 433.90,235.07 434.20,234.42 434.50,232.43 434.80,238.94 435.10,234.56 435.40,238.09 435.70,234.93 436.00,239.47 436.30,239.90 436.60,241.11 436.90,240.52 437.20,241.41 437.50,241.13 437.80,241.63 438.10,241.70 438.40,241.43" fill="none" stroke="#e01020" stroke-width="0.9"/>
<rect x="376.60" y="151.3" width="91.00" height="90.90" fill="none" stroke="#333" stroke-width="1.3"/>
<line x1="374.80" y1="242.20" x2="376.60" y2="242.20" stroke="#333" stroke-width="0.7"/>
<text x="374.10" y="243.95" font-size="4.9" text-anchor="end" font-weight="bold" fill="#222" >0</text>
<line x1="375.30" y1="233.11" x2="376.60" y2="233.11" stroke="#333" stroke-width="0.7"/>
<line x1="374.80" y1="224.02" x2="376.60" y2="224.02" stroke="#333" stroke-width="0.7"/>
<text x="374.10" y="225.77" font-size="4.9" text-anchor="end" font-weight="bold" fill="#222" >20</text>
<line x1="375.30" y1="214.93" x2="376.60" y2="214.93" stroke="#333" stroke-width="0.7"/>
<line x1="374.80" y1="205.84" x2="376.60" y2="205.84" stroke="#333" stroke-width="0.7"/>
<text x="374.10" y="207.59" font-size="4.9" text-anchor="end" font-weight="bold" fill="#222" >40</text>
<line x1="375.30" y1="196.75" x2="376.60" y2="196.75" stroke="#333" stroke-width="0.7"/>
<line x1="374.80" y1="187.66" x2="376.60" y2="187.66" stroke="#333" stroke-width="0.7"/>
<text x="374.10" y="189.41" font-size="4.9" text-anchor="end" font-weight="bold" fill="#222" >60</text>
<line x1="375.30" y1="178.57" x2="376.60" y2="178.57" stroke="#333" stroke-width="0.7"/>
<line x1="374.80" y1="169.48" x2="376.60" y2="169.48" stroke="#333" stroke-width="0.7"/>
<text x="374.10" y="171.23" font-size="4.9" text-anchor="end" font-weight="bold" fill="#222" >80</text>
<line x1="375.30" y1="160.39" x2="376.60" y2="160.39" stroke="#333" stroke-width="0.7"/>
<line x1="374.80" y1="151.30" x2="376.60" y2="151.30" stroke="#333" stroke-width="0.7"/>
<text x="374.10" y="153.05" font-size="4.9" text-anchor="end" font-weight="bold" fill="#222" >100</text>
<line x1="376.60" y1="242.20" x2="376.60" y2="244.20" stroke="#333" stroke-width="0.6"/>
<line x1="383.36" y1="242.20" x2="383.36" y2="243.60" stroke="#333" stroke-width="0.6"/>
<line x1="387.31" y1="242.20" x2="387.31" y2="243.60" stroke="#333" stroke-width="0.6"/>
<line x1="390.12" y1="242.20" x2="390.12" y2="243.60" stroke="#333" stroke-width="0.6"/>
<line x1="392.29" y1="242.20" x2="392.29" y2="243.60" stroke="#333" stroke-width="0.6"/>
<line x1="394.07" y1="242.20" x2="394.07" y2="243.60" stroke="#333" stroke-width="0.6"/>
<line x1="395.57" y1="242.20" x2="395.57" y2="243.60" stroke="#333" stroke-width="0.6"/>
<line x1="396.87" y1="242.20" x2="396.87" y2="243.60" stroke="#333" stroke-width="0.6"/>
<line x1="398.02" y1="242.20" x2="398.02" y2="243.60" stroke="#333" stroke-width="0.6"/>
<line x1="399.05" y1="242.20" x2="399.05" y2="244.20" stroke="#333" stroke-width="0.6"/>
<line x1="405.81" y1="242.20" x2="405.81" y2="243.60" stroke="#333" stroke-width="0.6"/>
<line x1="409.76" y1="242.20" x2="409.76" y2="243.60" stroke="#333" stroke-width="0.6"/>
<line x1="412.57" y1="242.20" x2="412.57" y2="243.60" stroke="#333" stroke-width="0.6"/>
<line x1="414.74" y1="242.20" x2="414.74" y2="243.60" stroke="#333" stroke-width="0.6"/>
<line x1="416.52" y1="242.20" x2="416.52" y2="243.60" stroke="#333" stroke-width="0.6"/>
<line x1="418.02" y1="242.20" x2="418.02" y2="243.60" stroke="#333" stroke-width="0.6"/>
<line x1="419.32" y1="242.20" x2="419.32" y2="243.60" stroke="#333" stroke-width="0.6"/>
<line x1="420.47" y1="242.20" x2="420.47" y2="243.60" stroke="#333" stroke-width="0.6"/>
<line x1="421.50" y1="242.20" x2="421.50" y2="244.20" stroke="#333" stroke-width="0.6"/>
<line x1="428.26" y1="242.20" x2="428.26" y2="243.60" stroke="#333" stroke-width="0.6"/>
<line x1="432.21" y1="242.20" x2="432.21" y2="243.60" stroke="#333" stroke-width="0.6"/>
<line x1="435.02" y1="242.20" x2="435.02" y2="243.60" stroke="#333" stroke-width="0.6"/>
<line x1="437.19" y1="242.20" x2="437.19" y2="243.60" stroke="#333" stroke-width="0.6"/>
<line x1="438.97" y1="242.20" x2="438.97" y2="243.60" stroke="#333" stroke-width="0.6"/>
<line x1="440.47" y1="242.20" x2="440.47" y2="243.60" stroke="#333" stroke-width="0.6"/>
<line x1="441.77" y1="242.20" x2="441.77" y2="243.60" stroke="#333" stroke-width="0.6"/>
<line x1="442.92" y1="242.20" x2="442.92" y2="243.60" stroke="#333" stroke-width="0.6"/>
<line x1="443.95" y1="242.20" x2="443.95" y2="244.20" stroke="#333" stroke-width="0.6"/>
<line x1="450.71" y1="242.20" x2="450.71" y2="243.60" stroke="#333" stroke-width="0.6"/>
<line x1="454.66" y1="242.20" x2="454.66" y2="243.60" stroke="#333" stroke-width="0.6"/>
<line x1="457.47" y1="242.20" x2="457.47" y2="243.60" stroke="#333" stroke-width="0.6"/>
<line x1="459.64" y1="242.20" x2="459.64" y2="243.60" stroke="#333" stroke-width="0.6"/>
<line x1="461.42" y1="242.20" x2="461.42" y2="243.60" stroke="#333" stroke-width="0.6"/>
<line x1="462.92" y1="242.20" x2="462.92" y2="243.60" stroke="#333" stroke-width="0.6"/>
<line x1="464.22" y1="242.20" x2="464.22" y2="243.60" stroke="#333" stroke-width="0.6"/>
<line x1="465.37" y1="242.20" x2="465.37" y2="243.60" stroke="#333" stroke-width="0.6"/>
<text x="377.20" y="249.10" font-size="4.6" font-weight="bold" text-anchor="middle" fill="#222">10<tspan font-size="3.31" dy="-2.2">0</tspan></text>
<text x="399.45" y="249.10" font-size="4.6" font-weight="bold" text-anchor="middle" fill="#222">10<tspan font-size="3.31" dy="-2.2">1</tspan></text>
<text x="421.70" y="249.10" font-size="4.6" font-weight="bold" text-anchor="middle" fill="#222">10<tspan font-size="3.31" dy="-2.2">2</tspan></text>
<text x="443.95" y="249.10" font-size="4.6" font-weight="bold" text-anchor="middle" fill="#222">10<tspan font-size="3.31" dy="-2.2">3</tspan></text>
<line x1="428.40" y1="162.60" x2="436.80" y2="162.60" stroke="#606060" stroke-width="1.1"/>
<line x1="428.40" y1="169.20" x2="436.80" y2="169.20" stroke="#a01828" stroke-width="1.1"/>
<text x="437.30" y="164.70" font-size="5.2" text-anchor="start" font-weight="bold" fill="#222" textLength="28.20" lengthAdjust="spacingAndGlyphs" >DCF&#8211;DA(&#8211;)</text>
<text x="437.30" y="171.40" font-size="5.2" text-anchor="start" font-weight="bold" fill="#222" textLength="28.20" lengthAdjust="spacingAndGlyphs" >DCF&#8211;DA(+)</text>
<line x1="41.00" y1="220.00" x2="41.00" y2="256.40" stroke="#333" stroke-width="1.0"/>
<line x1="41.00" y1="256.40" x2="77.50" y2="256.40" stroke="#333" stroke-width="1.0"/>
<path d="M38.8 223.0 L41.0 219.4 L43.2 223.0 L41.0 221.7 Z" fill="#222" stroke="#222" stroke-width="0.5" stroke-linejoin="round"/>
<path d="M74.5 254.2 L78.1 256.4 L74.5 258.6 L75.8 256.4 Z" fill="#222" stroke="#222" stroke-width="0.5" stroke-linejoin="round"/>
<text x="0" y="0" font-size="8" font-weight="bold" fill="#111" text-anchor="middle" textLength="39.80" lengthAdjust="spacingAndGlyphs" transform="translate(43.60 192.20) rotate(-90)">Cell counts</text>
<text x="102.50" y="259.60" font-size="8.2" text-anchor="middle" font-weight="bold" fill="#111" textLength="30.80" lengthAdjust="spacingAndGlyphs" >DCF&#8211;DA</text>
<text x="0.20" y="270.70" font-size="11.0" text-anchor="start" font-weight="bold" fill="#111" >B</text>
<line x1="38.45" y1="293.60" x2="38.45" y2="280.90" stroke="#555" stroke-width="1.0"/>
<path d="M36.45 279.50H40.45L39.05 281.70H37.85Z" fill="#444"/>
<rect x="34.10" y="294.10" width="8.70" height="67.10" fill="#fff" stroke="#4a4a4a" stroke-width="1.0"/>
<line x1="48.00" y1="289.10" x2="48.00" y2="282.20" stroke="#555" stroke-width="1.0"/>
<path d="M46.00 280.80H50.00L48.60 283.00H47.40Z" fill="#444"/>
<rect x="43.30" y="289.10" width="9.40" height="72.10" fill="#000"/>
<line x1="70.40" y1="291.20" x2="70.40" y2="281.60" stroke="#555" stroke-width="1.0"/>
<path d="M68.40 280.20H72.40L71.00 282.40H69.80Z" fill="#444"/>
<rect x="66.10" y="291.70" width="8.60" height="69.50" fill="#fff" stroke="#4a4a4a" stroke-width="1.0"/>
<line x1="79.70" y1="297.90" x2="79.70" y2="283.10" stroke="#555" stroke-width="1.0"/>
<path d="M77.70 281.70H81.70L80.30 283.90H79.10Z" fill="#444"/>
<rect x="75.20" y="297.90" width="9.00" height="63.30" fill="#000"/>
<line x1="102.00" y1="300.20" x2="102.00" y2="289.80" stroke="#555" stroke-width="1.0"/>
<path d="M100.00 288.40H104.00L102.60 290.60H101.40Z" fill="#444"/>
<rect x="97.80" y="300.70" width="8.40" height="60.50" fill="#fff" stroke="#4a4a4a" stroke-width="1.0"/>
<line x1="111.20" y1="290.00" x2="111.20" y2="285.80" stroke="#555" stroke-width="1.0"/>
<path d="M109.20 284.40H113.20L111.80 286.60H110.60Z" fill="#444"/>
<rect x="106.70" y="290.00" width="9.00" height="71.20" fill="#000"/>
<line x1="133.30" y1="306.60" x2="133.30" y2="287.70" stroke="#555" stroke-width="1.0"/>
<path d="M131.30 286.30H135.30L133.90 288.50H132.70Z" fill="#444"/>
<rect x="129.10" y="307.10" width="8.40" height="54.10" fill="#fff" stroke="#4a4a4a" stroke-width="1.0"/>
<line x1="142.55" y1="305.80" x2="142.55" y2="292.00" stroke="#555" stroke-width="1.0"/>
<path d="M140.55 290.60H144.55L143.15 292.80H141.95Z" fill="#444"/>
<rect x="138.00" y="305.80" width="9.10" height="55.40" fill="#000"/>
<line x1="27.20" y1="277.90" x2="27.20" y2="361.20" stroke="#444" stroke-width="1.0"/>
<line x1="26.20" y1="361.20" x2="154.05" y2="361.20" stroke="#444" stroke-width="1.0"/>
<line x1="154.05" y1="360.70" x2="154.05" y2="363.00" stroke="#444" stroke-width="0.8"/>
<line x1="25.00" y1="361.20" x2="27.20" y2="361.20" stroke="#444" stroke-width="0.8"/>
<text x="24.30" y="363.20" font-size="5.9" text-anchor="end" font-weight="bold" fill="#111" >0</text>
<line x1="25.00" y1="344.54" x2="27.20" y2="344.54" stroke="#444" stroke-width="0.8"/>
<text x="24.30" y="346.54" font-size="5.9" text-anchor="end" font-weight="bold" fill="#111" >1</text>
<line x1="25.00" y1="327.88" x2="27.20" y2="327.88" stroke="#444" stroke-width="0.8"/>
<text x="24.30" y="329.88" font-size="5.9" text-anchor="end" font-weight="bold" fill="#111" >2</text>
<line x1="25.00" y1="311.22" x2="27.20" y2="311.22" stroke="#444" stroke-width="0.8"/>
<text x="24.30" y="313.22" font-size="5.9" text-anchor="end" font-weight="bold" fill="#111" >3</text>
<line x1="25.00" y1="294.56" x2="27.20" y2="294.56" stroke="#444" stroke-width="0.8"/>
<text x="24.30" y="296.56" font-size="5.9" text-anchor="end" font-weight="bold" fill="#111" >4</text>
<line x1="25.00" y1="277.90" x2="27.20" y2="277.90" stroke="#444" stroke-width="0.8"/>
<text x="24.30" y="279.90" font-size="5.9" text-anchor="end" font-weight="bold" fill="#111" >5</text>
<line x1="59.15" y1="361.20" x2="59.15" y2="363.00" stroke="#444" stroke-width="0.8"/>
<line x1="90.75" y1="361.20" x2="90.75" y2="363.00" stroke="#444" stroke-width="0.8"/>
<line x1="122.15" y1="361.20" x2="122.15" y2="363.00" stroke="#444" stroke-width="0.8"/>
<text x="43.00" y="370.80" font-size="5.3" text-anchor="middle" font-weight="bold" fill="#111" >0</text>
<text x="74.90" y="370.80" font-size="5.3" text-anchor="middle" font-weight="bold" fill="#111" >0.5</text>
<text x="106.40" y="370.80" font-size="5.3" text-anchor="middle" font-weight="bold" fill="#111" >1</text>
<text x="137.70" y="370.80" font-size="5.3" text-anchor="middle" font-weight="bold" fill="#111" >2</text>
<text x="148.05" y="370.80" font-size="5.3" text-anchor="start" font-weight="bold" fill="#111" textLength="12.00" lengthAdjust="spacingAndGlyphs" >(&#181;M)</text>
<text x="0.30" y="370.80" font-size="5.3" text-anchor="start" font-weight="bold" fill="#111" textLength="23.80" lengthAdjust="spacingAndGlyphs" >MKT&#8211;077</text>
<rect x="116.70" y="268.00" width="3.4" height="3.3" fill="#fff" stroke="#222" stroke-width="1.0"/>
<rect x="116.20" y="275.30" width="4.4" height="4.3" fill="#000"/>
<text x="122.30" y="271.80" font-size="5.8" text-anchor="start" font-weight="bold" fill="#111" textLength="21.20" lengthAdjust="spacingAndGlyphs" >NAC (&#8211;)</text>
<text x="122.30" y="279.70" font-size="5.8" text-anchor="start" font-weight="bold" fill="#111" textLength="21.20" lengthAdjust="spacingAndGlyphs" >NAC (+)</text>
<text x="0" y="0" font-size="6.5" font-weight="bold" fill="#111" text-anchor="middle" textLength="77.50" lengthAdjust="spacingAndGlyphs" transform="translate(13.60 319.25) rotate(-90)">Absolute Cell number (x10<tspan font-size="4.6" dy="-2.2">5</tspan><tspan dy="2.2">)</tspan></text>
<line x1="38.45" y1="421.80" x2="38.45" y2="412.20" stroke="#555" stroke-width="1.0"/>
<path d="M36.45 410.80H40.45L39.05 413.00H37.85Z" fill="#444"/>
<rect x="34.10" y="422.30" width="8.70" height="57.30" fill="#fff" stroke="#4a4a4a" stroke-width="1.0"/>
<line x1="48.00" y1="419.80" x2="48.00" y2="408.30" stroke="#555" stroke-width="1.0"/>
<path d="M46.00 406.90H50.00L48.60 409.10H47.40Z" fill="#444"/>
<rect x="43.30" y="419.80" width="9.40" height="59.80" fill="#000"/>
<line x1="70.40" y1="433.30" x2="70.40" y2="431.20" stroke="#555" stroke-width="1.0"/>
<path d="M68.40 429.80H72.40L71.00 432.00H69.80Z" fill="#444"/>
<rect x="66.10" y="433.80" width="8.60" height="45.80" fill="#fff" stroke="#4a4a4a" stroke-width="1.0"/>
<line x1="79.70" y1="439.80" x2="79.70" y2="430.90" stroke="#555" stroke-width="1.0"/>
<path d="M77.70 429.50H81.70L80.30 431.70H79.10Z" fill="#444"/>
<rect x="75.20" y="439.80" width="9.00" height="39.80" fill="#000"/>
<line x1="102.00" y1="464.10" x2="102.00" y2="459.70" stroke="#555" stroke-width="1.0"/>
<path d="M100.00 458.30H104.00L102.60 460.50H101.40Z" fill="#444"/>
<rect x="97.80" y="464.60" width="8.40" height="15.00" fill="#fff" stroke="#4a4a4a" stroke-width="1.0"/>
<line x1="111.20" y1="456.60" x2="111.20" y2="451.40" stroke="#555" stroke-width="1.0"/>
<path d="M109.20 450.00H113.20L111.80 452.20H110.60Z" fill="#444"/>
<rect x="106.70" y="456.60" width="9.00" height="23.00" fill="#000"/>
<line x1="133.30" y1="468.50" x2="133.30" y2="464.60" stroke="#555" stroke-width="1.0"/>
<path d="M131.30 463.20H135.30L133.90 465.40H132.70Z" fill="#444"/>
<rect x="129.10" y="469.00" width="8.40" height="10.60" fill="#fff" stroke="#4a4a4a" stroke-width="1.0"/>
<line x1="142.55" y1="458.80" x2="142.55" y2="451.40" stroke="#555" stroke-width="1.0"/>
<path d="M140.55 450.00H144.55L143.15 452.20H141.95Z" fill="#444"/>
<rect x="138.00" y="458.80" width="9.10" height="20.80" fill="#000"/>
<line x1="27.20" y1="396.30" x2="27.20" y2="479.60" stroke="#444" stroke-width="1.0"/>
<line x1="26.20" y1="479.60" x2="154.05" y2="479.60" stroke="#444" stroke-width="1.0"/>
<line x1="154.05" y1="479.10" x2="154.05" y2="481.40" stroke="#444" stroke-width="0.8"/>
<line x1="25.00" y1="479.60" x2="27.20" y2="479.60" stroke="#444" stroke-width="0.8"/>
<text x="24.30" y="481.60" font-size="5.9" text-anchor="end" font-weight="bold" fill="#111" >0</text>
<line x1="25.00" y1="467.70" x2="27.20" y2="467.70" stroke="#444" stroke-width="0.8"/>
<text x="24.30" y="469.70" font-size="5.9" text-anchor="end" font-weight="bold" fill="#111" >2</text>
<line x1="25.00" y1="455.80" x2="27.20" y2="455.80" stroke="#444" stroke-width="0.8"/>
<text x="24.30" y="457.80" font-size="5.9" text-anchor="end" font-weight="bold" fill="#111" >4</text>
<line x1="25.00" y1="443.90" x2="27.20" y2="443.90" stroke="#444" stroke-width="0.8"/>
<text x="24.30" y="445.90" font-size="5.9" text-anchor="end" font-weight="bold" fill="#111" >6</text>
<line x1="25.00" y1="432.00" x2="27.20" y2="432.00" stroke="#444" stroke-width="0.8"/>
<text x="24.30" y="434.00" font-size="5.9" text-anchor="end" font-weight="bold" fill="#111" >8</text>
<line x1="25.00" y1="420.10" x2="27.20" y2="420.10" stroke="#444" stroke-width="0.8"/>
<text x="24.30" y="422.10" font-size="5.9" text-anchor="end" font-weight="bold" fill="#111" >10</text>
<line x1="25.00" y1="408.20" x2="27.20" y2="408.20" stroke="#444" stroke-width="0.8"/>
<text x="24.30" y="410.20" font-size="5.9" text-anchor="end" font-weight="bold" fill="#111" >12</text>
<line x1="25.00" y1="396.30" x2="27.20" y2="396.30" stroke="#444" stroke-width="0.8"/>
<text x="24.30" y="398.30" font-size="5.9" text-anchor="end" font-weight="bold" fill="#111" >14</text>
<line x1="59.15" y1="479.60" x2="59.15" y2="481.40" stroke="#444" stroke-width="0.8"/>
<line x1="90.75" y1="479.60" x2="90.75" y2="481.40" stroke="#444" stroke-width="0.8"/>
<line x1="122.15" y1="479.60" x2="122.15" y2="481.40" stroke="#444" stroke-width="0.8"/>
<text x="43.00" y="489.20" font-size="5.3" text-anchor="middle" font-weight="bold" fill="#111" >0</text>
<text x="74.90" y="489.20" font-size="5.3" text-anchor="middle" font-weight="bold" fill="#111" >0.5</text>
<text x="106.40" y="489.20" font-size="5.3" text-anchor="middle" font-weight="bold" fill="#111" >1</text>
<text x="137.70" y="489.20" font-size="5.3" text-anchor="middle" font-weight="bold" fill="#111" >2</text>
<text x="148.05" y="489.20" font-size="5.3" text-anchor="start" font-weight="bold" fill="#111" textLength="12.00" lengthAdjust="spacingAndGlyphs" >(&#181;M)</text>
<text x="0.30" y="489.20" font-size="5.3" text-anchor="start" font-weight="bold" fill="#111" textLength="23.80" lengthAdjust="spacingAndGlyphs" >MKT&#8211;077</text>
<rect x="100.70" y="390.90" width="3.4" height="3.3" fill="#fff" stroke="#222" stroke-width="1.0"/>
<rect x="100.20" y="398.20" width="4.4" height="4.3" fill="#000"/>
<text x="106.30" y="394.70" font-size="5.8" text-anchor="start" font-weight="bold" fill="#111" textLength="21.20" lengthAdjust="spacingAndGlyphs" >NAC (&#8211;)</text>
<text x="106.30" y="402.60" font-size="5.8" text-anchor="start" font-weight="bold" fill="#111" textLength="21.20" lengthAdjust="spacingAndGlyphs" >NAC (+)</text>
<text x="0" y="0" font-size="6.5" font-weight="bold" fill="#111" text-anchor="middle" textLength="86.00" lengthAdjust="spacingAndGlyphs" transform="translate(13.60 435.60) rotate(-90)">Absolute  HSC number (x10<tspan font-size="4.6" dy="-2.2">2</tspan><tspan dy="2.2">)</tspan></text>
<path d="M38.50 407.60 V399.30 H69.40 V425.50" fill="none" stroke="#666" stroke-width="1.1"/>
<path d="M71.80 425.50 V415.80 H101.80 V455.30" fill="none" stroke="#666" stroke-width="1.1"/>
<path d="M133.90 459.50 V416.00 H143.20 V446.50" fill="none" stroke="#666" stroke-width="1.1"/>
<circle cx="53.15" cy="395.25" r="1.5" fill="#111"/>
<circle cx="56.55" cy="395.25" r="1.5" fill="#111"/>
<circle cx="84.65" cy="412.15" r="1.5" fill="#111"/>
<circle cx="88.05" cy="412.15" r="1.5" fill="#111"/>
<circle cx="91.45" cy="412.15" r="1.5" fill="#111"/>
<circle cx="138.50" cy="412.30" r="1.5" fill="#111"/>
<text x="179.30" y="271.10" font-size="11.2" text-anchor="start" font-weight="bold" fill="#111" >C</text>
<line x1="225.55" y1="336.80" x2="225.55" y2="332.60" stroke="#555" stroke-width="1.0"/>
<path d="M223.55 331.20H227.55L226.15 333.40H224.95Z" fill="#444"/>
<rect x="221.40" y="337.30" width="8.30" height="23.60" fill="#fff" stroke="#4a4a4a" stroke-width="1.0"/>
<line x1="234.75" y1="338.10" x2="234.75" y2="333.10" stroke="#555" stroke-width="1.0"/>
<path d="M232.75 331.70H236.75L235.35 333.90H234.15Z" fill="#444"/>
<rect x="230.20" y="338.10" width="9.10" height="22.80" fill="#000"/>
<line x1="256.85" y1="333.40" x2="256.85" y2="329.70" stroke="#555" stroke-width="1.0"/>
<path d="M254.85 328.30H258.85L257.45 330.50H256.25Z" fill="#444"/>
<rect x="252.80" y="333.90" width="8.10" height="27.00" fill="#fff" stroke="#4a4a4a" stroke-width="1.0"/>
<line x1="265.95" y1="332.60" x2="265.95" y2="326.10" stroke="#555" stroke-width="1.0"/>
<path d="M263.95 324.70H267.95L266.55 326.90H265.35Z" fill="#444"/>
<rect x="261.40" y="332.60" width="9.10" height="28.30" fill="#000"/>
<line x1="288.75" y1="324.30" x2="288.75" y2="322.60" stroke="#555" stroke-width="1.0"/>
<path d="M286.75 321.20H290.75L289.35 323.40H288.15Z" fill="#444"/>
<rect x="284.70" y="324.80" width="8.10" height="36.10" fill="#fff" stroke="#4a4a4a" stroke-width="1.0"/>
<line x1="297.90" y1="332.20" x2="297.90" y2="328.40" stroke="#555" stroke-width="1.0"/>
<path d="M295.90 327.00H299.90L298.50 329.20H297.30Z" fill="#444"/>
<rect x="293.30" y="332.20" width="9.20" height="28.70" fill="#000"/>
<line x1="320.85" y1="298.00" x2="320.85" y2="292.60" stroke="#555" stroke-width="1.0"/>
<path d="M318.85 291.20H322.85L321.45 293.40H320.25Z" fill="#444"/>
<rect x="316.70" y="298.50" width="8.30" height="62.40" fill="#fff" stroke="#4a4a4a" stroke-width="1.0"/>
<line x1="330.20" y1="328.30" x2="330.20" y2="319.90" stroke="#555" stroke-width="1.0"/>
<path d="M328.20 318.50H332.20L330.80 320.70H329.60Z" fill="#444"/>
<rect x="325.50" y="328.30" width="9.40" height="32.60" fill="#000"/>
<line x1="214.10" y1="277.25" x2="214.10" y2="360.90" stroke="#444" stroke-width="1.0"/>
<line x1="213.10" y1="360.90" x2="341.25" y2="360.90" stroke="#444" stroke-width="1.0"/>
<line x1="341.25" y1="360.40" x2="341.25" y2="362.70" stroke="#444" stroke-width="0.8"/>
<line x1="211.90" y1="360.90" x2="214.10" y2="360.90" stroke="#444" stroke-width="0.8"/>
<text x="211.20" y="362.90" font-size="5.9" text-anchor="end" font-weight="bold" fill="#111" >0</text>
<line x1="211.90" y1="348.95" x2="214.10" y2="348.95" stroke="#444" stroke-width="0.8"/>
<text x="211.20" y="350.95" font-size="5.9" text-anchor="end" font-weight="bold" fill="#111" >0.5</text>
<line x1="211.90" y1="337.00" x2="214.10" y2="337.00" stroke="#444" stroke-width="0.8"/>
<text x="211.20" y="339.00" font-size="5.9" text-anchor="end" font-weight="bold" fill="#111" >1</text>
<line x1="211.90" y1="325.05" x2="214.10" y2="325.05" stroke="#444" stroke-width="0.8"/>
<text x="211.20" y="327.05" font-size="5.9" text-anchor="end" font-weight="bold" fill="#111" >1.5</text>
<line x1="211.90" y1="313.10" x2="214.10" y2="313.10" stroke="#444" stroke-width="0.8"/>
<text x="211.20" y="315.10" font-size="5.9" text-anchor="end" font-weight="bold" fill="#111" >2</text>
<line x1="211.90" y1="301.15" x2="214.10" y2="301.15" stroke="#444" stroke-width="0.8"/>
<text x="211.20" y="303.15" font-size="5.9" text-anchor="end" font-weight="bold" fill="#111" >2.5</text>
<line x1="211.90" y1="289.20" x2="214.10" y2="289.20" stroke="#444" stroke-width="0.8"/>
<text x="211.20" y="291.20" font-size="5.9" text-anchor="end" font-weight="bold" fill="#111" >3</text>
<line x1="211.90" y1="277.25" x2="214.10" y2="277.25" stroke="#444" stroke-width="0.8"/>
<text x="211.20" y="279.25" font-size="5.9" text-anchor="end" font-weight="bold" fill="#111" >3.5</text>
<line x1="245.80" y1="360.90" x2="245.80" y2="362.70" stroke="#444" stroke-width="0.8"/>
<line x1="277.35" y1="360.90" x2="277.35" y2="362.70" stroke="#444" stroke-width="0.8"/>
<line x1="309.35" y1="360.90" x2="309.35" y2="362.70" stroke="#444" stroke-width="0.8"/>
<text x="229.90" y="370.50" font-size="5.3" text-anchor="middle" font-weight="bold" fill="#111" >0</text>
<text x="261.10" y="370.50" font-size="5.3" text-anchor="middle" font-weight="bold" fill="#111" >0.5</text>
<text x="293.00" y="370.50" font-size="5.3" text-anchor="middle" font-weight="bold" fill="#111" >1</text>
<text x="325.20" y="370.50" font-size="5.3" text-anchor="middle" font-weight="bold" fill="#111" >2</text>
<text x="335.95" y="370.50" font-size="5.3" text-anchor="start" font-weight="bold" fill="#111" textLength="12.00" lengthAdjust="spacingAndGlyphs" >(&#181;M)</text>
<text x="187.70" y="370.50" font-size="5.3" text-anchor="start" font-weight="bold" fill="#111" textLength="23.80" lengthAdjust="spacingAndGlyphs" >MKT&#8211;077</text>
<rect x="227.40" y="267.90" width="3.4" height="3.3" fill="#fff" stroke="#222" stroke-width="1.0"/>
<rect x="226.90" y="275.20" width="4.4" height="4.3" fill="#000"/>
<text x="233.00" y="271.70" font-size="5.8" text-anchor="start" font-weight="bold" fill="#111" textLength="21.20" lengthAdjust="spacingAndGlyphs" >NAC (&#8211;)</text>
<text x="233.00" y="279.60" font-size="5.8" text-anchor="start" font-weight="bold" fill="#111" textLength="21.20" lengthAdjust="spacingAndGlyphs" >NAC (+)</text>
<text x="0" y="0" font-size="6.5" font-weight="bold" fill="#111" text-anchor="middle" textLength="83.20" lengthAdjust="spacingAndGlyphs" transform="translate(198.40 318.00) rotate(-90)">Intensity of DCF&#8211;DA in HSC</text>
<path d="M225.50 329.50 V308.70 H288.00 V319.50" fill="none" stroke="#666" stroke-width="1.1"/>
<path d="M290.20 319.50 V281.70 H319.70 V288.60" fill="none" stroke="#666" stroke-width="1.1"/>
<path d="M321.90 288.60 V281.70 H330.20 V317.30" fill="none" stroke="#666" stroke-width="1.1"/>
<circle cx="255.95" cy="304.85" r="1.5" fill="#111"/>
<circle cx="259.35" cy="304.85" r="1.5" fill="#111"/>
<circle cx="302.60" cy="277.95" r="1.5" fill="#111"/>
<circle cx="306.00" cy="277.95" r="1.5" fill="#111"/>
<circle cx="309.40" cy="277.95" r="1.5" fill="#111"/>
<circle cx="322.95" cy="277.95" r="1.5" fill="#111"/>
<circle cx="326.35" cy="277.95" r="1.5" fill="#111"/>
<circle cx="329.75" cy="277.95" r="1.5" fill="#111"/>
<line x1="225.55" y1="417.50" x2="225.55" y2="407.00" stroke="#555" stroke-width="1.0"/>
<path d="M223.55 405.60H227.55L226.15 407.80H224.95Z" fill="#444"/>
<rect x="221.40" y="418.00" width="8.30" height="61.30" fill="#fff" stroke="#4a4a4a" stroke-width="1.0"/>
<line x1="234.75" y1="431.40" x2="234.75" y2="417.30" stroke="#555" stroke-width="1.0"/>
<path d="M232.75 415.90H236.75L235.35 418.10H234.15Z" fill="#444"/>
<rect x="230.20" y="431.40" width="9.10" height="47.90" fill="#000"/>
<line x1="256.85" y1="421.50" x2="256.85" y2="418.10" stroke="#555" stroke-width="1.0"/>
<path d="M254.85 416.70H258.85L257.45 418.90H256.25Z" fill="#444"/>
<rect x="252.80" y="422.00" width="8.10" height="57.30" fill="#fff" stroke="#4a4a4a" stroke-width="1.0"/>
<line x1="265.95" y1="434.00" x2="265.95" y2="423.30" stroke="#555" stroke-width="1.0"/>
<path d="M263.95 421.90H267.95L266.55 424.10H265.35Z" fill="#444"/>
<rect x="261.40" y="434.00" width="9.10" height="45.30" fill="#000"/>
<line x1="288.75" y1="415.80" x2="288.75" y2="413.50" stroke="#555" stroke-width="1.0"/>
<path d="M286.75 412.10H290.75L289.35 414.30H288.15Z" fill="#444"/>
<rect x="284.70" y="416.30" width="8.10" height="63.00" fill="#fff" stroke="#4a4a4a" stroke-width="1.0"/>
<line x1="297.90" y1="422.30" x2="297.90" y2="414.20" stroke="#555" stroke-width="1.0"/>
<path d="M295.90 412.80H299.90L298.50 415.00H297.30Z" fill="#444"/>
<rect x="293.30" y="422.30" width="9.20" height="57.00" fill="#000"/>
<line x1="320.85" y1="406.70" x2="320.85" y2="400.00" stroke="#555" stroke-width="1.0"/>
<path d="M318.85 398.60H322.85L321.45 400.80H320.25Z" fill="#444"/>
<rect x="316.70" y="407.20" width="8.30" height="72.10" fill="#fff" stroke="#4a4a4a" stroke-width="1.0"/>
<line x1="330.20" y1="426.00" x2="330.20" y2="413.50" stroke="#555" stroke-width="1.0"/>
<path d="M328.20 412.10H332.20L330.80 414.30H329.60Z" fill="#444"/>
<rect x="325.50" y="426.00" width="9.40" height="53.30" fill="#000"/>
<line x1="213.90" y1="395.11" x2="213.90" y2="479.30" stroke="#444" stroke-width="1.0"/>
<line x1="212.90" y1="479.30" x2="341.25" y2="479.30" stroke="#444" stroke-width="1.0"/>
<line x1="341.25" y1="478.80" x2="341.25" y2="481.10" stroke="#444" stroke-width="0.8"/>
<line x1="211.70" y1="479.30" x2="213.90" y2="479.30" stroke="#444" stroke-width="0.8"/>
<text x="211.00" y="481.30" font-size="5.9" text-anchor="end" font-weight="bold" fill="#111" >0</text>
<line x1="211.70" y1="469.94" x2="213.90" y2="469.94" stroke="#444" stroke-width="0.8"/>
<text x="211.00" y="471.94" font-size="5.9" text-anchor="end" font-weight="bold" fill="#111" >0.5</text>
<line x1="211.70" y1="460.59" x2="213.90" y2="460.59" stroke="#444" stroke-width="0.8"/>
<text x="211.00" y="462.59" font-size="5.9" text-anchor="end" font-weight="bold" fill="#111" >1</text>
<line x1="211.70" y1="451.24" x2="213.90" y2="451.24" stroke="#444" stroke-width="0.8"/>
<text x="211.00" y="453.24" font-size="5.9" text-anchor="end" font-weight="bold" fill="#111" >1.5</text>
<line x1="211.70" y1="441.88" x2="213.90" y2="441.88" stroke="#444" stroke-width="0.8"/>
<text x="211.00" y="443.88" font-size="5.9" text-anchor="end" font-weight="bold" fill="#111" >2</text>
<line x1="211.70" y1="432.52" x2="213.90" y2="432.52" stroke="#444" stroke-width="0.8"/>
<text x="211.00" y="434.52" font-size="5.9" text-anchor="end" font-weight="bold" fill="#111" >2.5</text>
<line x1="211.70" y1="423.17" x2="213.90" y2="423.17" stroke="#444" stroke-width="0.8"/>
<text x="211.00" y="425.17" font-size="5.9" text-anchor="end" font-weight="bold" fill="#111" >3</text>
<line x1="211.70" y1="413.81" x2="213.90" y2="413.81" stroke="#444" stroke-width="0.8"/>
<text x="211.00" y="415.81" font-size="5.9" text-anchor="end" font-weight="bold" fill="#111" >3.5</text>
<line x1="211.70" y1="404.46" x2="213.90" y2="404.46" stroke="#444" stroke-width="0.8"/>
<text x="211.00" y="406.46" font-size="5.9" text-anchor="end" font-weight="bold" fill="#111" >4</text>
<line x1="211.70" y1="395.11" x2="213.90" y2="395.11" stroke="#444" stroke-width="0.8"/>
<text x="211.00" y="397.11" font-size="5.9" text-anchor="end" font-weight="bold" fill="#111" >4.5</text>
<line x1="245.80" y1="479.30" x2="245.80" y2="481.10" stroke="#444" stroke-width="0.8"/>
<line x1="277.35" y1="479.30" x2="277.35" y2="481.10" stroke="#444" stroke-width="0.8"/>
<line x1="309.35" y1="479.30" x2="309.35" y2="481.10" stroke="#444" stroke-width="0.8"/>
<text x="229.90" y="488.90" font-size="5.3" text-anchor="middle" font-weight="bold" fill="#111" >0</text>
<text x="261.10" y="488.90" font-size="5.3" text-anchor="middle" font-weight="bold" fill="#111" >0.5</text>
<text x="293.00" y="488.90" font-size="5.3" text-anchor="middle" font-weight="bold" fill="#111" >1</text>
<text x="325.20" y="488.90" font-size="5.3" text-anchor="middle" font-weight="bold" fill="#111" >2</text>
<text x="335.95" y="488.90" font-size="5.3" text-anchor="start" font-weight="bold" fill="#111" textLength="12.00" lengthAdjust="spacingAndGlyphs" >(&#181;M)</text>
<text x="187.70" y="488.90" font-size="5.3" text-anchor="start" font-weight="bold" fill="#111" textLength="23.80" lengthAdjust="spacingAndGlyphs" >MKT&#8211;077</text>
<rect x="278.00" y="390.00" width="3.4" height="3.3" fill="#fff" stroke="#222" stroke-width="1.0"/>
<rect x="277.50" y="397.30" width="4.4" height="4.3" fill="#000"/>
<text x="283.60" y="393.80" font-size="5.8" text-anchor="start" font-weight="bold" fill="#111" textLength="21.20" lengthAdjust="spacingAndGlyphs" >NAC (&#8211;)</text>
<text x="283.60" y="401.70" font-size="5.8" text-anchor="start" font-weight="bold" fill="#111" textLength="21.20" lengthAdjust="spacingAndGlyphs" >NAC (+)</text>
<text x="0" y="0" font-size="6.5" font-weight="bold" fill="#111" text-anchor="middle" textLength="83.60" lengthAdjust="spacingAndGlyphs" transform="translate(198.40 436.80) rotate(-90)">Intensity of DCF&#8211;DA in HPC</text>
<text x="359.60" y="270.70" font-size="11.0" text-anchor="start" font-weight="bold" fill="#111" >D</text>
<line x1="398.00" y1="287.20" x2="398.00" y2="281.70" stroke="#555" stroke-width="1.0"/>
<path d="M396.00 280.30H400.00L398.60 282.50H397.40Z" fill="#444"/>
<rect x="393.80" y="287.70" width="8.40" height="73.20" fill="#fff" stroke="#4a4a4a" stroke-width="1.0"/>
<line x1="407.20" y1="289.30" x2="407.20" y2="287.70" stroke="#555" stroke-width="1.0"/>
<path d="M405.20 286.30H409.20L407.80 288.50H406.60Z" fill="#444"/>
<rect x="402.70" y="289.30" width="9.00" height="71.60" fill="#000"/>
<line x1="429.15" y1="294.50" x2="429.15" y2="291.00" stroke="#555" stroke-width="1.0"/>
<path d="M427.15 289.60H431.15L429.75 291.80H428.55Z" fill="#444"/>
<rect x="425.00" y="295.00" width="8.30" height="65.90" fill="#fff" stroke="#4a4a4a" stroke-width="1.0"/>
<line x1="438.60" y1="292.60" x2="438.60" y2="289.50" stroke="#555" stroke-width="1.0"/>
<path d="M436.60 288.10H440.60L439.20 290.30H438.00Z" fill="#444"/>
<rect x="433.80" y="292.60" width="9.60" height="68.30" fill="#000"/>
<line x1="461.30" y1="313.20" x2="461.30" y2="311.00" stroke="#555" stroke-width="1.0"/>
<path d="M459.30 309.60H463.30L461.90 311.80H460.70Z" fill="#444"/>
<rect x="457.10" y="313.70" width="8.40" height="47.20" fill="#fff" stroke="#4a4a4a" stroke-width="1.0"/>
<line x1="470.75" y1="315.50" x2="470.75" y2="310.70" stroke="#555" stroke-width="1.0"/>
<path d="M468.75 309.30H472.75L471.35 311.50H470.15Z" fill="#444"/>
<rect x="466.00" y="315.50" width="9.50" height="45.40" fill="#000"/>
<line x1="493.05" y1="334.10" x2="493.05" y2="332.10" stroke="#555" stroke-width="1.0"/>
<path d="M491.05 330.70H495.05L493.65 332.90H492.45Z" fill="#444"/>
<rect x="488.90" y="334.60" width="8.30" height="26.30" fill="#fff" stroke="#4a4a4a" stroke-width="1.0"/>
<line x1="502.35" y1="316.00" x2="502.35" y2="312.90" stroke="#555" stroke-width="1.0"/>
<path d="M500.35 311.50H504.35L502.95 313.70H501.75Z" fill="#444"/>
<rect x="497.70" y="316.00" width="9.30" height="44.90" fill="#000"/>
<line x1="386.50" y1="276.00" x2="386.50" y2="360.90" stroke="#444" stroke-width="1.0"/>
<line x1="385.50" y1="360.90" x2="513.45" y2="360.90" stroke="#444" stroke-width="1.0"/>
<line x1="513.45" y1="360.40" x2="513.45" y2="362.70" stroke="#444" stroke-width="0.8"/>
<line x1="384.30" y1="360.90" x2="386.50" y2="360.90" stroke="#444" stroke-width="0.8"/>
<text x="383.60" y="362.90" font-size="5.9" text-anchor="end" font-weight="bold" fill="#111" >0</text>
<line x1="384.30" y1="352.41" x2="386.50" y2="352.41" stroke="#444" stroke-width="0.8"/>
<text x="383.60" y="354.41" font-size="5.9" text-anchor="end" font-weight="bold" fill="#111" >10</text>
<line x1="384.30" y1="343.92" x2="386.50" y2="343.92" stroke="#444" stroke-width="0.8"/>
<text x="383.60" y="345.92" font-size="5.9" text-anchor="end" font-weight="bold" fill="#111" >20</text>
<line x1="384.30" y1="335.43" x2="386.50" y2="335.43" stroke="#444" stroke-width="0.8"/>
<text x="383.60" y="337.43" font-size="5.9" text-anchor="end" font-weight="bold" fill="#111" >30</text>
<line x1="384.30" y1="326.94" x2="386.50" y2="326.94" stroke="#444" stroke-width="0.8"/>
<text x="383.60" y="328.94" font-size="5.9" text-anchor="end" font-weight="bold" fill="#111" >40</text>
<line x1="384.30" y1="318.45" x2="386.50" y2="318.45" stroke="#444" stroke-width="0.8"/>
<text x="383.60" y="320.45" font-size="5.9" text-anchor="end" font-weight="bold" fill="#111" >50</text>
<line x1="384.30" y1="309.96" x2="386.50" y2="309.96" stroke="#444" stroke-width="0.8"/>
<text x="383.60" y="311.96" font-size="5.9" text-anchor="end" font-weight="bold" fill="#111" >60</text>
<line x1="384.30" y1="301.47" x2="386.50" y2="301.47" stroke="#444" stroke-width="0.8"/>
<text x="383.60" y="303.47" font-size="5.9" text-anchor="end" font-weight="bold" fill="#111" >70</text>
<line x1="384.30" y1="292.98" x2="386.50" y2="292.98" stroke="#444" stroke-width="0.8"/>
<text x="383.60" y="294.98" font-size="5.9" text-anchor="end" font-weight="bold" fill="#111" >80</text>
<line x1="384.30" y1="284.49" x2="386.50" y2="284.49" stroke="#444" stroke-width="0.8"/>
<text x="383.60" y="286.49" font-size="5.9" text-anchor="end" font-weight="bold" fill="#111" >90</text>
<line x1="384.30" y1="276.00" x2="386.50" y2="276.00" stroke="#444" stroke-width="0.8"/>
<text x="383.60" y="278.00" font-size="5.9" text-anchor="end" font-weight="bold" fill="#111" >100</text>
<line x1="418.10" y1="360.90" x2="418.10" y2="362.70" stroke="#444" stroke-width="0.8"/>
<line x1="450.00" y1="360.90" x2="450.00" y2="362.70" stroke="#444" stroke-width="0.8"/>
<line x1="481.95" y1="360.90" x2="481.95" y2="362.70" stroke="#444" stroke-width="0.8"/>
<text x="402.40" y="370.50" font-size="5.3" text-anchor="middle" font-weight="bold" fill="#111" >0</text>
<text x="433.50" y="370.50" font-size="5.3" text-anchor="middle" font-weight="bold" fill="#111" >0.5</text>
<text x="465.70" y="370.50" font-size="5.3" text-anchor="middle" font-weight="bold" fill="#111" >1</text>
<text x="497.40" y="370.50" font-size="5.3" text-anchor="middle" font-weight="bold" fill="#111" >2</text>
<text x="508.45" y="370.50" font-size="5.3" text-anchor="start" font-weight="bold" fill="#111" textLength="12.00" lengthAdjust="spacingAndGlyphs" >(&#181;M)</text>
<text x="360.50" y="370.50" font-size="5.3" text-anchor="start" font-weight="bold" fill="#111" textLength="23.80" lengthAdjust="spacingAndGlyphs" >MKT&#8211;077</text>
<rect x="468.70" y="267.80" width="3.4" height="3.3" fill="#fff" stroke="#222" stroke-width="1.0"/>
<rect x="468.20" y="275.10" width="4.4" height="4.3" fill="#000"/>
<text x="474.30" y="271.60" font-size="5.8" text-anchor="start" font-weight="bold" fill="#111" textLength="21.20" lengthAdjust="spacingAndGlyphs" >NAC (&#8211;)</text>
<text x="474.30" y="279.50" font-size="5.8" text-anchor="start" font-weight="bold" fill="#111" textLength="21.20" lengthAdjust="spacingAndGlyphs" >NAC (+)</text>
<text x="0" y="0" font-size="6.5" font-weight="bold" fill="#111" text-anchor="middle" textLength="55.20" lengthAdjust="spacingAndGlyphs" transform="translate(371.50 317.40) rotate(-90)">Number of colonies</text>
<path d="M398.00 280.20 V273.70 H460.60 V307.50" fill="none" stroke="#666" stroke-width="1.1"/>
<path d="M462.50 307.50 V302.10 H491.90 V328.10" fill="none" stroke="#666" stroke-width="1.1"/>
<path d="M494.40 328.10 V302.10 H502.50 V311.90" fill="none" stroke="#666" stroke-width="1.1"/>
<circle cx="427.95" cy="270.50" r="1.5" fill="#111"/>
<circle cx="431.35" cy="270.50" r="1.5" fill="#111"/>
<circle cx="474.60" cy="299.30" r="1.5" fill="#111"/>
<circle cx="478.00" cy="299.30" r="1.5" fill="#111"/>
<circle cx="481.40" cy="299.30" r="1.5" fill="#111"/>
<circle cx="495.40" cy="299.30" r="1.5" fill="#111"/>
<circle cx="498.80" cy="299.30" r="1.5" fill="#111"/>
<circle cx="502.20" cy="299.30" r="1.5" fill="#111"/>
</svg>
</body></html>
